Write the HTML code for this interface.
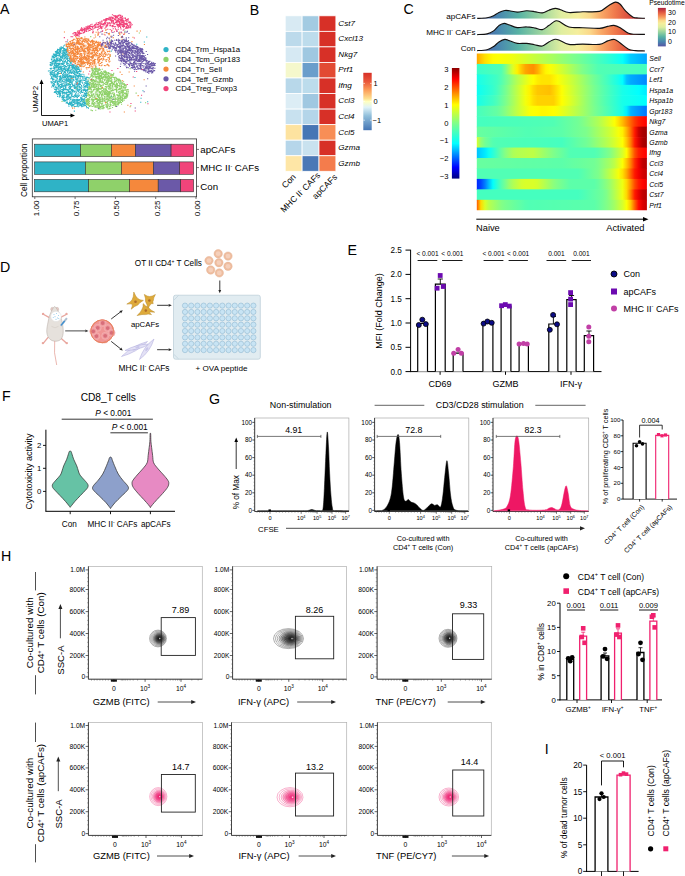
<!DOCTYPE html>
<html><head><meta charset="utf-8"><style>
html,body{margin:0;padding:0;background:#fff;overflow:hidden}
svg{display:block;font-family:"Liberation Sans",sans-serif}
.pl{font-size:14.2px}
</style></head><body>
<svg width="685" height="876" viewBox="0 0 685 876">
<text x="0" y="14" class="pl">A</text>
<path d="M60.9 53.3h.1M52.0 76.3h.1M66.6 96.5h.1M74.7 104.1h.1M55.4 51.6h.1M56.9 81.0h.1M52.1 57.2h.1M62.2 81.2h.1M81.3 88.4h.1M70.6 99.5h.1M66.3 92.1h.1M80.1 80.4h.1M77.4 81.8h.1M83.1 103.9h.1M65.1 86.5h.1M56.4 51.6h.1M54.8 59.8h.1M52.9 72.6h.1M82.3 98.8h.1M64.0 100.1h.1M56.7 58.9h.1M49.9 70.7h.1M87.6 87.8h.1M85.5 93.5h.1M65.3 69.4h.1M59.0 54.5h.1M53.7 67.2h.1M59.7 66.2h.1M67.5 76.0h.1M84.1 88.2h.1M56.3 93.0h.1M62.8 58.3h.1M70.0 68.0h.1M77.3 104.7h.1M64.2 58.1h.1M57.8 83.6h.1M66.7 82.1h.1M80.8 91.6h.1M81.6 105.6h.1M87.4 90.0h.1M82.6 106.2h.1M75.6 77.5h.1M84.4 96.4h.1M61.4 59.4h.1M66.4 52.5h.1M67.9 81.1h.1M67.2 55.8h.1M56.6 74.1h.1M62.7 77.0h.1M53.9 79.6h.1M80.4 76.3h.1M74.1 76.2h.1M67.7 77.9h.1M77.5 99.6h.1M72.0 103.8h.1M54.5 72.1h.1M80.9 100.9h.1M84.8 105.3h.1M65.6 75.0h.1M56.1 71.5h.1M55.7 63.7h.1M50.4 65.2h.1M81.1 105.6h.1M60.5 52.4h.1M71.7 86.7h.1M75.0 94.9h.1M67.8 65.6h.1M60.4 52.4h.1M54.1 54.4h.1M62.1 63.5h.1M78.9 79.0h.1M69.4 96.9h.1M77.1 106.3h.1M77.8 84.4h.1M59.9 54.5h.1M84.3 86.6h.1M61.4 73.2h.1M62.0 66.7h.1M68.6 76.0h.1M52.8 70.7h.1M73.0 77.6h.1M78.2 99.8h.1M78.5 84.9h.1M70.5 76.1h.1M78.0 89.3h.1M71.9 83.9h.1M81.4 91.5h.1M52.7 61.0h.1M79.1 105.9h.1M68.8 87.4h.1M55.6 60.2h.1M52.1 61.2h.1M71.2 72.8h.1M50.4 73.2h.1M67.6 61.2h.1M58.1 80.9h.1M82.3 76.4h.1M67.6 63.3h.1M62.3 97.3h.1M61.2 67.7h.1M73.1 67.0h.1M60.3 76.5h.1M86.9 77.0h.1M80.5 84.5h.1M68.5 65.9h.1M71.9 69.1h.1M69.5 58.1h.1M67.2 53.7h.1M59.2 60.5h.1M79.5 70.3h.1M64.7 65.6h.1M69.7 84.0h.1M60.5 59.9h.1M59.6 51.1h.1M76.8 103.7h.1M80.4 71.8h.1M86.3 85.0h.1M61.7 85.4h.1M72.9 68.7h.1M75.4 100.1h.1M50.6 75.7h.1M59.9 86.4h.1M51.1 65.6h.1M57.6 94.6h.1M62.1 96.0h.1M57.2 58.3h.1M65.4 57.7h.1M65.4 101.0h.1M62.8 55.9h.1M64.8 67.8h.1M58.0 66.7h.1M68.5 67.8h.1M64.2 100.9h.1M85.7 94.2h.1M59.9 91.4h.1M79.8 102.1h.1M68.6 104.7h.1M59.7 71.4h.1M73.9 64.9h.1M59.8 92.3h.1M86.6 107.8h.1M77.9 72.4h.1M74.4 86.8h.1M72.3 67.8h.1M59.5 59.7h.1M72.7 64.8h.1M69.9 58.8h.1M68.6 96.0h.1M51.3 62.8h.1M88.4 81.1h.1M58.0 91.9h.1M58.4 67.5h.1M59.8 82.1h.1M50.2 64.9h.1M62.1 57.1h.1M66.9 81.3h.1M66.0 62.1h.1M62.1 80.0h.1M64.2 56.7h.1M66.6 96.0h.1M68.0 54.5h.1M75.2 101.7h.1M64.5 76.1h.1M70.4 102.7h.1M81.7 105.3h.1M58.5 69.8h.1M57.0 58.0h.1M65.0 52.0h.1M72.1 92.1h.1M54.4 82.1h.1M61.9 70.7h.1M74.4 71.0h.1M59.1 92.5h.1M56.8 74.1h.1M66.8 50.0h.1M80.6 76.5h.1M63.7 92.0h.1M60.6 95.7h.1M60.6 77.2h.1M56.4 93.8h.1M75.0 66.9h.1M72.8 100.0h.1M74.8 69.1h.1M64.0 92.5h.1M75.1 106.4h.1M74.2 71.5h.1M56.6 58.6h.1M53.9 66.8h.1M74.5 74.2h.1M59.4 53.6h.1M84.4 93.6h.1M72.1 66.3h.1M87.0 90.6h.1M51.5 77.8h.1M57.6 82.6h.1M62.0 63.2h.1M80.9 89.4h.1M79.4 73.6h.1M57.2 53.4h.1M77.4 97.6h.1M71.7 71.8h.1M60.3 84.8h.1M60.1 59.1h.1M74.8 88.0h.1M68.4 97.3h.1M67.1 90.0h.1M58.1 83.5h.1M62.5 50.8h.1M77.4 90.8h.1M64.2 95.9h.1M86.1 103.9h.1M85.0 85.9h.1M57.8 65.8h.1M78.2 67.5h.1M68.1 99.0h.1M77.7 78.2h.1M55.7 92.5h.1M69.4 66.1h.1M57.8 87.8h.1M74.7 66.7h.1M57.9 60.8h.1M64.8 100.1h.1M70.9 91.9h.1M63.6 64.8h.1M76.1 91.1h.1M80.5 80.8h.1M57.3 63.3h.1M55.9 54.1h.1M62.8 56.2h.1M53.7 68.5h.1M78.9 71.7h.1M51.4 59.1h.1M77.3 75.8h.1M55.3 82.4h.1M72.5 91.5h.1M78.4 99.8h.1M65.0 65.5h.1M78.1 84.0h.1M67.8 83.5h.1M75.7 93.4h.1M78.8 102.6h.1M78.2 76.6h.1M70.5 70.1h.1M76.9 69.0h.1M50.3 62.5h.1M77.5 66.5h.1M79.2 103.6h.1M58.1 52.4h.1M74.9 73.9h.1M75.1 95.9h.1M61.4 78.9h.1M63.8 98.0h.1M59.5 69.7h.1M59.4 63.3h.1M75.1 85.9h.1M82.7 101.4h.1M85.3 83.4h.1M59.7 50.6h.1M76.3 100.7h.1M57.6 88.0h.1M67.2 100.0h.1M58.0 53.2h.1M69.3 75.7h.1M68.3 79.8h.1M63.0 68.7h.1M76.9 103.1h.1M69.5 72.4h.1M63.2 98.7h.1M70.6 92.9h.1M66.5 79.2h.1M69.7 61.4h.1M75.8 94.3h.1M61.6 81.3h.1M84.9 78.7h.1M81.1 101.7h.1M74.6 88.2h.1M58.2 86.4h.1M53.7 55.7h.1M86.1 85.6h.1M81.0 79.7h.1M66.5 64.3h.1M70.8 103.8h.1M68.6 70.3h.1M57.8 53.0h.1M59.8 87.7h.1M83.7 90.3h.1M77.9 73.3h.1M86.1 86.8h.1M52.9 63.9h.1M84.0 74.9h.1M72.6 71.9h.1M75.4 84.0h.1M81.0 103.9h.1M61.3 48.0h.1M73.8 106.0h.1M62.0 71.3h.1M77.0 82.2h.1M60.2 70.9h.1M72.5 61.5h.1M73.9 100.9h.1M57.7 91.6h.1M73.9 87.0h.1M59.8 91.7h.1M72.8 100.9h.1M68.7 81.4h.1M56.9 88.5h.1M67.5 76.9h.1M53.9 84.2h.1M78.8 67.1h.1M60.1 93.4h.1M54.3 54.3h.1M66.5 103.0h.1M59.9 79.9h.1M76.4 69.0h.1M59.9 66.4h.1M55.5 91.9h.1M61.0 82.8h.1M54.6 74.6h.1M55.4 87.0h.1M74.7 72.8h.1M68.7 83.9h.1M66.1 54.0h.1M63.0 54.8h.1M85.3 86.4h.1M61.1 60.5h.1M63.3 53.1h.1M67.0 101.8h.1M55.2 55.6h.1M57.5 49.2h.1M69.4 61.5h.1M77.9 95.5h.1M65.9 89.8h.1M63.0 97.4h.1M68.7 99.3h.1M54.3 67.4h.1M78.1 95.8h.1M81.1 65.1h.1M69.4 76.6h.1M58.6 55.7h.1M51.6 87.0h.1M70.5 88.6h.1M54.6 75.4h.1M54.6 69.8h.1M72.5 91.4h.1M66.4 97.3h.1M87.2 93.3h.1M63.0 71.7h.1M81.5 95.2h.1M66.5 84.2h.1M55.5 75.2h.1M80.6 103.4h.1M84.9 100.1h.1M60.3 87.1h.1M86.5 83.5h.1M61.1 63.5h.1M73.4 104.6h.1M68.3 77.9h.1M54.9 62.8h.1M59.4 49.8h.1M74.0 80.2h.1M78.0 73.3h.1M68.4 63.8h.1M67.9 71.3h.1M59.2 79.4h.1M65.8 76.5h.1M63.1 66.5h.1M83.5 96.1h.1M79.3 92.2h.1M77.9 102.0h.1M73.0 75.7h.1M66.3 93.7h.1M64.8 72.8h.1M61.4 68.9h.1M62.5 93.9h.1M67.4 55.8h.1M72.6 81.0h.1M62.6 97.5h.1M60.1 71.8h.1M69.5 102.4h.1M70.3 87.5h.1M73.4 66.4h.1M64.6 69.5h.1M84.7 105.2h.1M63.4 77.7h.1M82.6 76.6h.1M77.2 96.1h.1M66.5 54.1h.1M57.0 84.0h.1M89.3 84.4h.1M61.8 97.4h.1M57.5 75.7h.1M75.4 77.8h.1M66.1 51.9h.1M56.5 77.2h.1M62.5 89.4h.1M60.3 50.5h.1M65.4 71.1h.1M85.5 95.8h.1M65.2 89.6h.1M59.4 55.2h.1M73.3 70.9h.1M63.7 59.7h.1M76.1 65.8h.1M53.4 61.2h.1M67.3 97.1h.1M63.7 89.9h.1M85.5 81.3h.1M70.1 78.5h.1M65.0 85.8h.1M65.2 49.6h.1M62.5 86.1h.1M63.6 77.0h.1M54.7 89.5h.1M85.9 93.2h.1M55.0 61.7h.1M76.1 66.4h.1M79.5 90.3h.1M61.8 68.3h.1M83.1 80.2h.1M68.6 84.8h.1M61.1 46.9h.1M51.6 59.6h.1M77.3 69.1h.1M60.9 49.9h.1M82.1 82.1h.1M70.1 102.9h.1M71.4 105.5h.1M59.6 48.0h.1M57.7 63.8h.1M59.3 76.8h.1M63.7 63.1h.1M72.1 65.3h.1M76.2 82.0h.1M61.0 68.2h.1M77.6 72.5h.1M73.9 67.5h.1M76.3 106.3h.1M57.3 78.5h.1M75.4 83.9h.1M60.2 56.3h.1M61.5 55.9h.1M62.7 55.9h.1M64.4 79.0h.1M72.3 83.9h.1M85.7 103.9h.1M55.6 62.1h.1M69.1 53.3h.1M81.0 71.1h.1M70.2 70.8h.1M76.2 96.4h.1M61.5 72.2h.1M57.5 49.6h.1M84.1 105.8h.1M76.6 82.7h.1M63.4 100.1h.1M76.7 72.5h.1M64.5 80.9h.1M72.2 69.2h.1M85.1 78.8h.1M59.8 50.2h.1M69.2 79.2h.1M53.6 77.0h.1M67.2 98.8h.1M65.3 55.0h.1M59.1 67.7h.1M58.2 63.2h.1M72.1 102.2h.1M54.6 67.8h.1M71.5 95.0h.1M57.4 72.4h.1M57.1 79.2h.1M64.9 53.3h.1M76.6 96.1h.1M71.0 102.4h.1M76.7 69.0h.1M84.4 82.8h.1M56.5 67.0h.1M65.1 66.6h.1M60.6 75.8h.1M67.9 103.5h.1M84.4 93.1h.1M64.1 62.0h.1M87.1 87.3h.1M79.1 76.4h.1M71.6 69.9h.1M68.9 67.4h.1M63.6 52.8h.1M67.7 72.4h.1M61.7 63.7h.1M86.4 81.1h.1M63.9 93.1h.1M52.4 74.8h.1M56.2 61.1h.1M65.6 56.9h.1M80.3 101.6h.1M63.3 52.8h.1M58.1 64.9h.1M65.4 87.4h.1M74.6 65.3h.1M59.9 73.5h.1M51.9 83.0h.1M53.4 54.1h.1M66.5 78.2h.1M75.9 82.2h.1M60.0 89.2h.1M62.0 93.0h.1M60.8 77.3h.1M50.1 74.3h.1M59.2 92.5h.1M69.7 79.3h.1M64.3 53.6h.1M69.6 84.4h.1M67.9 64.0h.1M73.7 68.9h.1M59.7 60.8h.1M57.8 92.2h.1M84.1 99.1h.1M62.9 74.9h.1M76.9 82.0h.1M80.7 98.8h.1M56.4 87.4h.1M57.7 94.2h.1M66.8 50.8h.1M62.3 99.7h.1M55.1 71.3h.1M54.3 92.5h.1M84.8 90.4h.1M60.2 48.6h.1M65.0 77.0h.1M71.3 78.9h.1M84.5 89.6h.1M65.1 68.6h.1M73.9 102.7h.1M66.4 56.8h.1M75.4 78.9h.1M74.8 91.2h.1M65.4 77.5h.1M62.5 83.9h.1M78.4 77.2h.1M70.7 77.3h.1M59.2 55.1h.1M75.2 96.5h.1M51.4 68.3h.1M52.6 56.5h.1M70.4 72.8h.1M67.6 74.4h.1M55.7 87.2h.1M59.2 67.6h.1M56.8 89.6h.1M59.3 96.9h.1M66.5 94.3h.1M51.4 72.2h.1M61.5 70.0h.1M63.7 68.6h.1M78.0 67.7h.1M64.8 77.4h.1M73.3 73.4h.1M66.2 74.1h.1M69.3 76.5h.1M79.2 69.6h.1M71.9 93.5h.1M76.1 87.4h.1M82.2 99.3h.1M60.1 64.0h.1M70.6 79.9h.1M81.6 98.3h.1M51.8 78.1h.1M69.2 81.1h.1M62.2 77.9h.1M62.6 61.5h.1M78.0 94.9h.1M67.0 84.6h.1M52.6 81.9h.1M72.0 94.8h.1M57.9 50.6h.1M85.6 87.1h.1M59.0 81.0h.1M62.6 97.4h.1M51.0 68.2h.1M68.2 90.2h.1M70.6 62.6h.1M69.5 103.0h.1M85.0 83.1h.1M85.2 97.6h.1M51.0 82.0h.1M87.3 85.7h.1M67.6 59.8h.1M52.5 79.5h.1M80.3 81.8h.1M72.7 66.5h.1M56.2 54.9h.1M83.2 99.4h.1M53.3 75.8h.1M71.0 76.2h.1M65.8 57.1h.1M69.1 94.2h.1M58.8 91.6h.1M50.9 69.1h.1M73.5 96.2h.1M74.3 87.9h.1M66.1 69.9h.1M78.9 87.1h.1M55.3 56.7h.1M80.7 101.6h.1M57.6 83.7h.1M63.6 54.5h.1M82.7 103.4h.1M67.0 96.4h.1M70.9 104.0h.1M57.6 73.1h.1M65.3 93.7h.1M65.9 49.7h.1M63.2 81.8h.1M73.8 73.1h.1M63.8 97.6h.1M53.2 61.3h.1M76.0 95.2h.1M57.0 61.4h.1M74.0 100.7h.1M67.8 95.4h.1M53.7 79.1h.1M85.3 86.3h.1M64.1 86.0h.1M70.5 87.0h.1M76.9 79.4h.1M51.1 64.8h.1M73.1 80.7h.1M79.4 84.7h.1M61.3 78.6h.1M75.5 95.1h.1M88.0 89.1h.1M56.1 80.6h.1M63.5 53.0h.1M56.2 90.9h.1M51.8 63.0h.1M57.4 66.3h.1M60.3 57.1h.1M62.2 53.8h.1M71.9 86.6h.1M70.8 62.4h.1M82.6 80.0h.1M60.3 59.6h.1M79.7 87.1h.1M54.1 63.6h.1M74.9 87.9h.1M87.1 91.1h.1M70.9 77.1h.1M55.0 65.6h.1M69.7 98.0h.1M65.8 80.5h.1M81.1 97.2h.1M79.7 75.8h.1M77.7 88.7h.1M52.4 82.3h.1M58.2 58.3h.1M64.0 88.4h.1M60.6 47.9h.1M58.6 84.0h.1M83.2 94.9h.1M69.8 71.0h.1M78.5 81.2h.1M81.7 105.0h.1M52.5 74.4h.1M76.9 89.0h.1M57.3 69.7h.1M79.0 76.8h.1M60.3 79.6h.1M79.5 104.1h.1M60.2 66.7h.1M63.8 101.0h.1M86.0 94.4h.1M72.1 76.3h.1M78.0 103.9h.1M78.8 68.5h.1M59.7 78.4h.1M85.1 78.0h.1M74.6 100.2h.1M57.9 59.6h.1M53.8 81.6h.1M67.9 81.2h.1M68.4 69.5h.1M59.2 85.3h.1M58.8 69.0h.1M78.1 90.6h.1M58.4 86.7h.1M88.4 89.1h.1M56.2 76.6h.1M85.1 102.1h.1M71.8 96.1h.1M71.9 94.3h.1M67.1 41.8h.1M66.8 51.2h.1M63.7 50.1h.1M64.3 63.3h.1M74.6 106.4h.1M77.3 82.0h.1M65.9 82.8h.1M83.0 89.5h.1M56.9 68.0h.1M75.7 103.1h.1M61.1 63.7h.1M80.4 93.2h.1M74.7 67.4h.1M56.1 77.8h.1M53.3 57.6h.1M78.2 106.7h.1M77.0 87.8h.1M59.6 60.5h.1M58.0 60.6h.1M73.2 85.7h.1M61.2 49.0h.1M54.2 75.4h.1M60.0 94.6h.1M78.6 71.6h.1M56.0 85.9h.1M56.9 53.3h.1M64.9 85.4h.1M64.3 77.3h.1M64.9 92.5h.1M58.4 68.5h.1M68.5 99.2h.1M50.9 71.9h.1M54.4 74.5h.1M67.2 51.7h.1M68.9 106.3h.1M72.1 99.2h.1M58.2 49.5h.1M68.0 90.4h.1M62.3 57.2h.1M68.4 91.0h.1M69.6 82.4h.1M81.7 104.0h.1M64.3 101.3h.1M73.5 101.2h.1M51.1 71.9h.1M79.5 81.1h.1M68.7 76.5h.1M67.9 58.5h.1M65.1 66.6h.1M67.8 79.7h.1M59.3 51.8h.1M55.2 77.2h.1M52.0 59.0h.1M67.7 70.0h.1M83.9 104.7h.1M67.4 47.6h.1M70.8 97.8h.1M59.4 85.8h.1M87.3 103.6h.1M56.9 87.9h.1M64.1 74.8h.1M65.8 87.1h.1M77.9 85.1h.1M57.9 70.1h.1M59.0 90.7h.1M59.8 59.2h.1M66.4 49.1h.1M72.7 66.7h.1M56.7 74.6h.1M56.1 67.6h.1M77.8 105.3h.1M61.7 60.4h.1M72.1 90.1h.1M58.9 61.0h.1M55.6 65.4h.1M67.2 75.0h.1M53.3 83.6h.1M81.2 90.3h.1M55.8 88.0h.1M57.8 94.0h.1M77.9 95.0h.1M53.4 86.1h.1M57.4 81.0h.1M59.3 60.5h.1M61.3 84.6h.1M62.1 86.1h.1M58.7 92.9h.1M61.4 63.6h.1M51.7 76.7h.1M57.6 51.8h.1M64.1 89.5h.1M65.1 74.8h.1M58.5 64.3h.1M67.5 102.8h.1M53.9 73.0h.1M68.3 80.3h.1M64.6 53.1h.1M70.9 96.9h.1M80.1 71.1h.1M54.4 60.6h.1M87.8 82.4h.1M78.2 90.6h.1M59.6 60.3h.1M62.5 55.1h.1M57.2 70.6h.1M83.5 96.0h.1M65.2 70.4h.1M66.0 84.4h.1M81.7 106.8h.1M75.8 68.3h.1M71.2 65.5h.1M71.5 73.0h.1M80.8 99.2h.1M60.0 49.3h.1M68.1 69.6h.1M62.0 84.2h.1M85.5 90.6h.1M73.1 96.6h.1M66.3 99.8h.1M64.1 67.2h.1M51.1 81.5h.1M66.8 50.0h.1M58.5 91.3h.1M67.0 68.3h.1M57.7 63.3h.1M57.1 78.8h.1M85.9 79.0h.1M69.7 101.0h.1M70.0 103.1h.1M74.8 95.0h.1M60.0 61.6h.1M78.2 91.5h.1M73.7 101.3h.1M78.4 91.6h.1M62.4 96.5h.1M81.4 87.0h.1M63.1 92.6h.1M56.1 70.1h.1M56.1 58.0h.1M62.3 76.1h.1M69.1 103.9h.1M77.6 105.3h.1M66.6 66.4h.1M83.5 90.2h.1M66.9 63.0h.1M79.0 104.2h.1M76.7 65.7h.1M65.7 55.7h.1M62.6 74.5h.1M70.9 102.9h.1M62.9 68.7h.1M60.1 67.6h.1M86.0 78.3h.1M60.2 90.6h.1M89.1 78.1h.1M57.4 91.5h.1M80.6 82.2h.1M56.1 55.6h.1M65.3 60.2h.1M56.7 55.6h.1M70.8 87.2h.1M81.2 80.6h.1M73.6 65.5h.1M83.9 102.0h.1M57.7 65.4h.1M76.3 80.2h.1M86.7 83.1h.1M62.4 92.1h.1M71.9 60.3h.1M55.6 92.3h.1M73.2 70.4h.1M60.7 51.4h.1M78.8 85.2h.1M66.7 80.3h.1M67.9 98.8h.1M75.0 68.0h.1M51.0 74.4h.1M68.2 73.8h.1M57.1 52.8h.1M57.1 75.8h.1M80.4 84.1h.1M86.1 95.1h.1M58.9 73.5h.1M76.9 79.2h.1M55.2 73.9h.1M64.3 79.2h.1M72.9 105.3h.1M57.8 52.0h.1M72.1 104.1h.1M87.5 84.3h.1M76.4 67.0h.1M57.9 76.3h.1M76.3 87.4h.1M72.4 91.4h.1M62.2 80.1h.1M86.0 82.5h.1M84.7 76.8h.1M65.8 88.3h.1M55.6 67.2h.1M74.5 85.5h.1M71.6 66.9h.1M55.3 54.2h.1M69.7 80.5h.1M52.0 70.9h.1M57.6 96.5h.1M63.1 92.6h.1M87.9 83.2h.1M53.2 85.2h.1M70.1 103.4h.1M61.9 64.7h.1M66.8 54.7h.1M83.4 85.2h.1M51.9 73.4h.1M76.5 71.5h.1M56.4 64.1h.1M63.0 61.0h.1M65.7 87.7h.1M52.5 78.5h.1M53.7 75.9h.1M76.4 75.5h.1M77.0 88.3h.1M62.5 47.6h.1M63.5 88.2h.1M84.1 84.4h.1M62.6 89.6h.1M85.9 93.9h.1M88.3 84.9h.1M57.5 77.0h.1M64.6 76.5h.1M60.7 76.0h.1M70.9 61.6h.1M80.8 76.9h.1M70.0 67.9h.1M77.9 95.9h.1M58.2 72.8h.1M64.0 91.9h.1M59.0 93.8h.1M74.7 88.4h.1M88.0 77.4h.1M63.1 51.1h.1M69.1 67.5h.1M78.0 100.8h.1M67.2 70.8h.1M57.0 54.2h.1M83.6 100.5h.1M67.2 69.3h.1M48.4 71.0h.1M63.0 87.1h.1M71.8 82.8h.1M73.7 76.4h.1M62.1 70.5h.1M60.3 78.2h.1M60.4 93.3h.1M51.9 68.2h.1M80.7 97.4h.1M60.0 91.8h.1M54.0 73.8h.1M64.4 71.5h.1M77.6 76.8h.1M70.0 75.4h.1M63.9 65.4h.1M61.0 49.5h.1M54.3 85.7h.1M62.8 97.6h.1M65.7 54.4h.1M67.5 69.9h.1M67.9 96.8h.1M87.9 87.3h.1M68.5 56.7h.1M70.0 64.0h.1M68.9 83.2h.1M76.7 78.7h.1M67.3 96.7h.1M64.2 72.5h.1M82.6 77.1h.1M67.2 96.7h.1M50.1 64.8h.1M56.1 62.7h.1M86.6 95.4h.1M71.7 82.9h.1M77.5 73.5h.1M60.9 91.3h.1M77.4 69.2h.1M70.0 75.9h.1M79.4 99.6h.1M63.5 90.5h.1M69.9 93.9h.1M63.8 95.5h.1M75.0 74.7h.1M58.4 71.8h.1M59.8 96.7h.1M53.7 70.2h.1M65.1 53.6h.1M57.3 74.2h.1M69.7 97.1h.1M80.2 80.2h.1M72.5 85.2h.1M52.3 84.9h.1M71.6 90.5h.1M58.2 49.6h.1M61.6 73.4h.1M62.8 51.0h.1M66.1 103.0h.1M70.1 72.1h.1M82.8 74.3h.1M76.0 79.6h.1M56.9 82.2h.1M74.7 84.1h.1M54.9 63.2h.1M57.8 84.8h.1M50.6 72.1h.1M63.1 52.3h.1M71.4 95.3h.1M64.4 55.6h.1M66.2 51.9h.1M67.0 58.6h.1M75.4 96.8h.1M60.8 51.1h.1M67.2 92.4h.1M70.4 71.1h.1M55.4 81.0h.1M62.5 80.8h.1M61.7 89.4h.1M54.7 74.1h.1M58.6 49.4h.1M59.7 58.6h.1M72.7 96.5h.1M67.1 62.0h.1M60.6 84.8h.1M69.4 58.7h.1M69.8 89.7h.1M59.9 95.7h.1M89.4 85.1h.1M56.7 60.6h.1M68.1 89.3h.1M53.9 74.3h.1M66.6 67.9h.1M75.6 69.6h.1M79.3 89.4h.1M81.0 74.2h.1M55.9 80.1h.1M53.8 54.0h.1M60.3 69.2h.1M64.8 45.0h.1M58.2 57.9h.1M69.8 59.8h.1M78.0 95.4h.1M71.2 61.0h.1M77.9 80.4h.1M73.5 102.5h.1M64.5 50.7h.1M87.0 93.4h.1M54.1 83.4h.1M76.9 100.6h.1M69.3 65.3h.1M67.4 94.3h.1M52.7 72.8h.1M66.2 97.9h.1M59.2 63.5h.1M75.4 76.1h.1M66.5 97.1h.1M50.2 68.4h.1M52.3 78.5h.1M65.8 50.7h.1M73.5 99.2h.1M86.3 96.4h.1M72.7 68.1h.1M74.2 65.2h.1M72.3 101.9h.1M50.9 73.3h.1M88.3 83.6h.1M69.4 92.1h.1M64.9 58.5h.1M73.8 64.8h.1M80.7 104.4h.1M65.1 66.1h.1M71.7 95.2h.1M71.5 102.8h.1M55.9 52.7h.1M81.6 76.3h.1M84.2 96.4h.1M82.9 102.4h.1M76.9 97.8h.1M59.7 78.5h.1M77.4 86.7h.1M53.6 62.0h.1M53.9 66.3h.1M53.3 86.4h.1M76.1 99.4h.1M50.9 65.7h.1M78.1 93.8h.1M54.8 68.5h.1M62.6 62.0h.1M68.8 68.2h.1M67.6 80.0h.1M60.0 50.7h.1M55.9 71.5h.1M64.9 97.3h.1M54.6 84.4h.1M70.2 62.4h.1M79.6 73.8h.1M81.5 90.4h.1M58.5 67.9h.1M85.1 103.9h.1M70.4 81.1h.1M66.2 66.4h.1M87.1 81.5h.1M59.7 64.1h.1M56.0 66.1h.1M59.1 93.5h.1M77.1 68.2h.1M61.7 48.4h.1M79.0 83.7h.1M59.0 56.0h.1M67.7 89.4h.1M73.4 85.5h.1M75.8 79.0h.1M67.4 99.1h.1M61.7 58.9h.1M80.0 80.4h.1M50.9 78.7h.1M62.2 57.4h.1M79.8 75.1h.1M58.4 74.0h.1M76.2 92.5h.1M78.9 86.5h.1M73.5 90.3h.1M63.4 50.3h.1M53.5 60.1h.1M84.9 103.5h.1M77.4 79.7h.1M62.8 64.5h.1M60.5 57.6h.1M54.5 55.6h.1M67.5 63.5h.1M86.2 94.2h.1M62.8 52.7h.1M71.0 96.9h.1M74.6 71.1h.1M60.6 51.6h.1M53.5 83.6h.1M58.4 92.5h.1M63.1 69.4h.1M59.5 76.2h.1M79.5 82.2h.1M78.6 69.4h.1M61.7 78.7h.1M76.7 71.1h.1M79.4 89.3h.1M74.6 95.0h.1M58.1 53.5h.1M49.8 70.7h.1M83.2 90.4h.1M69.3 75.2h.1M60.3 59.3h.1M72.4 100.5h.1M50.4 65.0h.1M71.8 81.8h.1M63.4 96.3h.1M54.4 57.5h.1M70.2 79.7h.1M75.8 81.4h.1M66.6 70.8h.1M64.1 68.9h.1M65.4 72.6h.1M84.5 103.5h.1M62.6 47.9h.1M59.3 60.3h.1M68.4 68.7h.1M84.1 98.4h.1M76.2 74.1h.1M73.1 70.8h.1M58.8 65.9h.1M67.2 95.6h.1M66.0 83.6h.1M61.9 83.3h.1M59.8 81.2h.1M55.9 60.8h.1M56.3 56.4h.1M62.9 69.2h.1M68.6 69.3h.1M66.6 102.4h.1M70.6 87.3h.1M64.0 88.4h.1M57.9 55.4h.1M78.0 71.6h.1M71.6 64.9h.1M60.8 66.1h.1M78.5 100.4h.1M60.0 77.6h.1M66.8 59.5h.1M63.3 47.1h.1M75.7 66.7h.1M53.7 56.8h.1M75.3 87.3h.1M51.4 82.9h.1M67.1 103.0h.1M74.8 85.7h.1M56.6 59.5h.1M71.7 90.1h.1M50.4 64.3h.1M60.2 95.0h.1M66.0 54.0h.1M55.0 54.6h.1M65.0 79.0h.1M84.1 102.4h.1M81.0 80.4h.1M61.6 66.9h.1M81.4 99.9h.1M80.0 88.0h.1M68.0 95.5h.1M70.1 91.3h.1M77.3 69.7h.1M71.8 67.1h.1M53.9 54.5h.1M71.7 78.3h.1M76.5 84.7h.1M70.8 92.9h.1M85.5 91.4h.1M80.8 87.2h.1M69.1 94.6h.1M76.9 72.7h.1M70.8 104.9h.1M78.1 75.1h.1M63.1 89.3h.1M89.3 85.2h.1M52.7 80.2h.1M67.4 63.7h.1M78.6 96.4h.1M63.5 52.2h.1M82.9 104.8h.1M51.9 77.6h.1M72.0 82.0h.1M77.1 89.3h.1M61.1 46.7h.1M62.2 90.9h.1M63.6 82.0h.1M62.8 63.5h.1M73.2 96.4h.1M74.3 111.1h.1M72.3 104.2h.1M72.0 67.0h.1M59.9 96.1h.1M64.3 81.0h.1M80.6 66.2h.1M68.0 94.4h.1M70.9 61.6h.1M66.0 79.5h.1M71.1 80.5h.1M67.2 55.9h.1M54.9 60.3h.1M73.5 67.2h.1M59.1 81.4h.1M54.0 58.3h.1M62.6 64.2h.1M65.7 88.5h.1M57.0 50.6h.1M79.4 86.5h.1M74.1 92.1h.1M77.0 82.7h.1M68.2 78.9h.1M71.9 65.0h.1M67.1 85.4h.1M52.3 63.6h.1M75.2 103.2h.1M70.6 84.2h.1M63.9 83.4h.1M59.6 64.5h.1M51.2 63.1h.1M65.2 77.3h.1M86.2 90.7h.1M76.5 84.1h.1M86.4 77.8h.1M63.6 48.5h.1M66.3 51.3h.1M84.0 96.1h.1M82.7 76.8h.1M54.5 64.7h.1M66.2 92.9h.1M58.7 64.7h.1M52.1 71.7h.1M69.4 88.6h.1M63.1 70.3h.1M65.6 80.9h.1M78.8 83.1h.1M82.6 83.3h.1M65.4 61.2h.1M74.9 103.1h.1M61.7 78.3h.1M72.7 84.5h.1M58.3 85.8h.1M59.9 69.7h.1M62.6 70.4h.1M79.1 75.4h.1M69.6 79.7h.1M74.3 86.8h.1M64.7 48.5h.1M84.1 101.4h.1M56.5 66.1h.1M82.3 96.8h.1M60.1 80.5h.1M64.9 50.5h.1M55.1 61.8h.1M70.6 98.1h.1M59.3 53.5h.1M85.0 85.7h.1M71.0 76.7h.1M59.3 81.4h.1M66.5 78.3h.1M80.3 78.2h.1M72.3 72.0h.1M58.5 89.1h.1M77.8 90.0h.1M76.3 75.5h.1M63.9 45.8h.1M62.9 52.6h.1M63.6 75.8h.1M72.0 105.5h.1M62.4 91.1h.1M57.9 67.5h.1M72.6 105.1h.1M71.0 81.0h.1M64.6 84.8h.1M64.4 61.6h.1M61.3 78.1h.1M52.7 70.4h.1M68.7 60.5h.1M84.5 80.5h.1M68.8 73.8h.1M86.4 89.9h.1M84.7 103.7h.1M59.3 52.9h.1M68.0 73.9h.1M71.1 63.7h.1M86.4 106.4h.1M67.6 60.4h.1M55.2 76.2h.1M67.9 76.9h.1M66.6 102.7h.1M63.8 89.5h.1M72.8 72.4h.1M60.2 84.4h.1M81.2 92.4h.1M58.3 52.4h.1M61.2 57.2h.1M72.1 82.7h.1M74.6 95.5h.1M59.7 94.5h.1M88.1 80.9h.1M67.0 80.7h.1M56.9 81.0h.1M69.9 64.1h.1M68.3 84.0h.1M70.0 77.9h.1M69.6 66.7h.1M85.3 103.2h.1M83.8 87.1h.1M64.2 93.9h.1M52.3 56.1h.1M86.5 79.2h.1M70.3 62.0h.1M63.8 56.7h.1M71.4 103.3h.1M70.2 86.5h.1M77.8 102.6h.1M68.1 95.4h.1M80.0 87.2h.1M74.3 99.6h.1M56.9 65.2h.1M77.0 99.7h.1M71.2 101.2h.1M76.1 89.1h.1M66.4 89.4h.1M69.0 85.8h.1M53.1 74.9h.1M74.4 74.7h.1M57.0 88.2h.1M83.6 80.1h.1M69.0 68.9h.1M82.9 78.5h.1M61.8 68.2h.1M67.5 80.8h.1M71.0 75.6h.1M76.4 65.7h.1M64.0 48.9h.1M87.6 85.0h.1M73.9 77.5h.1M57.5 84.3h.1M79.9 105.4h.1M87.4 89.5h.1M56.8 65.6h.1M52.2 64.9h.1M64.0 68.7h.1M74.8 72.0h.1M60.7 77.4h.1M55.5 76.2h.1M55.5 60.7h.1M67.0 70.6h.1M57.3 52.6h.1M76.6 67.2h.1M66.9 64.3h.1M76.4 70.2h.1M67.9 79.4h.1M66.8 49.6h.1M57.0 55.8h.1M59.5 55.8h.1M82.0 86.9h.1M75.8 72.1h.1M80.5 98.8h.1M70.1 60.1h.1M77.0 76.4h.1M87.9 107.5h.1M67.1 71.0h.1M60.6 51.9h.1M72.7 61.7h.1M73.3 79.5h.1M57.1 63.5h.1M68.5 103.6h.1M66.4 76.1h.1M72.8 66.1h.1M64.8 82.3h.1M57.5 82.2h.1M76.0 77.2h.1M69.2 98.4h.1M67.5 57.3h.1M77.2 83.2h.1M61.5 87.4h.1M82.5 92.5h.1M85.8 105.4h.1M81.4 85.6h.1M55.0 91.8h.1M73.4 79.2h.1M71.2 73.4h.1M54.1 88.0h.1M67.7 65.6h.1M79.5 95.2h.1M57.1 65.4h.1M67.6 63.3h.1M66.4 58.3h.1M65.5 85.7h.1M71.7 105.8h.1M83.6 76.9h.1M64.8 58.6h.1M53.2 78.9h.1M74.2 101.7h.1M55.8 89.4h.1M68.3 99.3h.1M74.3 67.9h.1M62.2 97.9h.1M56.1 91.7h.1M63.9 49.5h.1M79.1 75.4h.1M85.3 79.9h.1M62.5 58.1h.1M62.6 92.7h.1M69.9 84.2h.1M65.9 89.8h.1M61.7 91.7h.1M71.4 89.4h.1M68.7 91.5h.1M60.0 81.4h.1M64.2 99.8h.1M86.8 84.1h.1M69.4 86.6h.1M82.3 100.1h.1M83.9 99.9h.1M59.6 94.9h.1M85.6 95.0h.1M72.5 90.6h.1M69.6 76.3h.1M77.1 76.4h.1M50.0 72.2h.1M59.8 96.3h.1M81.5 99.1h.1M64.5 72.7h.1M54.8 64.7h.1M57.0 60.0h.1M54.8 91.6h.1M74.3 68.7h.1M66.5 64.1h.1M69.8 97.9h.1M52.2 74.4h.1M65.5 73.0h.1M60.6 55.9h.1M64.0 101.3h.1M52.3 62.0h.1M54.6 65.1h.1M62.9 95.7h.1M85.5 91.1h.1M76.2 86.7h.1M77.2 85.8h.1M70.2 81.5h.1M70.9 61.8h.1M84.3 89.7h.1M72.9 80.8h.1M77.1 99.9h.1M60.0 64.0h.1M77.6 102.6h.1M84.6 95.0h.1M63.6 73.5h.1M86.2 92.6h.1M63.2 55.4h.1M75.7 70.2h.1M83.1 91.9h.1M60.2 88.2h.1M75.7 78.9h.1M55.5 81.6h.1M56.9 59.4h.1M52.9 56.1h.1M55.8 66.1h.1M78.5 76.2h.1M60.8 57.6h.1M55.9 90.1h.1M59.9 92.5h.1M75.2 88.1h.1M70.4 85.3h.1M68.4 92.2h.1M63.0 69.1h.1M79.4 100.2h.1M54.7 76.8h.1M65.1 54.8h.1M75.7 66.1h.1M65.8 100.5h.1M72.4 91.8h.1M72.0 79.2h.1M69.1 92.7h.1M63.2 86.2h.1M58.0 53.4h.1M77.8 103.4h.1M66.7 85.8h.1M63.7 79.2h.1M65.8 50.0h.1M70.0 104.5h.1M67.1 77.5h.1M53.3 70.8h.1M69.8 91.8h.1M64.9 89.2h.1M57.2 65.9h.1M74.2 97.3h.1M70.5 82.5h.1M72.3 105.4h.1M87.9 86.7h.1M52.7 61.9h.1M64.1 99.5h.1M85.4 89.2h.1M71.1 62.7h.1M66.4 78.5h.1M87.7 77.5h.1M81.1 74.9h.1M74.5 88.1h.1M63.8 51.9h.1M57.8 82.1h.1M69.1 70.8h.1M70.5 65.4h.1M69.3 76.0h.1M69.3 72.9h.1M65.9 75.5h.1M57.4 74.4h.1M60.3 94.2h.1M62.0 97.8h.1M83.7 105.9h.1M54.6 59.6h.1M54.9 62.3h.1M79.7 74.1h.1M57.9 60.3h.1M73.4 77.0h.1M61.2 86.5h.1M79.4 71.5h.1M87.9 80.8h.1M73.9 91.3h.1M72.0 60.9h.1M74.3 91.5h.1M67.7 71.5h.1M62.5 92.2h.1M60.6 68.1h.1M61.4 48.0h.1M77.6 69.5h.1M71.8 77.3h.1M52.5 85.6h.1M76.8 102.0h.1M81.2 105.3h.1M70.5 93.7h.1M72.3 89.6h.1M76.8 101.3h.1M69.0 97.2h.1M65.3 85.4h.1M68.0 91.9h.1M73.1 73.2h.1M63.1 85.3h.1M60.5 79.9h.1M79.6 83.6h.1M69.0 92.2h.1M111.2 51.1h.1M76.3 72.2h.1M141.0 98.3h.1M70.9 48.4h.1M142.9 90.8h.1M71.9 106.6h.1M134.9 77.5h.1M146.7 36.9h.1M136.7 44.2h.1M120.9 83.1h.1M144.3 41.9h.1M88.4 108.3h.1M147.6 101.8h.1M81.4 100.5h.1M136.6 57.6h.1M92.3 57.8h.1M140.2 63.8h.1M111.4 96.4h.1M129.3 60.4h.1M140.7 102.2h.1" stroke="#2fb3c6" stroke-width="1.05" stroke-linecap="square" fill="none"/>
<path d="M105.6 93.4h.1M113.0 96.5h.1M92.8 103.6h.1M91.3 91.9h.1M117.0 78.7h.1M122.0 93.1h.1M90.1 84.1h.1M102.3 69.2h.1M98.8 108.5h.1M112.6 102.4h.1M107.0 81.0h.1M99.0 73.6h.1M109.1 106.7h.1M102.0 86.2h.1M118.0 79.5h.1M102.5 94.7h.1M101.9 107.0h.1M121.5 86.6h.1M97.1 107.1h.1M112.9 92.9h.1M100.6 86.7h.1M122.3 96.2h.1M102.3 103.7h.1M96.0 77.9h.1M96.0 84.9h.1M95.0 106.7h.1M99.3 107.1h.1M110.2 74.0h.1M100.3 92.9h.1M112.9 84.3h.1M117.8 99.6h.1M95.1 97.8h.1M96.6 101.5h.1M110.1 85.7h.1M99.2 99.1h.1M116.4 78.4h.1M100.3 84.9h.1M100.6 81.1h.1M118.4 98.2h.1M92.8 71.3h.1M109.4 94.5h.1M96.3 70.1h.1M108.7 86.5h.1M100.4 85.7h.1M92.0 68.6h.1M99.8 100.6h.1M106.3 89.9h.1M125.8 86.1h.1M90.9 105.6h.1M93.5 94.8h.1M91.9 84.7h.1M107.7 93.2h.1M97.7 76.3h.1M123.3 87.8h.1M107.6 94.3h.1M101.9 97.0h.1M88.4 99.1h.1M115.1 99.2h.1M119.2 86.6h.1M99.3 70.0h.1M97.9 68.7h.1M116.7 88.4h.1M99.2 78.5h.1M90.7 87.9h.1M112.5 103.3h.1M111.2 88.3h.1M93.1 94.2h.1M89.5 101.7h.1M98.3 107.1h.1M114.5 77.6h.1M97.0 92.0h.1M94.8 74.1h.1M111.2 90.4h.1M105.8 103.0h.1M123.7 84.4h.1M99.7 79.1h.1M105.7 82.5h.1M125.6 84.9h.1M126.2 97.9h.1M113.6 96.1h.1M105.1 78.0h.1M119.9 84.8h.1M99.1 92.4h.1M116.5 91.3h.1M100.6 72.3h.1M91.9 96.4h.1M104.4 93.8h.1M112.4 85.2h.1M121.7 90.2h.1M115.7 104.3h.1M123.9 87.7h.1M92.2 102.9h.1M111.4 78.2h.1M96.3 74.4h.1M119.4 95.5h.1M106.9 99.4h.1M118.3 95.9h.1M86.5 103.0h.1M98.5 88.2h.1M91.5 81.0h.1M94.1 104.6h.1M98.7 89.0h.1M120.0 88.5h.1M111.4 98.8h.1M106.0 75.8h.1M102.6 100.1h.1M95.7 99.5h.1M96.7 84.2h.1M118.7 102.8h.1M98.0 78.8h.1M113.1 83.4h.1M93.9 103.4h.1M105.7 96.9h.1M108.9 86.1h.1M89.4 97.6h.1M105.3 74.5h.1M104.6 92.6h.1M122.3 82.9h.1M112.4 82.5h.1M103.6 89.6h.1M92.6 84.9h.1M127.4 95.4h.1M110.7 98.2h.1M118.3 85.5h.1M96.1 104.9h.1M104.7 99.1h.1M95.3 81.5h.1M97.4 96.1h.1M127.7 94.1h.1M118.4 92.8h.1M89.2 86.7h.1M93.2 76.8h.1M98.2 76.8h.1M108.4 97.1h.1M94.5 84.5h.1M109.0 96.5h.1M86.0 99.5h.1M88.9 94.3h.1M91.0 80.0h.1M119.2 79.7h.1M113.0 101.5h.1M95.2 103.3h.1M95.0 99.5h.1M109.4 87.3h.1M108.0 77.3h.1M96.7 99.6h.1M91.1 99.7h.1M106.0 88.9h.1M101.3 92.3h.1M117.8 95.2h.1M93.1 84.6h.1M105.8 102.0h.1M116.5 80.4h.1M94.0 80.8h.1M111.2 73.9h.1M94.6 102.5h.1M120.1 93.6h.1M114.5 94.4h.1M116.8 87.0h.1M97.0 76.2h.1M98.3 85.8h.1M118.4 102.0h.1M120.0 97.7h.1M104.7 75.3h.1M99.7 107.3h.1M106.4 94.4h.1M108.9 78.7h.1M104.2 74.7h.1M101.5 104.2h.1M112.6 74.8h.1M109.3 92.1h.1M99.2 99.5h.1M101.6 85.7h.1M95.0 68.8h.1M107.4 91.5h.1M112.8 97.6h.1M107.6 95.2h.1M118.0 98.7h.1M92.5 80.7h.1M106.8 78.2h.1M121.7 83.8h.1M109.8 81.2h.1M87.9 94.4h.1M112.2 83.7h.1M119.7 83.6h.1M111.5 77.6h.1M99.4 94.8h.1M95.2 68.8h.1M93.0 87.2h.1M91.2 68.7h.1M109.8 83.9h.1M106.2 82.1h.1M119.8 91.8h.1M107.1 91.1h.1M108.0 77.3h.1M107.0 81.0h.1M93.3 104.3h.1M107.9 99.0h.1M104.3 72.8h.1M124.4 92.9h.1M104.5 96.6h.1M101.9 86.0h.1M109.0 99.0h.1M101.7 75.4h.1M91.2 91.5h.1M101.7 82.7h.1M101.1 78.3h.1M93.3 71.0h.1M120.4 86.3h.1M120.1 98.9h.1M95.4 98.4h.1M106.3 99.5h.1M114.8 95.9h.1M101.5 88.7h.1M99.7 77.5h.1M100.0 100.3h.1M122.7 97.9h.1M93.3 103.5h.1M99.7 70.2h.1M121.9 84.7h.1M94.0 87.7h.1M120.0 81.0h.1M117.5 97.7h.1M100.4 89.2h.1M115.9 87.2h.1M125.5 84.7h.1M94.4 80.5h.1M110.1 98.1h.1M108.3 93.1h.1M100.2 80.4h.1M104.7 90.2h.1M99.1 92.8h.1M106.0 75.4h.1M100.4 80.2h.1M110.5 84.8h.1M98.3 99.6h.1M113.5 96.8h.1M114.3 82.2h.1M102.6 77.6h.1M101.3 88.4h.1M100.9 78.6h.1M107.0 93.6h.1M100.5 76.4h.1M92.9 77.3h.1M92.5 100.3h.1M100.5 101.5h.1M91.5 83.8h.1M118.6 89.6h.1M105.2 86.7h.1M106.6 96.2h.1M90.6 96.1h.1M120.8 88.5h.1M116.8 79.8h.1M102.0 82.6h.1M108.9 98.7h.1M89.2 105.5h.1M109.9 93.3h.1M125.8 84.7h.1M101.6 76.3h.1M94.2 87.7h.1M107.9 78.9h.1M103.8 88.4h.1M97.2 71.0h.1M119.9 88.2h.1M124.5 97.4h.1M126.7 91.9h.1M88.0 95.7h.1M92.1 78.9h.1M97.2 105.4h.1M112.5 86.1h.1M97.5 100.6h.1M114.7 84.8h.1M90.0 77.5h.1M97.2 81.8h.1M98.5 86.9h.1M88.0 96.0h.1M111.2 95.5h.1M102.5 73.6h.1M123.4 94.8h.1M97.1 88.4h.1M96.0 98.8h.1M89.5 89.3h.1M119.8 83.4h.1M109.7 108.2h.1M100.5 69.8h.1M114.4 94.8h.1M100.2 78.2h.1M109.5 93.8h.1M96.9 90.4h.1M102.3 105.9h.1M124.5 85.8h.1M98.6 77.7h.1M107.0 86.6h.1M96.8 80.9h.1M114.3 81.3h.1M96.2 77.0h.1M109.1 80.7h.1M92.7 95.7h.1M104.0 105.2h.1M110.6 75.7h.1M98.4 97.3h.1M97.9 72.4h.1M95.3 94.9h.1M103.5 91.0h.1M101.3 74.3h.1M95.3 91.9h.1M97.6 88.7h.1M106.0 76.8h.1M118.5 95.2h.1M109.7 77.4h.1M96.9 86.5h.1M105.4 72.8h.1M117.7 99.7h.1M117.9 100.3h.1M124.3 98.4h.1M101.8 105.8h.1M100.1 78.9h.1M105.5 76.7h.1M92.6 75.3h.1M122.7 90.5h.1M83.2 101.3h.1M104.1 72.0h.1M116.1 86.6h.1M104.1 79.5h.1M103.0 92.1h.1M106.5 102.5h.1M118.4 80.0h.1M91.4 99.3h.1M94.8 72.9h.1M92.3 81.9h.1M91.9 78.8h.1M106.0 106.2h.1M93.5 83.5h.1M98.8 69.7h.1M114.1 84.4h.1M88.9 88.3h.1M96.0 85.5h.1M95.6 83.6h.1M90.0 82.5h.1M95.4 80.0h.1M91.0 85.3h.1M117.0 78.7h.1M118.7 82.6h.1M92.9 100.9h.1M107.9 105.1h.1M110.0 78.1h.1M118.1 103.6h.1M95.0 87.4h.1M100.0 72.4h.1M104.5 83.6h.1M111.6 88.0h.1M128.0 93.0h.1M99.2 68.9h.1M99.5 102.3h.1M98.7 70.4h.1M120.4 80.2h.1M110.0 93.0h.1M106.0 92.7h.1M109.6 83.7h.1M117.8 85.5h.1M125.9 94.3h.1M95.9 71.4h.1M120.0 84.0h.1M97.0 106.6h.1M109.4 97.0h.1M125.7 98.4h.1M103.3 105.6h.1M104.2 75.6h.1M114.8 104.1h.1M99.8 84.9h.1M119.9 95.0h.1M97.4 99.1h.1M91.6 76.1h.1M92.1 106.5h.1M109.1 77.1h.1M122.9 95.5h.1M121.8 88.1h.1M93.9 76.3h.1M103.7 88.2h.1M111.7 100.7h.1M119.0 79.0h.1M98.5 102.8h.1M105.8 90.0h.1M106.5 87.1h.1M110.7 97.5h.1M128.3 89.8h.1M119.8 97.5h.1M113.0 102.7h.1M98.0 89.7h.1M97.7 85.0h.1M95.0 87.9h.1M127.2 95.0h.1M93.7 93.7h.1M99.2 91.6h.1M110.5 85.8h.1M120.7 99.7h.1M112.9 88.8h.1M101.8 85.6h.1M101.4 71.5h.1M107.8 82.0h.1M105.5 71.2h.1M99.3 94.4h.1M92.9 86.6h.1M108.4 86.5h.1M102.5 79.8h.1M92.0 87.1h.1M127.3 97.0h.1M97.7 84.5h.1M109.3 95.2h.1M101.5 94.4h.1M96.9 84.3h.1M111.7 100.5h.1M124.3 95.9h.1M122.0 99.1h.1M94.3 73.1h.1M124.9 97.1h.1M98.1 70.9h.1M122.2 90.4h.1M119.5 102.0h.1M99.9 106.4h.1M104.8 101.7h.1M100.8 82.1h.1M88.4 94.1h.1M99.5 105.0h.1M102.0 102.9h.1M90.6 76.3h.1M103.0 84.4h.1M95.6 68.6h.1M100.8 92.1h.1M121.1 90.7h.1M91.0 96.0h.1M97.4 73.3h.1M94.4 96.1h.1M109.1 99.3h.1M119.9 96.3h.1M88.6 100.4h.1M110.0 88.3h.1M104.3 92.1h.1M99.6 98.7h.1M107.4 91.3h.1M107.0 81.9h.1M93.9 74.4h.1M116.0 81.1h.1M97.8 107.3h.1M112.3 86.8h.1M110.4 100.1h.1M101.6 101.1h.1M92.6 91.3h.1M118.6 81.1h.1M98.5 76.6h.1M109.8 91.9h.1M118.0 81.3h.1M107.3 107.6h.1M93.1 106.2h.1M103.7 71.3h.1M94.2 89.3h.1M95.4 87.3h.1M88.5 102.8h.1M128.2 91.3h.1M118.0 95.7h.1M106.3 74.3h.1M102.7 107.1h.1M91.8 70.0h.1M111.8 79.4h.1M123.0 96.1h.1M123.1 88.0h.1M94.6 68.5h.1M89.0 86.5h.1M108.1 108.9h.1M110.8 78.4h.1M106.3 107.0h.1M115.9 101.9h.1M102.0 72.2h.1M98.2 104.1h.1M114.2 101.2h.1M102.4 99.0h.1M97.0 103.3h.1M99.9 97.6h.1M103.5 99.1h.1M99.1 88.4h.1M113.1 75.6h.1M99.3 74.8h.1M91.2 80.3h.1M113.2 84.5h.1M116.8 103.0h.1M121.3 85.5h.1M119.9 93.9h.1M122.0 95.1h.1M86.5 100.5h.1M87.4 103.4h.1M104.3 100.4h.1M120.6 97.8h.1M114.2 102.1h.1M105.2 91.7h.1M123.3 90.5h.1M100.0 89.0h.1M101.7 82.5h.1M101.9 82.0h.1M108.5 94.3h.1M105.1 94.6h.1M99.3 91.5h.1M119.2 94.8h.1M119.1 95.6h.1M124.4 83.7h.1M100.1 103.2h.1M100.7 91.9h.1M100.7 92.0h.1M117.3 84.0h.1M101.6 87.7h.1M119.9 84.1h.1M86.8 101.9h.1M107.4 105.2h.1M94.1 86.9h.1M115.0 89.3h.1M104.9 91.5h.1M102.0 91.0h.1M99.9 88.6h.1M92.8 80.4h.1M88.1 104.0h.1M99.3 95.7h.1M107.8 82.6h.1M126.4 93.2h.1M116.0 85.3h.1M113.1 101.7h.1M105.3 77.6h.1M103.0 100.9h.1M109.6 76.1h.1M107.5 103.4h.1M107.0 83.7h.1M107.5 83.6h.1M123.8 90.2h.1M96.0 69.3h.1M118.7 85.5h.1M109.8 88.5h.1M97.9 106.9h.1M106.2 88.9h.1M101.0 94.2h.1M120.0 89.7h.1M101.7 99.2h.1M104.7 92.7h.1M88.7 88.1h.1M103.5 106.3h.1M92.8 80.8h.1M112.2 90.6h.1M92.7 103.6h.1M95.9 107.2h.1M113.2 83.6h.1M96.6 76.9h.1M125.9 97.8h.1M120.3 101.6h.1M96.7 101.2h.1M114.1 99.5h.1M122.6 91.7h.1M122.4 101.4h.1M96.4 98.4h.1M109.6 91.3h.1M105.6 91.2h.1M90.3 97.5h.1M109.7 87.4h.1M103.0 99.3h.1M88.0 79.3h.1M93.3 73.9h.1M109.8 84.8h.1M128.2 91.8h.1M95.1 74.6h.1M121.5 92.1h.1M91.0 95.5h.1M109.3 84.0h.1M119.2 88.4h.1M99.2 105.4h.1M94.9 107.1h.1M115.7 86.5h.1M95.1 89.3h.1M93.2 76.2h.1M90.6 87.5h.1M123.1 83.5h.1M95.6 76.2h.1M113.7 77.4h.1M107.5 106.7h.1M88.6 102.4h.1M99.0 99.0h.1M95.4 69.7h.1M108.1 82.2h.1M91.3 79.1h.1M105.3 79.8h.1M94.6 69.5h.1M102.4 99.3h.1M86.5 101.5h.1M98.4 100.4h.1M91.1 74.5h.1M113.8 103.6h.1M106.5 92.4h.1M100.5 78.0h.1M89.7 83.5h.1M116.7 86.2h.1M111.8 74.5h.1M103.4 82.8h.1M88.9 87.9h.1M93.8 93.7h.1M115.0 86.2h.1M104.0 72.0h.1M110.6 106.0h.1M93.4 100.9h.1M97.3 95.6h.1M108.3 78.6h.1M93.1 101.8h.1M123.6 86.3h.1M106.9 77.6h.1M116.7 103.0h.1M94.6 74.9h.1M115.9 98.3h.1M101.5 77.0h.1M115.4 106.4h.1M127.0 90.0h.1M93.4 83.8h.1M110.5 83.4h.1M102.8 101.7h.1M88.6 92.1h.1M95.9 76.3h.1M125.9 85.3h.1M117.5 95.3h.1M106.7 105.5h.1M100.6 93.5h.1M106.4 90.1h.1M96.3 79.0h.1M101.3 95.9h.1M117.0 94.6h.1M116.5 83.1h.1M91.9 95.5h.1M124.3 93.8h.1M97.7 90.0h.1M96.4 76.9h.1M97.2 103.1h.1M99.6 88.9h.1M91.3 75.1h.1M116.4 83.7h.1M99.3 76.7h.1M102.7 82.6h.1M93.3 70.5h.1M120.4 98.5h.1M94.1 104.7h.1M112.7 85.3h.1M97.7 78.8h.1M123.1 91.9h.1M100.5 99.5h.1M119.1 102.1h.1M98.6 99.6h.1M110.3 80.2h.1M114.2 95.6h.1M107.0 83.1h.1M107.8 85.0h.1M96.2 68.5h.1M100.5 79.8h.1M111.1 97.0h.1M109.6 98.1h.1M124.7 87.7h.1M97.6 74.4h.1M93.6 79.4h.1M116.2 78.1h.1M111.6 83.8h.1M97.9 82.1h.1M89.3 103.6h.1M98.3 72.8h.1M108.8 95.0h.1M93.3 85.6h.1M121.5 104.2h.1M94.9 68.5h.1M121.2 97.1h.1M105.0 72.1h.1M107.8 83.0h.1M87.2 99.0h.1M114.1 99.1h.1M110.9 90.2h.1M112.9 90.5h.1M104.3 98.0h.1M98.7 89.5h.1M125.2 93.5h.1M101.6 75.7h.1M106.7 73.8h.1M119.9 84.4h.1M115.6 77.2h.1M122.1 91.4h.1M96.4 68.5h.1M99.0 81.8h.1M115.9 105.5h.1M99.1 108.1h.1M115.7 81.8h.1M92.3 76.9h.1M105.0 76.6h.1M87.4 100.2h.1M119.6 80.3h.1M116.1 84.5h.1M109.5 106.5h.1M111.2 102.2h.1M106.6 77.5h.1M125.5 92.9h.1M113.4 104.9h.1M92.8 69.4h.1M91.4 99.9h.1M87.5 100.7h.1M102.1 73.6h.1M100.2 100.9h.1M104.7 101.0h.1M93.0 104.4h.1M125.3 96.4h.1M92.9 83.2h.1M104.0 108.0h.1M111.6 82.9h.1M86.6 104.4h.1M98.5 88.0h.1M105.4 93.5h.1M93.4 89.8h.1M117.4 85.6h.1M113.0 90.7h.1M113.5 94.8h.1M106.8 91.1h.1M110.7 105.8h.1M108.8 89.3h.1M125.2 88.7h.1M98.3 103.6h.1M116.8 84.1h.1M123.3 91.3h.1M94.7 89.7h.1M122.2 97.9h.1M106.4 107.1h.1M90.1 88.0h.1M97.8 76.7h.1M102.4 90.6h.1M111.9 101.7h.1M113.1 99.0h.1M125.7 87.5h.1M108.2 87.9h.1M119.0 95.0h.1M102.5 93.9h.1M101.0 78.1h.1M91.2 92.8h.1M112.2 89.8h.1M91.3 99.9h.1M97.2 96.4h.1M104.5 92.1h.1M100.8 93.4h.1M102.3 94.4h.1M124.9 87.7h.1M107.4 91.5h.1M107.5 83.7h.1M91.7 73.5h.1M111.3 82.1h.1M112.3 82.5h.1M118.5 99.1h.1M95.8 67.6h.1M99.1 107.9h.1M102.1 97.8h.1M93.3 99.4h.1M110.9 85.7h.1M116.5 89.6h.1M97.5 100.1h.1M108.3 93.0h.1M88.3 91.9h.1M115.9 97.9h.1M105.7 93.2h.1M108.6 80.0h.1M97.2 89.5h.1M108.6 97.2h.1M112.2 99.5h.1M96.7 88.2h.1M107.8 101.3h.1M112.4 101.1h.1M99.3 98.2h.1M126.3 86.0h.1M117.6 95.4h.1M99.5 69.7h.1M89.7 106.5h.1M120.5 96.8h.1M100.5 103.3h.1M115.4 100.0h.1M110.0 74.3h.1M89.3 106.4h.1M89.4 96.0h.1M105.8 93.0h.1M103.2 76.6h.1M116.9 103.1h.1M87.6 98.7h.1M90.6 93.0h.1M102.4 78.3h.1M102.8 101.8h.1M106.6 102.0h.1M105.4 84.5h.1M91.7 76.0h.1M99.0 107.0h.1M101.0 94.5h.1M108.5 91.9h.1M97.6 89.0h.1M106.9 90.9h.1M110.3 93.4h.1M90.6 82.2h.1M124.8 97.8h.1M97.0 91.4h.1M95.0 107.2h.1M107.7 96.1h.1M117.3 87.4h.1M105.1 101.8h.1M120.2 82.1h.1M119.0 103.1h.1M110.3 104.6h.1M94.2 86.4h.1M89.8 91.4h.1M93.2 80.3h.1M110.3 74.3h.1M114.3 79.0h.1M93.2 90.7h.1M93.4 89.5h.1M91.2 90.7h.1M95.6 73.3h.1M106.7 72.7h.1M98.2 77.8h.1M85.8 100.9h.1M97.9 72.9h.1M116.5 99.3h.1M93.3 82.7h.1M107.1 77.9h.1M88.6 101.8h.1M107.9 76.2h.1M124.5 84.5h.1M114.9 103.6h.1M97.6 83.9h.1M97.9 84.1h.1M110.4 91.9h.1M120.8 89.0h.1M89.2 99.5h.1M122.2 92.4h.1M108.1 92.3h.1M101.7 90.7h.1M105.7 78.1h.1M91.6 99.5h.1M115.0 86.7h.1M95.9 66.5h.1M105.0 70.9h.1M92.3 103.7h.1M115.8 85.4h.1M97.6 90.4h.1M107.1 80.1h.1M122.4 98.2h.1M92.8 99.5h.1M101.0 75.5h.1M110.3 88.3h.1M98.5 82.1h.1M107.1 83.6h.1M109.0 91.7h.1M99.6 102.9h.1M119.5 79.6h.1M92.5 83.4h.1M91.0 96.0h.1M90.9 89.2h.1M107.6 91.0h.1M117.9 102.2h.1M92.8 84.7h.1M94.1 81.5h.1M120.0 96.5h.1M120.0 96.7h.1M90.2 79.7h.1M92.0 98.3h.1M90.6 88.2h.1M122.1 97.4h.1M102.4 82.8h.1M111.1 73.9h.1M110.3 87.8h.1M108.5 79.9h.1M100.1 86.3h.1M95.9 86.6h.1M107.1 93.1h.1M96.9 90.5h.1M102.6 104.0h.1M96.5 88.4h.1M91.9 81.2h.1M94.8 106.0h.1M109.5 86.6h.1M110.7 86.2h.1M90.1 87.5h.1M89.5 101.2h.1M92.0 102.1h.1M117.5 87.1h.1M100.4 99.2h.1M115.2 96.1h.1M115.4 99.9h.1M111.2 77.6h.1M96.6 94.8h.1M97.9 82.1h.1M107.9 109.0h.1M112.7 90.3h.1M112.9 77.3h.1M87.4 103.2h.1M101.6 95.5h.1M126.0 89.8h.1M100.4 102.7h.1M101.1 91.4h.1M104.1 94.0h.1M93.9 99.2h.1M116.2 89.1h.1M89.7 86.6h.1M104.3 77.0h.1M91.6 85.8h.1M94.9 84.0h.1M121.5 100.5h.1M109.3 108.6h.1M118.8 92.7h.1M88.5 89.7h.1M101.9 101.4h.1M96.2 101.6h.1M109.7 84.5h.1M126.6 96.8h.1M118.6 95.8h.1M99.3 75.2h.1M104.6 80.7h.1M114.7 105.0h.1M88.0 98.6h.1M120.9 92.6h.1M101.4 78.4h.1M119.7 103.0h.1M97.9 74.0h.1M107.3 106.6h.1M97.6 101.5h.1M123.3 92.8h.1M91.5 75.8h.1M115.1 101.3h.1M102.1 88.4h.1M101.9 108.6h.1M124.5 90.1h.1M94.7 80.6h.1M89.6 91.8h.1M110.3 103.3h.1M107.9 100.3h.1M106.8 80.9h.1M91.7 94.4h.1M107.2 107.7h.1M120.2 102.5h.1M108.9 95.4h.1M95.1 77.1h.1M95.5 71.4h.1M96.9 82.1h.1M93.8 100.4h.1M127.5 89.5h.1M96.1 68.2h.1M99.9 107.6h.1M97.7 104.9h.1M98.9 79.9h.1M108.0 91.6h.1M90.7 105.8h.1M106.7 79.9h.1M106.2 84.6h.1M102.1 103.7h.1M100.2 97.7h.1M115.2 103.7h.1M94.3 81.4h.1M99.7 78.4h.1M94.3 85.8h.1M92.1 80.2h.1M110.4 101.9h.1M99.0 94.2h.1M100.3 99.2h.1M102.9 81.6h.1M114.6 101.9h.1M116.2 101.7h.1M102.4 74.2h.1M105.3 74.6h.1M114.4 93.2h.1M100.8 106.2h.1M105.8 72.3h.1M92.2 72.3h.1M118.7 79.3h.1M114.2 89.7h.1M93.9 82.4h.1M91.2 86.2h.1M116.8 87.4h.1M89.1 87.0h.1M102.5 98.2h.1M103.6 107.6h.1M124.2 85.9h.1M92.9 69.0h.1M115.1 105.1h.1M97.9 69.3h.1M114.9 97.7h.1M119.8 91.5h.1M95.5 106.1h.1M122.7 89.7h.1M124.6 84.9h.1M100.1 82.3h.1M88.5 105.0h.1M100.8 89.1h.1M107.8 103.8h.1M114.5 83.0h.1M122.1 84.5h.1M98.2 95.8h.1M92.5 72.5h.1M101.1 106.4h.1M93.3 101.9h.1M94.1 87.1h.1M100.2 100.2h.1M112.8 105.4h.1M87.8 95.3h.1M97.3 74.0h.1M111.9 80.9h.1M95.7 110.3h.1M122.7 92.8h.1M98.8 105.6h.1M99.1 106.7h.1M92.9 97.3h.1M99.4 76.2h.1M98.2 69.1h.1M98.6 99.4h.1M109.0 73.2h.1M95.4 74.8h.1M90.2 88.4h.1M107.3 76.7h.1M119.8 100.1h.1M97.9 88.7h.1M96.8 68.2h.1M111.1 91.8h.1M95.5 87.3h.1M91.9 83.5h.1M122.7 99.4h.1M99.5 101.1h.1M115.1 77.2h.1M107.6 90.7h.1M122.8 94.1h.1M87.8 93.0h.1M110.4 96.8h.1M90.3 80.3h.1M100.7 86.8h.1M126.2 89.8h.1M103.5 77.8h.1M121.1 87.8h.1M126.2 86.0h.1M102.2 73.1h.1M117.1 83.5h.1M126.0 95.1h.1M109.5 91.2h.1M105.7 89.9h.1M98.5 108.2h.1M102.7 92.9h.1M126.6 91.2h.1M112.0 76.9h.1M108.4 75.3h.1M107.7 74.6h.1M97.1 71.8h.1M86.4 100.0h.1M113.7 73.2h.1M120.4 100.1h.1M101.6 103.8h.1M109.9 101.0h.1M98.4 84.1h.1M103.5 73.2h.1M97.3 69.7h.1M91.3 95.3h.1M123.5 81.8h.1M102.0 80.7h.1M108.3 88.2h.1M105.9 74.9h.1M104.1 94.6h.1M92.0 74.8h.1M107.9 85.0h.1M98.6 97.5h.1M113.9 102.0h.1M125.6 90.2h.1M104.1 72.6h.1M98.2 75.0h.1M121.3 91.9h.1M103.7 83.2h.1M120.9 80.8h.1M107.1 77.7h.1M105.0 99.0h.1M113.7 83.6h.1M102.7 73.7h.1M118.5 103.9h.1M103.1 95.7h.1M113.1 105.2h.1M119.2 85.6h.1M91.0 89.5h.1M112.8 87.3h.1M106.4 79.9h.1M112.6 90.3h.1M101.8 77.6h.1M94.3 71.7h.1M127.6 95.7h.1M123.0 89.9h.1M98.1 107.2h.1M109.8 84.8h.1M99.8 70.2h.1M101.0 74.9h.1M95.4 81.9h.1M103.2 74.5h.1M98.0 78.1h.1M106.7 104.5h.1M107.5 80.2h.1M110.9 81.4h.1M99.6 81.0h.1M104.1 107.8h.1M119.3 93.3h.1M89.3 88.9h.1M107.6 73.0h.1M95.7 86.9h.1M116.7 92.1h.1M107.1 95.9h.1M99.5 84.4h.1M108.3 76.0h.1M109.8 94.2h.1M97.1 93.8h.1M96.3 89.9h.1M97.0 106.4h.1M94.2 72.1h.1M100.6 107.6h.1M87.5 101.7h.1M120.6 96.3h.1M119.6 88.7h.1M105.6 72.0h.1M110.9 97.4h.1M109.9 92.8h.1M94.8 96.5h.1M118.2 89.5h.1M99.0 82.7h.1M100.2 75.5h.1M91.5 87.2h.1M107.4 101.6h.1M98.7 90.9h.1M108.8 73.2h.1M115.6 98.7h.1M106.7 76.9h.1M91.8 93.9h.1M106.0 100.0h.1M102.2 88.3h.1M109.5 73.3h.1M89.7 88.8h.1M117.1 90.7h.1M94.4 89.3h.1M95.9 92.1h.1M111.8 75.6h.1M113.5 74.2h.1M95.6 97.9h.1M120.4 81.0h.1M104.8 98.3h.1M98.2 87.4h.1M108.5 81.5h.1M105.6 86.5h.1M106.6 98.0h.1M120.1 95.8h.1M89.7 82.4h.1M101.8 96.7h.1M117.1 79.9h.1M91.4 89.2h.1M107.1 102.8h.1M115.0 79.9h.1M107.6 79.7h.1M104.9 89.0h.1M112.1 74.5h.1M89.0 105.7h.1M114.2 81.9h.1M98.1 71.4h.1M97.5 94.8h.1M108.2 85.2h.1M93.2 79.6h.1M93.6 105.8h.1M93.0 73.1h.1M119.5 89.1h.1M122.2 82.7h.1M115.2 81.2h.1M87.0 102.9h.1M112.6 86.3h.1M104.6 80.2h.1M122.8 101.0h.1M122.2 95.3h.1M99.6 92.7h.1M114.0 82.2h.1M98.3 89.3h.1M109.9 102.7h.1M91.5 81.2h.1M103.1 108.8h.1M96.3 85.1h.1M103.9 107.5h.1M108.3 72.6h.1M97.6 73.8h.1M86.2 101.3h.1M91.6 99.3h.1M121.3 97.1h.1M100.0 109.1h.1M115.4 89.7h.1M107.3 95.2h.1M99.2 99.1h.1M87.8 100.2h.1M111.5 101.6h.1M117.4 101.2h.1M96.6 74.5h.1M122.7 98.6h.1M118.8 100.8h.1M108.5 80.9h.1M95.1 70.8h.1M105.5 73.9h.1M120.8 92.3h.1M103.3 85.1h.1M111.7 93.9h.1M118.7 91.8h.1M116.7 95.0h.1M105.5 84.0h.1M99.6 84.1h.1M118.1 97.0h.1M97.9 102.6h.1M97.7 88.7h.1M110.6 108.3h.1M102.3 78.5h.1M126.7 94.3h.1M91.4 104.0h.1M100.2 93.1h.1M95.1 69.2h.1M105.6 93.6h.1M109.4 93.2h.1M111.2 83.7h.1M88.1 104.5h.1M117.3 84.8h.1M103.3 77.9h.1M126.7 95.9h.1M110.7 74.2h.1M116.5 90.4h.1M96.4 77.8h.1M108.5 73.5h.1M102.2 87.8h.1M108.2 101.0h.1M97.2 94.5h.1M114.8 86.5h.1M124.0 87.9h.1M98.0 96.7h.1M87.4 99.9h.1M122.7 98.4h.1M102.1 108.5h.1M105.8 88.3h.1M119.4 93.4h.1M113.7 90.3h.1M125.4 84.8h.1M88.7 81.8h.1M86.3 97.4h.1M95.7 93.7h.1M101.1 99.0h.1M115.0 85.5h.1M105.8 89.2h.1M111.9 101.9h.1M124.0 98.5h.1M97.0 98.5h.1M87.7 95.5h.1M108.6 99.9h.1M109.6 79.1h.1M99.2 97.8h.1M109.7 100.4h.1M106.9 98.5h.1M105.0 70.7h.1M93.4 80.5h.1M96.3 80.7h.1M106.9 94.2h.1M106.4 71.9h.1M89.3 99.1h.1M100.9 73.5h.1M106.7 84.4h.1M104.0 83.2h.1M98.0 90.8h.1M99.5 108.0h.1M99.2 104.2h.1M119.1 98.5h.1M112.9 92.6h.1M106.7 93.0h.1M92.2 92.2h.1M117.0 104.6h.1M100.8 85.3h.1M112.0 93.6h.1M87.9 105.1h.1M87.0 104.1h.1M111.4 80.3h.1M113.8 94.3h.1M117.7 95.4h.1M94.1 84.1h.1M96.6 98.3h.1M108.0 79.5h.1M106.2 94.6h.1M107.3 93.1h.1M94.8 84.6h.1M104.7 100.5h.1M110.0 89.1h.1M125.8 87.4h.1M112.5 107.4h.1M115.5 89.8h.1M88.6 100.0h.1M121.6 91.9h.1M103.0 92.2h.1M99.9 92.0h.1M107.2 98.5h.1M87.3 103.8h.1M98.7 96.4h.1M92.2 99.8h.1M121.0 99.7h.1M117.7 78.9h.1M124.1 100.1h.1M89.4 95.1h.1M96.8 89.6h.1M104.5 74.7h.1M108.1 105.1h.1M121.4 102.4h.1M94.8 72.3h.1M104.7 94.4h.1M111.0 104.7h.1M94.0 68.7h.1M105.3 104.8h.1M126.2 96.2h.1M99.3 83.9h.1M123.7 87.0h.1M118.1 104.9h.1M109.0 105.0h.1M116.1 77.8h.1M90.3 83.8h.1M92.4 70.6h.1M108.5 80.1h.1M125.0 90.2h.1M100.0 73.2h.1M114.6 79.1h.1M121.7 81.9h.1M93.6 86.3h.1M94.2 97.7h.1M95.6 71.8h.1M122.4 99.9h.1M99.2 95.9h.1M98.9 79.7h.1M107.6 97.0h.1M122.1 86.4h.1M111.9 82.0h.1M115.3 102.7h.1M139.3 33.0h.1M69.0 83.4h.1M109.9 40.6h.1M92.3 110.6h.1M124.8 30.9h.1M136.1 93.1h.1M130.7 105.8h.1M134.1 64.1h.1M110.3 56.1h.1M91.0 110.1h.1M130.1 68.6h.1M76.6 88.0h.1M145.5 102.8h.1M90.7 36.6h.1M62.0 101.5h.1M94.7 59.6h.1" stroke="#8fd16a" stroke-width="1.05" stroke-linecap="square" fill="none"/>
<path d="M85.7 48.6h.1M77.2 46.2h.1M71.0 44.1h.1M78.1 58.1h.1M78.2 41.2h.1M91.5 41.2h.1M93.7 60.7h.1M97.5 47.1h.1M80.5 47.3h.1M80.4 43.9h.1M83.5 46.7h.1M84.6 63.5h.1M87.1 49.1h.1M80.2 61.3h.1M85.3 39.9h.1M84.9 54.5h.1M84.8 52.1h.1M79.2 61.1h.1M80.9 64.9h.1M81.1 48.0h.1M94.7 59.3h.1M100.8 59.4h.1M86.4 48.3h.1M73.0 60.9h.1M88.3 60.0h.1M80.6 61.3h.1M86.8 57.1h.1M81.4 59.6h.1M82.6 48.4h.1M88.2 56.9h.1M74.6 44.8h.1M82.2 58.7h.1M73.2 53.8h.1M95.4 48.2h.1M80.8 38.1h.1M89.0 58.3h.1M90.4 49.7h.1M90.7 49.8h.1M78.0 47.1h.1M77.4 48.6h.1M92.6 41.7h.1M94.7 41.2h.1M94.8 42.9h.1M95.9 56.8h.1M92.0 52.4h.1M77.9 49.6h.1M79.6 50.5h.1M80.0 61.5h.1M76.0 55.1h.1M91.6 58.0h.1M78.0 47.2h.1M73.0 52.1h.1M98.7 44.4h.1M79.0 43.7h.1M85.5 48.3h.1M69.8 58.3h.1M89.3 51.0h.1M98.5 44.9h.1M98.2 50.9h.1M88.0 60.0h.1M79.2 42.2h.1M72.8 53.8h.1M76.0 39.9h.1M81.9 42.3h.1M95.9 64.0h.1M91.8 60.5h.1M71.8 59.4h.1M100.0 49.8h.1M93.4 50.5h.1M83.2 66.7h.1M97.3 55.5h.1M80.9 58.5h.1M95.4 42.9h.1M95.1 50.3h.1M90.1 63.7h.1M93.3 57.1h.1M90.8 62.5h.1M92.4 40.0h.1M77.0 52.1h.1M78.0 64.7h.1M95.7 54.0h.1M91.8 40.7h.1M81.3 62.5h.1M83.7 53.7h.1M92.0 41.3h.1M73.7 60.4h.1M103.2 58.6h.1M93.9 48.4h.1M71.5 51.8h.1M70.2 56.6h.1M90.9 54.1h.1M84.9 62.9h.1M79.2 64.3h.1M87.4 48.7h.1M79.0 48.4h.1M73.7 46.9h.1M86.6 60.4h.1M105.6 54.6h.1M98.3 43.2h.1M81.2 55.7h.1M73.1 51.4h.1M79.1 54.3h.1M87.0 63.1h.1M78.5 60.4h.1M72.0 60.7h.1M75.6 58.4h.1M101.8 46.8h.1M97.0 48.6h.1M74.5 53.2h.1M77.5 38.6h.1M81.6 61.7h.1M69.3 47.3h.1M89.6 48.8h.1M77.0 47.2h.1M92.6 55.4h.1M82.1 59.2h.1M73.6 62.3h.1M66.4 46.0h.1M76.1 49.6h.1M77.2 48.1h.1M81.6 62.1h.1M75.1 49.1h.1M69.7 54.2h.1M92.0 67.9h.1M89.7 60.4h.1M93.4 54.7h.1M79.6 58.5h.1M91.4 47.3h.1M73.3 45.4h.1M102.2 49.9h.1M76.1 59.3h.1M67.1 44.1h.1M87.1 67.5h.1M87.1 38.8h.1M89.0 45.5h.1M77.4 42.4h.1M70.1 44.0h.1M85.4 65.0h.1M90.7 45.1h.1M85.0 39.2h.1M81.5 47.0h.1M70.4 50.0h.1M87.0 47.8h.1M79.6 65.7h.1M79.2 51.5h.1M80.5 58.1h.1M80.5 66.5h.1M91.4 57.1h.1M86.9 47.0h.1M92.9 63.1h.1M95.2 48.4h.1M88.5 52.3h.1M90.1 48.0h.1M82.2 40.7h.1M88.4 50.8h.1M67.8 47.0h.1M74.7 57.1h.1M69.6 46.2h.1M98.0 45.6h.1M89.2 63.4h.1M82.8 62.5h.1M85.6 51.7h.1M99.1 57.3h.1M96.4 41.2h.1M87.2 47.3h.1M72.5 55.7h.1M73.2 59.4h.1M93.7 49.7h.1M84.5 59.2h.1M79.1 64.5h.1M89.4 44.5h.1M94.7 59.9h.1M92.0 62.7h.1M92.4 56.6h.1M102.5 48.7h.1M72.1 52.3h.1M97.2 44.8h.1M77.2 62.7h.1M76.8 49.7h.1M66.9 50.7h.1M90.7 47.0h.1M78.5 42.8h.1M91.6 40.5h.1M100.8 46.3h.1M78.1 53.8h.1M90.9 50.1h.1M94.8 54.8h.1M72.0 46.2h.1M85.0 58.9h.1M100.1 49.7h.1M86.3 60.0h.1M82.6 66.0h.1M88.1 40.3h.1M75.5 61.0h.1M78.3 53.7h.1M75.6 46.6h.1M75.1 56.7h.1M94.8 48.5h.1M90.2 57.1h.1M74.4 59.7h.1M93.5 60.6h.1M79.6 43.0h.1M70.2 43.2h.1M94.2 45.1h.1M80.5 46.2h.1M87.4 41.4h.1M91.8 54.0h.1M74.7 55.9h.1M96.8 42.8h.1M83.3 51.1h.1M93.6 48.6h.1M76.5 42.1h.1M72.0 44.2h.1M82.7 50.6h.1M100.6 45.9h.1M82.7 62.9h.1M87.8 43.6h.1M72.8 61.4h.1M70.5 52.5h.1M76.7 44.7h.1M79.9 55.2h.1M89.0 46.5h.1M82.4 41.7h.1M90.8 64.5h.1M87.8 50.5h.1M94.3 61.6h.1M103.5 48.6h.1M87.2 59.8h.1M99.8 54.6h.1M98.1 46.0h.1M92.8 55.7h.1M79.9 49.3h.1M77.3 58.5h.1M77.9 43.1h.1M80.4 40.7h.1M89.3 54.1h.1M69.4 44.0h.1M74.4 49.2h.1M72.6 45.6h.1M90.7 42.4h.1M103.2 50.7h.1M99.1 59.4h.1M73.5 54.7h.1M100.4 48.3h.1M84.6 56.2h.1M87.5 49.9h.1M74.9 51.0h.1M81.3 64.2h.1M89.8 63.0h.1M88.4 47.6h.1M93.0 58.0h.1M79.9 44.3h.1M72.7 45.8h.1M87.8 49.5h.1M86.7 52.9h.1M72.4 41.0h.1M83.9 56.4h.1M93.0 40.8h.1M96.5 48.5h.1M67.9 49.8h.1M78.3 42.2h.1M89.8 51.9h.1M67.8 54.4h.1M90.2 59.8h.1M79.4 56.5h.1M87.0 55.2h.1M85.5 57.6h.1M78.0 52.4h.1M88.0 46.5h.1M82.9 50.5h.1M88.7 40.3h.1M73.7 44.8h.1M92.8 49.8h.1M83.6 45.1h.1M96.3 49.2h.1M94.0 60.9h.1M81.4 37.8h.1M79.3 48.3h.1M76.4 38.1h.1M94.5 63.6h.1M68.2 46.7h.1M74.5 39.2h.1M77.8 51.6h.1M90.9 44.3h.1M78.7 48.0h.1M85.4 57.5h.1M77.2 48.2h.1M76.1 43.1h.1M86.0 60.2h.1M86.6 41.0h.1M80.1 57.5h.1M73.7 52.2h.1M75.1 55.0h.1M92.4 50.9h.1M79.7 39.7h.1M83.2 60.9h.1M83.2 60.7h.1M95.0 47.6h.1M98.1 56.9h.1M73.3 61.9h.1M84.4 55.3h.1M78.1 61.8h.1M93.2 52.7h.1M91.7 66.2h.1M77.0 38.5h.1M81.6 38.7h.1M76.9 60.1h.1M89.6 44.8h.1M104.4 53.0h.1M90.8 47.6h.1M84.3 61.9h.1M75.3 61.9h.1M81.2 43.6h.1M78.3 40.3h.1M84.2 49.4h.1M84.7 56.9h.1M72.8 55.7h.1M97.7 52.0h.1M80.5 53.8h.1M80.5 59.4h.1M88.3 40.7h.1M72.6 53.3h.1M85.8 57.8h.1M88.5 58.6h.1M79.5 44.6h.1M77.0 54.5h.1M95.1 53.5h.1M70.2 58.3h.1M74.9 58.9h.1M78.4 44.1h.1M81.0 54.4h.1M77.0 64.7h.1M79.6 65.2h.1M67.3 50.1h.1M74.8 44.7h.1M66.6 46.6h.1M77.4 51.0h.1M79.5 59.5h.1M69.0 45.9h.1M77.3 53.0h.1M70.2 56.4h.1M74.2 54.2h.1M76.4 56.9h.1M87.8 48.0h.1M95.6 47.1h.1M94.5 52.4h.1M81.7 57.8h.1M80.2 55.1h.1M71.1 48.9h.1M88.4 45.4h.1M90.6 59.7h.1M81.0 43.9h.1M94.6 50.4h.1M71.8 59.4h.1M98.5 46.1h.1M75.7 58.4h.1M99.8 59.3h.1M93.1 48.6h.1M75.9 52.0h.1M71.4 43.5h.1M81.7 64.0h.1M73.2 52.2h.1M71.2 59.9h.1M79.3 51.4h.1M80.7 63.3h.1M82.4 44.4h.1M71.8 51.0h.1M74.0 44.2h.1M72.8 40.2h.1M85.8 40.4h.1M69.3 52.6h.1M71.0 56.6h.1M73.0 45.7h.1M71.7 57.9h.1M89.1 47.4h.1M71.5 52.0h.1M88.2 61.0h.1M87.9 56.2h.1M95.3 62.0h.1M94.2 55.0h.1M77.6 42.4h.1M81.9 57.3h.1M94.0 65.1h.1M99.6 49.0h.1M99.4 60.4h.1M74.2 60.1h.1M82.3 43.1h.1M82.5 48.8h.1M82.6 64.1h.1M94.8 54.6h.1M89.8 67.2h.1M96.0 50.8h.1M81.5 54.9h.1M77.8 57.6h.1M93.7 63.0h.1M73.6 53.1h.1M67.6 46.5h.1M73.1 60.8h.1M88.4 44.3h.1M95.5 48.9h.1M92.3 47.9h.1M68.3 44.5h.1M95.7 45.4h.1M90.0 41.4h.1M87.0 42.9h.1M77.1 53.3h.1M96.9 46.6h.1M98.1 60.7h.1M89.7 56.8h.1M73.6 39.3h.1M73.5 48.4h.1M90.8 45.0h.1M82.7 59.4h.1M72.8 43.7h.1M94.4 62.1h.1M89.8 45.1h.1M83.5 58.2h.1M81.8 38.6h.1M92.4 61.2h.1M88.4 43.2h.1M77.5 54.5h.1M73.8 56.5h.1M80.8 47.8h.1M79.0 41.7h.1M74.8 53.3h.1M85.9 45.3h.1M87.3 62.1h.1M85.2 51.0h.1M87.8 53.0h.1M73.4 42.2h.1M82.6 49.6h.1M82.8 62.6h.1M84.9 46.6h.1M80.4 53.4h.1M94.0 55.9h.1M89.6 56.3h.1M76.0 49.5h.1M76.7 44.8h.1M88.8 52.3h.1M75.6 60.9h.1M71.4 53.6h.1M94.4 44.1h.1M81.8 50.9h.1M70.8 59.6h.1M91.3 53.0h.1M87.1 51.3h.1M89.7 45.5h.1M81.7 57.0h.1M83.3 61.6h.1M86.7 59.1h.1M77.8 64.4h.1M83.2 49.9h.1M72.5 42.4h.1M81.1 51.3h.1M86.1 38.8h.1M91.9 66.3h.1M88.8 63.1h.1M96.1 53.8h.1M87.9 54.8h.1M78.7 49.9h.1M83.5 39.3h.1M81.0 51.0h.1M81.3 38.7h.1M92.3 46.3h.1M74.2 42.7h.1M74.0 44.5h.1M74.9 50.0h.1M75.4 45.3h.1M67.9 51.9h.1M78.1 49.5h.1M70.7 42.7h.1M86.2 58.5h.1M96.3 49.3h.1M77.5 39.7h.1M84.7 63.3h.1M75.3 55.6h.1M106.8 59.5h.1M87.5 64.4h.1M73.0 45.5h.1M79.9 52.0h.1M101.6 48.3h.1M73.7 52.8h.1M83.5 58.4h.1M86.6 62.1h.1M80.5 58.0h.1M75.5 51.5h.1M70.2 41.5h.1M79.6 39.6h.1M83.0 45.5h.1M87.8 44.2h.1M72.0 45.1h.1M81.3 59.3h.1M71.7 48.7h.1M88.8 52.6h.1M76.2 42.6h.1M73.3 50.1h.1M77.4 58.2h.1M81.7 58.3h.1M92.7 43.6h.1M81.4 63.2h.1M75.5 63.6h.1M81.1 49.8h.1M69.8 50.8h.1M68.5 43.5h.1M97.5 42.6h.1M73.3 57.5h.1M84.8 54.4h.1M87.9 42.2h.1M91.7 57.8h.1M79.6 43.3h.1M72.5 43.2h.1M86.1 67.7h.1M73.9 42.2h.1M84.6 54.4h.1M90.0 64.4h.1M70.6 41.2h.1M82.4 57.4h.1M88.9 49.8h.1M66.1 45.0h.1M93.2 50.7h.1M89.3 49.6h.1M77.6 50.0h.1M101.4 46.0h.1M84.2 51.3h.1M85.0 53.2h.1M70.0 55.6h.1M85.7 56.8h.1M99.2 57.6h.1M97.4 51.2h.1M87.5 61.7h.1M82.9 40.8h.1M99.9 45.5h.1M89.4 59.0h.1M99.6 44.7h.1M88.6 57.1h.1M101.7 46.9h.1M93.1 42.0h.1M81.3 66.8h.1M82.7 39.0h.1M88.7 56.2h.1M78.9 38.2h.1M81.4 60.6h.1M86.7 58.3h.1M70.9 48.3h.1M75.5 47.6h.1M102.3 46.9h.1M74.3 61.4h.1M81.8 63.1h.1M92.5 42.4h.1M81.5 59.9h.1M84.1 63.5h.1M74.3 54.3h.1M72.7 51.5h.1M73.3 48.9h.1M78.7 53.4h.1M79.7 38.2h.1M70.5 51.8h.1M92.7 56.2h.1M88.1 44.2h.1M81.7 53.4h.1M84.5 45.3h.1M78.8 40.7h.1M96.5 41.8h.1M102.8 56.6h.1M96.4 47.8h.1M92.5 53.9h.1M93.3 46.7h.1M79.2 43.0h.1M69.9 46.7h.1M86.9 46.9h.1M98.5 58.1h.1M67.1 44.4h.1M87.5 62.9h.1M93.8 61.6h.1M96.4 52.5h.1M68.9 53.8h.1M87.0 39.6h.1M71.9 53.3h.1M77.1 58.2h.1M79.7 66.1h.1M87.6 49.1h.1M91.4 56.3h.1M84.2 48.2h.1M73.3 39.9h.1M99.0 43.6h.1M99.9 44.4h.1M74.8 45.1h.1M79.9 51.6h.1M84.9 50.9h.1M83.4 40.7h.1M89.3 52.1h.1M85.3 48.6h.1M73.4 54.6h.1M90.4 53.2h.1M94.0 48.6h.1M89.2 55.7h.1M92.0 50.9h.1M77.5 56.4h.1M91.8 53.5h.1M81.8 37.4h.1M91.0 65.7h.1M79.8 61.6h.1M85.4 51.1h.1M74.9 44.1h.1M77.6 48.4h.1M95.1 48.2h.1M83.4 50.6h.1M79.2 62.0h.1M88.8 48.2h.1M70.0 46.3h.1M86.1 42.0h.1M95.5 42.3h.1M69.7 41.7h.1M83.9 51.2h.1M78.9 42.5h.1M94.2 51.4h.1M77.2 46.8h.1M90.4 57.3h.1M75.7 36.6h.1M77.3 41.6h.1M69.3 48.5h.1M94.8 52.9h.1M84.6 54.0h.1M95.6 65.7h.1M96.9 46.3h.1M79.0 64.0h.1M88.6 67.6h.1M87.8 47.0h.1M73.6 54.2h.1M70.7 45.4h.1M68.4 50.3h.1M73.9 58.5h.1M84.3 50.2h.1M104.6 53.8h.1M71.0 60.6h.1M99.2 43.0h.1M72.0 59.2h.1M84.3 66.1h.1M87.5 64.4h.1M93.3 46.2h.1M92.1 53.6h.1M88.6 62.1h.1M94.6 51.7h.1M95.7 59.4h.1M74.6 60.7h.1M80.6 66.1h.1M83.5 45.2h.1M95.5 47.1h.1M87.7 53.5h.1M98.2 61.1h.1M103.0 50.3h.1M77.9 48.9h.1M94.3 55.4h.1M67.4 50.2h.1M76.4 56.6h.1M76.0 57.0h.1M88.5 53.5h.1M73.9 53.7h.1M102.6 56.3h.1M71.0 53.7h.1M84.5 42.0h.1M85.3 38.7h.1M81.7 48.8h.1M91.8 53.1h.1M85.9 42.1h.1M92.4 56.7h.1M96.4 55.1h.1M90.8 63.3h.1M98.7 55.3h.1M100.2 45.5h.1M76.6 66.2h.1M89.6 61.2h.1M77.5 51.4h.1M88.6 39.1h.1M69.8 52.6h.1M94.5 60.4h.1M104.4 56.5h.1M77.5 41.5h.1M98.6 41.9h.1M82.1 47.1h.1M70.1 56.6h.1M71.0 43.2h.1M83.9 57.5h.1M70.5 57.8h.1M81.2 62.4h.1M75.4 48.9h.1M84.8 40.9h.1M89.4 45.9h.1M74.1 44.2h.1M101.3 55.4h.1M71.9 40.4h.1M88.9 51.5h.1M74.3 55.2h.1M68.3 52.3h.1M73.4 49.0h.1M77.9 46.5h.1M90.5 57.0h.1M83.8 41.4h.1M68.2 42.7h.1M84.4 57.3h.1M67.4 49.8h.1M79.5 56.4h.1M82.5 62.5h.1M92.5 46.3h.1M80.3 65.4h.1M71.0 49.6h.1M78.1 41.3h.1M86.9 59.6h.1M70.2 57.1h.1M82.9 57.0h.1M71.2 58.9h.1M93.5 41.2h.1M99.2 43.0h.1M87.9 55.6h.1M92.5 64.1h.1M85.5 62.4h.1M74.0 49.3h.1M87.5 55.6h.1M101.7 58.9h.1M76.8 42.0h.1M72.5 48.0h.1M83.9 45.6h.1M92.6 44.6h.1M86.4 60.0h.1M77.9 38.6h.1M83.9 58.9h.1M66.2 44.0h.1M91.2 41.6h.1M95.9 50.1h.1M78.4 42.3h.1M79.1 64.4h.1M98.5 57.7h.1M93.0 47.3h.1M72.3 50.4h.1M81.6 46.2h.1M68.6 55.5h.1M74.7 47.2h.1M76.0 52.6h.1M91.3 45.3h.1M71.3 44.9h.1M84.7 38.8h.1M69.5 44.7h.1M75.2 50.6h.1M92.6 58.4h.1M78.7 61.2h.1M77.9 46.4h.1M70.5 58.5h.1M79.0 62.1h.1M70.6 61.4h.1M93.5 43.4h.1M93.1 57.8h.1M80.8 62.1h.1M91.9 59.8h.1M85.0 57.9h.1M72.9 48.5h.1M72.2 43.2h.1M83.5 62.8h.1M86.9 53.0h.1M73.5 45.9h.1M92.2 45.0h.1M77.5 43.5h.1M78.9 40.4h.1M77.7 41.2h.1M68.2 46.2h.1M76.2 48.8h.1M83.6 43.7h.1M75.4 63.4h.1M66.9 44.6h.1M78.6 61.9h.1M86.4 55.3h.1M85.4 59.1h.1M77.8 41.8h.1M73.4 55.1h.1M81.1 56.5h.1M94.4 62.4h.1M89.7 66.8h.1M93.7 41.6h.1M92.2 40.8h.1M87.7 59.3h.1M89.4 65.5h.1M80.3 43.9h.1M95.1 48.3h.1M79.4 51.8h.1M97.6 46.6h.1M94.2 45.9h.1M76.1 43.4h.1M101.3 58.6h.1M89.8 41.1h.1M103.3 55.7h.1M97.7 42.7h.1M88.4 44.6h.1M96.7 41.4h.1M71.9 43.3h.1M72.0 43.9h.1M70.3 57.4h.1M77.3 47.8h.1M71.1 51.7h.1M67.6 48.6h.1M68.3 44.8h.1M80.6 60.5h.1M73.0 58.5h.1M74.7 63.0h.1M80.1 58.2h.1M92.5 50.3h.1M77.5 53.8h.1M101.4 46.4h.1M67.9 51.5h.1M82.0 60.0h.1M84.6 41.6h.1M70.4 47.9h.1M72.8 52.4h.1M89.5 45.2h.1M86.4 55.3h.1M93.5 60.3h.1M88.0 63.8h.1M88.4 57.3h.1M94.0 55.4h.1M75.5 53.6h.1M77.1 40.8h.1M103.7 49.6h.1M77.8 38.2h.1M90.8 45.9h.1M80.4 43.0h.1M76.2 51.8h.1M82.1 55.1h.1M82.8 47.3h.1M97.4 50.2h.1M77.1 43.3h.1M84.7 62.1h.1M71.1 55.1h.1M89.6 43.9h.1M79.9 65.5h.1M72.3 48.5h.1M74.7 50.5h.1M93.6 41.4h.1M87.7 58.8h.1M81.1 44.6h.1M78.6 53.3h.1M66.2 46.5h.1M80.7 63.7h.1M84.0 39.8h.1M88.8 43.7h.1M83.6 52.0h.1M97.5 58.8h.1M82.7 61.7h.1M83.7 64.0h.1M81.8 41.6h.1M97.6 44.4h.1M97.7 45.8h.1M99.2 65.0h.1M98.8 56.9h.1M106.7 47.4h.1M106.2 59.9h.1M108.8 65.4h.1M109.3 58.6h.1M105.6 46.7h.1M105.3 52.6h.1M100.2 42.6h.1M104.4 65.5h.1M99.1 55.8h.1M107.1 55.2h.1M109.1 62.0h.1M103.7 42.6h.1M100.4 63.4h.1M101.6 44.9h.1M104.6 51.2h.1M103.9 42.2h.1M107.4 51.6h.1M97.5 56.9h.1M108.3 46.2h.1M96.0 55.5h.1M97.4 49.7h.1M102.5 54.0h.1M107.8 57.7h.1M108.6 60.7h.1M102.1 62.3h.1M97.6 53.6h.1M99.9 56.8h.1M97.6 59.6h.1M108.7 44.1h.1M105.9 45.8h.1M99.7 61.0h.1M100.5 56.5h.1M99.6 53.6h.1M108.4 65.1h.1M104.0 46.9h.1M105.3 45.0h.1M108.3 43.8h.1M96.5 42.3h.1M106.8 65.0h.1M109.9 61.3h.1M98.4 62.5h.1M102.3 51.7h.1M98.8 45.5h.1M103.8 59.5h.1M109.3 59.5h.1M106.1 54.1h.1M98.7 43.7h.1M99.0 63.7h.1M100.0 49.1h.1M103.2 55.9h.1M101.9 45.3h.1M110.0 56.1h.1M97.9 51.3h.1M97.7 47.7h.1M100.7 54.5h.1M106.8 47.2h.1M101.1 65.6h.1M99.0 48.2h.1M109.8 51.7h.1M101.4 53.0h.1M99.1 61.6h.1M105.1 42.9h.1M103.7 58.0h.1M105.1 65.6h.1M100.4 42.3h.1M109.2 57.2h.1M109.7 44.7h.1M103.6 50.9h.1M105.9 42.9h.1M98.8 44.7h.1M103.7 54.2h.1M107.7 51.4h.1M108.7 57.4h.1M110.0 42.8h.1M106.0 46.1h.1M109.7 42.1h.1M107.2 64.6h.1M96.9 43.0h.1M101.4 52.0h.1M102.1 44.3h.1M97.8 62.8h.1M101.0 54.1h.1M99.3 65.5h.1M108.8 53.9h.1M97.7 45.2h.1M106.7 59.8h.1M106.9 49.9h.1M99.2 50.3h.1M109.0 51.5h.1M106.2 61.5h.1M97.4 50.6h.1M107.9 47.0h.1M102.7 60.2h.1M98.3 58.3h.1M99.1 50.2h.1M101.4 62.6h.1M109.2 62.0h.1M102.5 51.9h.1M109.2 50.9h.1M102.1 64.9h.1M96.0 54.7h.1M108.4 53.9h.1M105.4 59.9h.1M108.0 54.2h.1M96.3 50.4h.1M104.9 45.8h.1M111.9 30.2h.1M121.8 32.9h.1M105.0 32.4h.1M121.6 36.6h.1M121.5 37.3h.1M95.5 37.0h.1M98.0 33.2h.1M98.0 35.3h.1M98.1 32.0h.1M124.0 34.5h.1M109.5 39.0h.1M104.1 34.3h.1M122.1 37.4h.1M119.8 34.8h.1M96.1 32.3h.1M106.0 29.4h.1M98.0 35.3h.1M119.7 33.6h.1M110.7 36.3h.1M113.1 37.6h.1M94.0 38.0h.1M108.9 34.2h.1M119.4 32.2h.1M109.1 34.6h.1M98.3 34.2h.1M107.4 64.2h.1M95.2 34.9h.1M71.9 78.5h.1M77.4 83.1h.1M144.1 79.8h.1M78.6 60.7h.1M93.2 42.1h.1M102.4 87.6h.1M124.3 112.0h.1M83.3 72.0h.1M129.1 71.9h.1M92.9 66.9h.1M109.4 33.3h.1M134.2 85.9h.1M95.3 66.9h.1M108.2 33.5h.1M127.8 105.2h.1M110.1 54.4h.1M122.9 53.9h.1M99.3 68.3h.1M132.9 37.2h.1M64.4 32.0h.1M131.9 41.6h.1M144.4 44.5h.1M78.0 64.1h.1M60.3 73.5h.1M84.8 36.9h.1M97.6 34.9h.1M124.6 33.2h.1M105.5 102.6h.1M121.9 74.5h.1M122.5 80.8h.1M92.7 32.8h.1M120.1 72.1h.1M110.9 76.0h.1M105.8 30.5h.1M122.0 39.2h.1M77.5 31.2h.1M110.0 55.4h.1M140.4 30.9h.1M74.4 108.0h.1M130.1 106.8h.1M72.5 108.1h.1M138.1 95.6h.1M137.0 31.1h.1M105.3 56.1h.1M81.1 69.1h.1M96.2 98.5h.1M86.8 68.9h.1M108.9 65.9h.1" stroke="#f5883c" stroke-width="1.05" stroke-linecap="square" fill="none"/>
<path d="M110.5 42.9h.1M108.9 46.4h.1M141.0 66.3h.1M141.0 57.0h.1M146.0 61.8h.1M115.8 50.8h.1M152.4 68.0h.1M113.3 47.4h.1M101.3 46.0h.1M126.9 49.7h.1M147.8 62.6h.1M140.6 59.0h.1M136.8 54.7h.1M132.7 60.0h.1M122.7 48.8h.1M149.5 66.4h.1M129.2 42.7h.1M142.5 51.6h.1M126.9 44.4h.1M119.7 57.0h.1M141.9 62.5h.1M128.5 45.9h.1M128.8 48.7h.1M126.1 52.6h.1M150.2 70.7h.1M118.9 51.5h.1M146.0 60.3h.1M147.1 60.5h.1M131.8 50.4h.1M124.8 46.0h.1M139.3 55.3h.1M115.4 43.4h.1M122.5 57.8h.1M143.5 59.1h.1M119.6 52.8h.1M134.0 65.3h.1M132.4 44.6h.1M111.0 42.1h.1M121.2 58.2h.1M113.0 46.4h.1M139.6 57.0h.1M123.0 59.2h.1M139.8 65.6h.1M143.1 67.2h.1M141.7 61.7h.1M132.9 51.7h.1M141.7 57.8h.1M120.1 45.6h.1M140.6 65.0h.1M118.9 50.9h.1M137.4 59.9h.1M120.8 52.8h.1M141.2 60.2h.1M120.0 50.1h.1M153.2 70.5h.1M131.2 63.4h.1M128.9 50.5h.1M121.6 50.5h.1M119.3 55.4h.1M111.3 41.7h.1M141.2 51.1h.1M135.7 50.6h.1M140.3 57.7h.1M125.7 61.6h.1M134.6 62.6h.1M131.9 67.8h.1M121.9 41.0h.1M148.4 66.1h.1M121.1 54.3h.1M120.1 44.8h.1M146.6 66.3h.1M123.8 42.6h.1M133.3 45.6h.1M122.0 51.9h.1M118.9 56.9h.1M124.7 59.9h.1M151.6 63.7h.1M107.4 41.3h.1M152.8 65.4h.1M139.0 60.7h.1M147.2 67.6h.1M136.8 49.3h.1M151.3 65.6h.1M131.4 54.9h.1M147.9 71.8h.1M117.1 44.8h.1M128.9 43.7h.1M102.2 44.4h.1M130.6 59.6h.1M130.2 63.2h.1M129.7 52.5h.1M148.9 68.9h.1M127.8 42.0h.1M140.2 61.4h.1M130.1 63.5h.1M148.5 73.0h.1M141.3 51.2h.1M121.8 42.2h.1M153.4 63.4h.1M136.1 57.7h.1M140.8 60.3h.1M144.2 56.6h.1M123.3 42.5h.1M125.9 57.7h.1M121.8 57.1h.1M140.4 64.2h.1M132.9 47.1h.1M134.1 64.5h.1M129.5 50.2h.1M108.9 43.9h.1M128.9 56.2h.1M124.8 42.2h.1M119.7 49.0h.1M132.6 47.1h.1M146.0 71.9h.1M123.8 42.0h.1M113.5 46.3h.1M114.6 45.3h.1M110.7 45.5h.1M149.1 64.4h.1M140.2 54.8h.1M126.2 59.9h.1M132.6 66.9h.1M130.4 54.0h.1M140.7 48.5h.1M111.8 41.0h.1M126.7 52.6h.1M125.5 60.0h.1M120.3 58.2h.1M131.3 65.5h.1M111.7 41.2h.1M151.5 70.6h.1M127.9 60.9h.1M126.2 39.6h.1M123.1 60.7h.1M129.8 58.2h.1M143.5 56.8h.1M143.6 59.9h.1M126.1 51.3h.1M129.8 56.5h.1M133.5 62.4h.1M127.7 46.3h.1M136.2 46.3h.1M148.8 68.5h.1M121.6 45.2h.1M143.1 65.9h.1M137.3 51.6h.1M120.0 50.9h.1M148.9 65.7h.1M113.9 47.3h.1M121.0 53.6h.1M145.2 69.3h.1M120.4 43.0h.1M121.1 59.8h.1M121.0 59.0h.1M115.6 48.8h.1M129.1 47.4h.1M152.6 72.6h.1M141.9 56.9h.1M128.8 55.7h.1M125.9 52.1h.1M154.4 64.5h.1M107.2 44.7h.1M128.2 63.7h.1M128.3 40.5h.1M131.9 65.6h.1M119.7 46.7h.1M131.0 47.2h.1M136.2 60.2h.1M149.3 61.9h.1M115.7 44.0h.1M122.1 46.1h.1M121.4 58.5h.1M153.8 65.8h.1M121.5 41.6h.1M123.2 51.6h.1M108.8 43.9h.1M135.2 69.1h.1M125.1 50.6h.1M148.8 70.2h.1M136.6 69.4h.1M126.7 45.3h.1M138.3 47.8h.1M125.3 48.1h.1M123.4 63.5h.1M135.9 52.7h.1M135.1 46.3h.1M120.7 52.5h.1M121.3 50.9h.1M140.8 63.5h.1M121.3 51.1h.1M125.1 55.0h.1M133.1 64.9h.1M101.7 45.5h.1M148.6 69.2h.1M129.8 45.6h.1M150.6 66.8h.1M132.2 68.3h.1M135.4 46.4h.1M146.4 60.9h.1M150.1 67.3h.1M143.0 59.6h.1M143.1 56.5h.1M144.2 69.6h.1M143.1 63.5h.1M136.9 67.1h.1M133.1 50.2h.1M134.5 50.3h.1M133.2 55.0h.1M117.8 54.4h.1M115.6 43.5h.1M143.0 69.7h.1M137.4 54.3h.1M137.1 55.4h.1M129.3 49.1h.1M140.1 61.7h.1M119.9 48.9h.1M136.9 60.3h.1M143.5 60.9h.1M120.4 51.5h.1M142.1 52.2h.1M138.4 51.2h.1M139.8 55.0h.1M133.2 54.8h.1M122.0 57.7h.1M151.7 62.3h.1M122.6 55.5h.1M145.7 70.9h.1M121.2 58.2h.1M129.5 49.2h.1M139.6 61.5h.1M146.6 69.9h.1M116.7 50.2h.1M127.7 43.5h.1M122.9 49.7h.1M119.2 43.3h.1M128.9 48.0h.1M137.9 56.8h.1M113.9 48.2h.1M129.1 64.9h.1M123.5 39.7h.1M142.4 65.5h.1M123.7 59.5h.1M139.8 47.9h.1M122.5 43.3h.1M143.9 53.5h.1M146.5 66.2h.1M129.1 52.7h.1M142.1 48.5h.1M140.7 51.6h.1M144.1 70.1h.1M134.3 53.3h.1M139.6 51.7h.1M135.1 67.4h.1M118.1 46.9h.1M112.9 46.2h.1M107.8 42.4h.1M134.4 61.9h.1M133.9 66.6h.1M114.7 50.2h.1M138.0 61.8h.1M142.4 61.4h.1M147.9 63.3h.1M124.4 57.1h.1M137.5 50.4h.1M120.4 66.4h.1M135.2 51.5h.1M126.6 59.6h.1M106.3 47.0h.1M123.5 61.0h.1M120.9 47.6h.1M130.6 59.5h.1M131.6 59.0h.1M147.0 65.6h.1M155.2 63.4h.1M122.3 45.1h.1M146.0 66.7h.1M117.5 51.2h.1M130.5 50.0h.1M134.4 48.4h.1M120.2 46.6h.1M127.6 51.3h.1M135.5 63.5h.1M109.1 44.9h.1M114.3 46.7h.1M141.4 58.1h.1M113.3 43.3h.1M118.3 50.1h.1M136.7 58.6h.1M132.5 52.3h.1M136.7 60.1h.1M141.1 57.8h.1M132.1 50.5h.1M110.8 46.7h.1M131.8 59.7h.1M133.0 67.8h.1M149.7 65.0h.1M140.0 66.5h.1M119.5 46.5h.1M135.9 48.4h.1M138.0 60.3h.1M149.2 61.8h.1M123.3 49.3h.1M135.9 64.5h.1M143.7 59.7h.1M147.9 67.1h.1M120.1 52.6h.1M124.5 46.3h.1M139.7 58.8h.1M128.7 47.0h.1M140.3 56.3h.1M120.1 48.5h.1M121.0 60.2h.1M128.2 52.5h.1M128.3 67.7h.1M118.5 43.0h.1M118.4 53.1h.1M131.3 67.4h.1M145.7 66.7h.1M133.9 47.0h.1M151.1 65.8h.1M122.2 52.2h.1M144.6 68.7h.1M148.2 61.8h.1M130.7 62.0h.1M152.1 65.9h.1M126.5 57.4h.1M119.0 42.4h.1M123.1 48.6h.1M112.4 46.4h.1M112.7 43.8h.1M149.4 61.7h.1M148.9 61.2h.1M134.4 55.8h.1M128.8 42.6h.1M137.0 47.5h.1M102.5 43.5h.1M137.6 53.1h.1M118.2 46.4h.1M141.0 52.1h.1M131.8 51.2h.1M110.5 48.2h.1M146.7 61.1h.1M135.6 60.5h.1M129.2 53.5h.1M121.0 46.3h.1M112.2 46.2h.1M137.8 52.3h.1M142.0 50.0h.1M148.1 66.2h.1M118.8 47.5h.1M115.0 45.5h.1M142.7 49.7h.1M124.0 61.2h.1M139.2 58.9h.1M123.9 60.0h.1M120.7 47.3h.1M131.5 52.6h.1M133.3 65.0h.1M145.2 67.2h.1M110.7 46.0h.1M142.6 69.7h.1M129.7 55.6h.1M150.9 68.6h.1M126.8 63.2h.1M149.4 68.2h.1M139.0 53.8h.1M110.0 47.3h.1M141.4 60.1h.1M125.7 51.3h.1M141.4 58.4h.1M143.3 55.7h.1M137.5 47.3h.1M138.5 61.3h.1M116.9 47.0h.1M120.1 51.1h.1M141.8 58.7h.1M125.1 51.3h.1M132.1 55.2h.1M134.1 48.1h.1M133.6 59.0h.1M152.3 71.4h.1M139.9 64.0h.1M121.4 52.4h.1M144.8 59.4h.1M122.8 59.9h.1M125.4 53.2h.1M151.4 68.8h.1M139.6 55.6h.1M137.5 55.9h.1M144.1 56.9h.1M125.7 47.5h.1M134.7 45.6h.1M118.1 44.4h.1M116.4 49.0h.1M137.9 63.4h.1M138.0 57.0h.1M105.1 43.0h.1M149.1 71.4h.1M119.1 58.3h.1M128.7 42.2h.1M142.7 49.6h.1M109.0 45.3h.1M141.3 56.6h.1M121.2 52.4h.1M123.8 53.6h.1M140.5 68.3h.1M135.9 63.3h.1M121.3 61.8h.1M150.3 63.4h.1M151.1 68.2h.1M122.1 41.5h.1M129.7 62.8h.1M115.6 52.0h.1M136.9 48.6h.1M123.8 60.1h.1M137.6 66.8h.1M140.9 63.6h.1M129.5 42.7h.1M139.6 60.0h.1M136.1 48.2h.1M124.2 53.6h.1M120.6 58.4h.1M130.6 60.0h.1M119.5 57.3h.1M134.7 48.3h.1M123.5 59.0h.1M151.5 72.9h.1M140.0 61.0h.1M133.1 63.8h.1M142.0 49.1h.1M138.3 49.4h.1M132.4 52.0h.1M149.9 71.7h.1M137.6 61.4h.1M120.8 55.5h.1M138.6 53.3h.1M137.7 65.3h.1M142.5 51.3h.1M143.5 56.3h.1M121.5 53.9h.1M125.3 40.9h.1M118.6 41.4h.1M112.4 41.1h.1M132.2 54.5h.1M148.8 73.1h.1M152.1 68.5h.1M127.1 59.7h.1M137.2 46.4h.1M125.6 54.9h.1M131.0 60.5h.1M133.9 55.7h.1M135.0 59.1h.1M121.5 49.1h.1M141.7 55.4h.1M125.2 62.1h.1M134.4 67.2h.1M130.0 53.7h.1M135.1 53.7h.1M136.6 59.1h.1M132.6 56.4h.1M111.4 43.5h.1M103.2 42.5h.1M146.3 63.1h.1M152.8 69.2h.1M130.9 64.2h.1M151.6 63.6h.1M108.6 48.1h.1M123.1 39.7h.1M120.2 60.2h.1M143.9 69.1h.1M109.1 47.2h.1M134.5 66.5h.1M119.5 43.4h.1M126.4 48.2h.1M123.6 52.3h.1M152.2 71.8h.1M122.3 52.6h.1M111.5 42.7h.1M133.7 47.3h.1M126.7 57.7h.1M132.3 46.6h.1M140.9 58.3h.1M146.1 68.2h.1M126.0 41.8h.1M141.0 52.0h.1M126.6 44.7h.1M103.1 44.9h.1M121.1 43.8h.1M127.2 41.6h.1M124.7 61.1h.1M131.7 59.3h.1M134.1 63.1h.1M145.9 58.0h.1M124.4 61.4h.1M149.1 67.6h.1M122.8 42.9h.1M115.0 47.7h.1M110.5 46.0h.1M134.2 60.7h.1M138.0 55.4h.1M152.7 63.4h.1M118.6 50.2h.1M123.1 43.5h.1M153.7 63.3h.1M146.2 66.3h.1M124.5 56.7h.1M151.4 70.6h.1M136.4 60.7h.1M126.1 43.9h.1M151.6 62.5h.1M134.8 51.9h.1M138.5 55.1h.1M126.6 63.1h.1M131.8 57.9h.1M141.5 55.9h.1M124.3 40.6h.1M102.1 43.9h.1M134.1 69.5h.1M119.6 47.8h.1M138.1 69.3h.1M128.1 49.8h.1M139.4 52.4h.1M106.8 41.2h.1M120.4 50.2h.1M147.0 67.9h.1M150.6 67.9h.1M135.9 57.1h.1M150.3 70.9h.1M153.4 64.7h.1M136.2 48.0h.1M123.0 55.8h.1M129.4 59.5h.1M129.0 43.4h.1M125.5 56.8h.1M147.6 64.0h.1M148.5 61.6h.1M134.1 65.9h.1M115.8 47.5h.1M118.4 53.7h.1M144.7 58.1h.1M147.5 54.4h.1M150.0 66.7h.1M112.6 41.5h.1M142.6 56.1h.1M137.7 50.1h.1M121.8 51.3h.1M131.7 44.8h.1M107.4 43.0h.1M132.2 57.3h.1M121.5 55.2h.1M143.9 59.5h.1M154.3 65.4h.1M146.7 66.3h.1M112.6 40.8h.1M151.3 65.7h.1M120.6 51.3h.1M126.3 46.7h.1M141.1 57.5h.1M124.5 47.8h.1M154.4 63.9h.1M115.5 55.9h.1M140.7 53.5h.1M142.3 59.5h.1M126.9 54.4h.1M130.4 51.0h.1M149.9 61.2h.1M114.9 45.3h.1M141.8 62.6h.1M137.3 56.0h.1M136.5 59.6h.1M119.8 47.9h.1M132.0 47.3h.1M124.2 64.9h.1M126.5 44.3h.1M131.9 53.4h.1M130.7 63.5h.1M123.9 45.8h.1M138.5 59.5h.1M145.0 63.6h.1M143.5 53.0h.1M133.3 57.4h.1M148.6 66.2h.1M115.9 48.4h.1M139.5 58.8h.1M150.0 63.9h.1M122.9 39.9h.1M121.9 58.1h.1M127.5 57.8h.1M143.8 58.2h.1M124.2 56.2h.1M120.2 49.4h.1M101.4 44.4h.1M146.2 68.5h.1M136.5 51.8h.1M107.9 43.5h.1M140.4 56.1h.1M133.8 64.3h.1M141.2 49.9h.1M124.7 55.8h.1M142.4 58.9h.1M131.4 47.1h.1M152.0 64.4h.1M151.6 65.0h.1M119.8 46.5h.1M104.6 46.9h.1M120.0 60.8h.1M119.9 40.8h.1M150.9 63.6h.1M131.4 58.5h.1M134.5 59.4h.1M143.0 56.4h.1M143.6 59.7h.1M133.8 52.2h.1M129.9 56.7h.1M140.2 49.8h.1M112.8 47.7h.1M124.6 63.7h.1M155.1 65.2h.1M141.9 59.2h.1M129.9 45.0h.1M117.4 52.7h.1M129.4 52.9h.1M140.4 56.0h.1M135.8 46.7h.1M103.8 42.8h.1M132.1 48.6h.1M109.3 48.6h.1M127.8 47.7h.1M130.8 42.7h.1M130.8 48.6h.1M154.5 70.6h.1M118.6 46.6h.1M114.2 46.9h.1M140.1 58.9h.1M122.9 61.9h.1M125.6 55.0h.1M144.3 70.6h.1M135.4 56.7h.1M130.5 45.7h.1M129.8 48.8h.1M138.4 67.9h.1M127.9 41.4h.1M120.7 63.9h.1M154.8 68.2h.1M131.4 49.5h.1M133.2 67.9h.1M145.3 57.8h.1M141.3 63.9h.1M132.4 57.5h.1M129.7 47.6h.1M131.6 63.9h.1M134.2 61.5h.1M106.9 44.4h.1M134.9 56.0h.1M105.6 42.8h.1M127.2 51.0h.1M108.1 46.1h.1M130.1 51.2h.1M118.9 40.6h.1M120.1 42.7h.1M140.6 57.6h.1M124.1 59.7h.1M123.1 50.4h.1M147.2 63.4h.1M116.4 44.8h.1M127.4 46.5h.1M129.6 57.8h.1M129.4 46.4h.1M135.5 56.6h.1M142.1 69.6h.1M133.9 67.4h.1M127.3 59.9h.1M124.3 53.1h.1M111.1 46.2h.1M136.0 63.0h.1M118.6 53.5h.1M127.5 46.6h.1M128.8 60.4h.1M123.1 59.9h.1M145.1 70.6h.1M122.3 55.6h.1M128.9 49.5h.1M153.2 67.5h.1M150.3 64.7h.1M132.9 50.7h.1M135.9 48.9h.1M127.6 45.4h.1M145.1 55.4h.1M140.7 49.6h.1M118.5 56.7h.1M126.5 67.6h.1M105.9 47.4h.1M138.8 59.7h.1M110.7 44.1h.1M132.1 47.7h.1M149.0 64.4h.1M124.3 48.1h.1M122.2 50.9h.1M133.4 55.1h.1M130.0 57.8h.1M108.5 43.4h.1M133.2 59.7h.1M126.3 51.5h.1M152.9 69.2h.1M134.0 64.6h.1M130.7 57.4h.1M136.3 46.0h.1M127.1 55.9h.1M125.9 49.3h.1M127.6 57.1h.1M151.4 63.4h.1M129.4 64.9h.1M126.5 40.6h.1M147.3 63.0h.1M141.2 68.1h.1M101.4 44.0h.1M124.4 51.3h.1M153.2 71.3h.1M151.9 65.4h.1M128.2 44.5h.1M141.8 69.5h.1M135.6 51.9h.1M115.4 50.6h.1M116.5 48.3h.1M134.7 67.2h.1M122.1 55.3h.1M131.6 43.5h.1M122.5 59.9h.1M124.9 53.8h.1M123.5 56.4h.1M117.1 45.4h.1M125.1 52.7h.1M143.7 70.8h.1M139.7 55.9h.1M137.0 49.7h.1M111.1 44.5h.1M116.6 40.4h.1M127.1 49.8h.1M127.1 67.2h.1M130.2 57.7h.1M126.5 43.2h.1M135.0 61.0h.1M144.0 66.0h.1M121.8 40.6h.1M116.4 40.4h.1M128.3 60.5h.1M114.9 49.3h.1M139.7 63.4h.1M125.0 41.5h.1M125.2 54.7h.1M136.8 56.0h.1M152.5 65.3h.1M122.6 58.6h.1M120.3 47.7h.1M153.0 68.1h.1M143.0 61.1h.1M136.4 65.9h.1M138.2 47.9h.1M135.5 48.4h.1M141.0 65.2h.1M127.3 50.3h.1M116.8 46.2h.1M144.7 60.3h.1M146.6 65.0h.1M139.1 68.4h.1M123.8 52.8h.1M123.4 44.8h.1M127.8 50.1h.1M130.5 62.0h.1M121.4 60.6h.1M113.9 44.5h.1M142.3 57.1h.1M142.6 53.0h.1M131.4 50.2h.1M114.4 47.5h.1M135.9 60.9h.1M119.2 52.7h.1M125.4 51.9h.1M146.3 67.8h.1M128.5 64.5h.1M125.3 54.9h.1M141.4 60.0h.1M138.7 64.9h.1M139.3 61.2h.1M117.3 45.4h.1M153.8 63.3h.1M129.9 59.2h.1M123.1 45.8h.1M136.5 60.7h.1M120.1 48.2h.1M126.4 61.6h.1M129.5 66.1h.1M147.8 68.6h.1M122.8 49.0h.1M132.5 65.6h.1M149.6 61.5h.1M139.8 55.6h.1M115.8 51.9h.1M139.7 48.5h.1M136.8 66.4h.1M137.7 68.3h.1M147.8 71.2h.1M127.3 59.3h.1M147.5 72.5h.1M115.2 43.7h.1M133.1 48.8h.1M126.0 44.5h.1M133.8 44.7h.1M108.6 46.0h.1M125.2 40.3h.1M113.2 48.3h.1M115.7 43.2h.1M131.8 63.4h.1M120.3 50.4h.1M134.3 48.5h.1M145.9 58.4h.1M109.3 47.4h.1M145.4 68.0h.1M138.1 63.4h.1M141.1 68.0h.1M129.2 61.2h.1M129.1 56.2h.1M132.1 51.5h.1M146.7 62.9h.1M122.9 47.3h.1M128.4 54.6h.1M148.4 63.8h.1M128.4 52.1h.1M150.9 71.6h.1M128.7 52.7h.1M140.3 67.8h.1M130.0 56.6h.1M141.5 69.0h.1M133.0 59.9h.1M152.1 65.7h.1M121.0 54.3h.1M139.0 50.1h.1M113.8 48.0h.1M118.1 40.7h.1M139.2 52.8h.1M136.0 59.1h.1M137.9 48.2h.1M130.2 57.2h.1M147.8 68.9h.1M134.0 56.7h.1M122.7 60.1h.1M141.5 58.1h.1M134.2 61.5h.1M124.3 57.7h.1M133.0 47.7h.1M136.3 63.9h.1M152.1 63.7h.1M148.5 64.2h.1M102.9 42.2h.1M128.5 50.3h.1M126.0 66.0h.1M129.4 64.3h.1M110.2 42.1h.1M117.9 54.2h.1M118.3 44.8h.1M136.5 57.0h.1M118.7 59.9h.1M139.4 60.3h.1M126.8 61.5h.1M119.8 45.8h.1M120.0 43.4h.1M150.6 68.0h.1M126.1 53.4h.1M143.0 58.3h.1M137.6 58.1h.1M121.3 56.9h.1M140.3 50.5h.1M122.3 41.2h.1M124.3 54.9h.1M137.8 47.1h.1M120.6 51.6h.1M146.7 67.7h.1M124.4 42.5h.1M106.8 44.2h.1M112.2 49.7h.1M134.3 67.5h.1M140.3 67.3h.1M125.8 49.7h.1M149.0 71.1h.1M125.7 62.6h.1M125.4 64.2h.1M126.8 56.1h.1M139.6 57.6h.1M126.7 55.4h.1M135.9 58.0h.1M135.7 54.9h.1M153.3 62.8h.1M121.6 56.6h.1M112.1 46.1h.1M132.1 55.5h.1M124.3 57.5h.1M109.1 48.2h.1M134.3 59.0h.1M120.0 44.2h.1M145.7 64.6h.1M145.8 59.1h.1M121.4 41.6h.1M139.0 49.4h.1M115.0 47.8h.1M129.4 46.7h.1M126.7 56.4h.1M147.9 67.1h.1M148.3 64.1h.1M133.3 59.3h.1M141.1 49.2h.1M118.9 40.8h.1M128.8 58.0h.1M131.6 53.2h.1M144.9 60.4h.1M146.8 64.9h.1M142.7 53.7h.1M115.3 42.7h.1M135.7 51.7h.1M132.1 44.3h.1M126.3 54.2h.1M129.0 57.5h.1M127.1 58.5h.1M136.9 53.0h.1M129.1 48.0h.1M140.1 69.1h.1M125.6 41.3h.1M132.9 64.8h.1M125.3 46.4h.1M124.5 47.9h.1M141.1 55.7h.1M122.8 59.4h.1M148.3 62.5h.1M121.2 42.2h.1M135.1 68.1h.1M126.9 53.5h.1M127.2 52.1h.1M125.7 43.5h.1M119.6 40.1h.1M124.9 32.1h.1M122.7 37.2h.1M118.3 35.4h.1M112.9 32.5h.1M121.3 37.2h.1M106.5 38.8h.1M99.7 36.8h.1M121.2 32.3h.1M118.5 32.9h.1M116.6 39.4h.1M107.3 37.3h.1M118.4 39.3h.1M126.8 32.1h.1M116.9 31.4h.1M109.0 38.1h.1M126.2 37.8h.1M127.4 31.3h.1M102.2 31.3h.1M114.7 40.2h.1M100.7 32.0h.1M111.4 40.0h.1M122.4 36.3h.1M106.7 32.6h.1M111.2 37.3h.1M103.0 40.3h.1M126.3 38.3h.1M124.1 39.3h.1M102.0 34.1h.1M113.5 35.2h.1M98.3 108.8h.1M111.9 36.2h.1M134.5 71.2h.1M142.8 55.6h.1M113.1 99.2h.1M135.2 108.0h.1M146.2 51.5h.1M74.2 44.3h.1M128.9 33.5h.1M128.6 37.8h.1M144.1 91.7h.1M116.6 106.5h.1M146.1 85.9h.1M147.6 78.7h.1" stroke="#6b59a8" stroke-width="1.05" stroke-linecap="square" fill="none"/>
<path d="M83.2 32.9h.1M90.6 26.1h.1M111.3 20.8h.1M79.3 30.8h.1M119.8 22.3h.1M128.6 27.5h.1M94.3 25.5h.1M98.9 26.3h.1M124.0 18.2h.1M123.6 24.4h.1M82.9 30.3h.1M109.9 17.2h.1M72.6 36.8h.1M105.6 24.0h.1M96.0 27.3h.1M117.4 18.0h.1M109.9 25.6h.1M108.5 19.1h.1M118.5 15.6h.1M114.4 23.3h.1M101.9 20.7h.1M127.6 19.8h.1M124.5 26.5h.1M77.9 35.7h.1M97.0 25.0h.1M80.9 29.0h.1M98.3 22.5h.1M125.5 18.9h.1M126.2 27.0h.1M119.4 22.4h.1M106.8 20.2h.1M114.4 23.2h.1M87.3 29.1h.1M97.5 30.0h.1M90.7 24.8h.1M108.8 18.3h.1M115.4 22.6h.1M106.2 18.6h.1M119.8 24.5h.1M114.8 16.0h.1M87.3 26.9h.1M98.4 27.3h.1M121.7 22.9h.1M116.9 21.7h.1M84.0 28.1h.1M95.7 24.7h.1M105.4 23.4h.1M103.6 20.3h.1M120.8 23.6h.1M77.5 35.3h.1M95.3 27.5h.1M105.0 21.8h.1M119.3 24.3h.1M110.4 18.7h.1M127.5 25.4h.1M121.9 22.1h.1M124.4 25.7h.1M82.3 29.1h.1M130.9 25.7h.1M87.4 28.0h.1M119.5 14.9h.1M85.7 31.0h.1M106.6 19.5h.1M123.6 26.4h.1M84.6 29.3h.1M130.3 24.3h.1M103.7 19.7h.1M119.9 19.4h.1M91.6 26.4h.1M117.3 24.3h.1M109.7 18.9h.1M122.8 26.1h.1M112.9 21.8h.1M120.7 15.2h.1M107.2 18.7h.1M122.1 19.2h.1M107.2 22.8h.1M118.7 15.3h.1M113.5 15.8h.1M119.6 25.1h.1M122.0 20.8h.1M105.1 19.6h.1M110.1 24.2h.1M92.3 27.7h.1M122.7 24.2h.1M106.5 26.1h.1M116.5 16.1h.1M124.9 23.2h.1M107.7 29.2h.1M114.8 16.8h.1M86.1 29.8h.1M81.4 29.2h.1M112.4 14.8h.1M81.8 30.5h.1M121.4 21.0h.1M111.3 25.9h.1M74.3 35.1h.1M124.7 23.2h.1M75.7 34.6h.1M123.9 18.1h.1M109.2 22.6h.1M78.4 32.7h.1M115.2 15.8h.1M112.6 26.7h.1M128.6 22.2h.1M113.4 22.0h.1M100.6 24.8h.1M123.3 25.6h.1M119.7 26.5h.1M100.8 27.5h.1M103.9 25.3h.1M78.9 31.0h.1M127.2 24.7h.1M120.9 20.3h.1M106.1 25.8h.1M116.3 21.5h.1M129.9 21.8h.1M92.6 26.3h.1M126.8 21.2h.1M126.4 19.9h.1M120.1 17.3h.1M122.5 21.3h.1M118.3 27.2h.1M125.7 28.1h.1M115.8 16.1h.1M90.1 30.1h.1M121.9 20.7h.1M116.2 17.2h.1M85.9 27.9h.1M93.1 28.7h.1M125.4 17.9h.1M76.6 33.8h.1M98.6 22.7h.1M130.2 25.9h.1M100.4 26.2h.1M105.7 26.9h.1M118.0 24.5h.1M106.0 27.1h.1M90.6 26.2h.1M107.6 19.0h.1M77.4 34.0h.1M103.6 23.6h.1M121.9 20.0h.1M121.2 20.2h.1M84.3 31.2h.1M89.0 28.2h.1M77.8 35.2h.1M110.3 25.5h.1M118.4 24.8h.1M122.9 19.9h.1M90.2 28.4h.1M80.4 29.9h.1M84.6 30.8h.1M78.5 32.6h.1M118.9 20.1h.1M122.3 16.7h.1M83.7 32.7h.1M102.9 26.7h.1M105.0 21.8h.1M123.2 20.2h.1M125.3 20.8h.1M123.9 22.6h.1M122.7 21.1h.1M88.4 26.7h.1M78.2 31.0h.1M82.1 31.3h.1M112.5 25.6h.1M130.3 22.5h.1M120.9 16.9h.1M84.4 31.3h.1M101.7 27.4h.1M94.7 27.9h.1M120.4 15.8h.1M117.4 25.2h.1M111.6 21.7h.1M97.7 27.1h.1M107.4 18.4h.1M116.3 21.0h.1M130.6 27.8h.1M87.7 28.1h.1M127.1 28.1h.1M89.4 25.7h.1M111.9 20.5h.1M122.8 22.5h.1M114.9 19.7h.1M90.6 28.6h.1M104.6 23.6h.1M113.5 18.7h.1M81.5 27.7h.1M126.3 25.9h.1M87.1 29.0h.1M120.3 20.9h.1M124.0 21.0h.1M115.5 19.1h.1M103.1 24.5h.1M84.5 28.3h.1M129.2 22.9h.1M127.4 27.0h.1M100.7 28.1h.1M119.3 22.0h.1M105.9 18.8h.1M106.7 26.2h.1M114.9 15.4h.1M80.8 30.4h.1M87.9 25.9h.1M114.1 24.3h.1M115.8 22.7h.1M118.6 18.6h.1M105.2 19.5h.1M106.9 19.1h.1M71.1 36.6h.1M96.6 27.1h.1M118.8 26.1h.1M118.5 24.9h.1M98.0 24.4h.1M121.2 17.9h.1M120.0 18.3h.1M122.1 16.1h.1M86.6 29.2h.1M101.7 26.8h.1M81.3 29.1h.1M110.8 17.8h.1M121.8 23.0h.1M84.5 32.0h.1M126.7 22.0h.1M118.2 20.6h.1M114.5 19.3h.1M117.8 16.6h.1M95.4 24.4h.1M115.7 19.1h.1M108.8 19.5h.1M123.1 24.5h.1M122.1 24.6h.1M116.9 18.0h.1M117.9 15.5h.1M77.0 35.8h.1M101.9 21.7h.1M121.1 22.7h.1M107.8 23.1h.1M89.3 30.4h.1M100.1 26.5h.1M116.1 22.0h.1M121.8 21.5h.1M104.3 20.1h.1M118.8 25.7h.1M76.4 35.5h.1M87.5 28.8h.1M86.0 26.7h.1M101.9 23.2h.1M94.7 24.8h.1M109.6 23.2h.1M123.4 27.2h.1M80.0 33.6h.1M105.2 22.2h.1M118.2 21.9h.1M74.1 32.6h.1M123.8 23.5h.1M126.8 27.8h.1M89.9 26.4h.1M98.2 26.8h.1M105.1 20.1h.1M105.7 20.7h.1M86.5 27.0h.1M124.2 23.8h.1M115.6 22.8h.1M128.1 20.1h.1M102.4 24.6h.1M107.6 25.7h.1M88.6 28.7h.1M110.2 20.1h.1M91.5 29.4h.1M128.2 18.7h.1M111.7 21.2h.1M129.5 24.9h.1M120.2 15.8h.1M120.5 26.0h.1M113.4 20.8h.1M101.2 24.1h.1M98.9 25.8h.1M127.6 25.5h.1M83.0 29.6h.1M89.3 27.6h.1M116.8 21.2h.1M84.5 28.6h.1M78.4 33.6h.1M84.5 32.2h.1M112.5 18.6h.1M120.5 19.8h.1M117.2 21.1h.1M118.7 26.2h.1M117.3 26.0h.1M128.5 21.9h.1M92.8 29.9h.1M102.6 30.7h.1M77.4 32.2h.1M118.2 15.6h.1M84.0 29.8h.1M96.1 23.2h.1M121.7 23.0h.1M88.7 28.1h.1M113.0 17.5h.1M115.2 26.4h.1M119.4 23.6h.1M122.3 18.6h.1M112.5 18.2h.1M122.1 20.3h.1M111.6 22.2h.1M81.0 29.8h.1M123.8 21.5h.1M127.1 28.2h.1M83.6 32.5h.1M117.1 21.0h.1M121.4 19.3h.1M127.6 19.2h.1M109.2 17.2h.1M112.0 17.3h.1M87.4 28.0h.1M114.7 26.5h.1M117.4 20.1h.1M95.2 26.1h.1M120.7 20.4h.1M84.5 29.6h.1M125.9 24.5h.1M118.1 24.7h.1M127.1 23.6h.1M93.3 26.2h.1M78.4 32.5h.1M121.3 24.6h.1M120.6 24.4h.1M86.5 28.8h.1M129.8 27.2h.1M80.8 33.5h.1M114.3 18.7h.1M79.2 31.3h.1M79.3 33.0h.1M127.9 25.5h.1M100.3 25.3h.1M106.1 20.6h.1M74.8 35.1h.1M118.6 21.5h.1M105.5 20.7h.1M122.4 20.9h.1M128.7 26.7h.1M99.6 21.9h.1M108.2 23.8h.1M127.7 25.2h.1M122.4 16.4h.1M123.7 26.6h.1M126.4 19.7h.1M75.8 32.4h.1M110.8 19.1h.1M115.7 17.3h.1M111.2 20.5h.1M113.2 23.6h.1M123.3 22.8h.1M75.3 33.4h.1M130.4 26.4h.1M75.3 32.6h.1M84.5 31.4h.1M111.0 23.1h.1M115.8 20.0h.1M76.2 34.6h.1M131.1 23.3h.1M89.8 26.7h.1M100.3 27.5h.1M122.2 26.0h.1M116.3 24.3h.1M84.3 32.0h.1M117.3 25.0h.1M100.4 23.2h.1M110.1 18.8h.1M96.7 23.1h.1M119.8 23.5h.1M105.7 22.2h.1M125.8 20.5h.1M89.6 27.3h.1M79.1 36.1h.1M115.5 17.7h.1M126.9 19.4h.1M100.8 22.0h.1M123.1 20.6h.1M127.1 21.2h.1M117.1 17.1h.1M115.2 16.6h.1M127.0 24.3h.1M77.6 34.9h.1M115.2 19.4h.1M117.2 24.0h.1M92.0 24.2h.1M79.4 34.2h.1M86.3 29.0h.1M116.0 22.3h.1M116.9 22.5h.1M88.0 29.1h.1M87.3 29.2h.1M129.3 21.9h.1M79.8 32.6h.1M108.8 19.8h.1M98.7 24.3h.1M119.9 26.1h.1M84.5 31.4h.1M126.0 23.6h.1M95.3 27.2h.1M117.8 21.2h.1M118.4 15.3h.1M119.7 21.6h.1M128.4 26.0h.1M101.7 27.6h.1M120.1 23.4h.1M108.7 19.5h.1M111.3 20.9h.1M86.5 31.4h.1M84.9 30.9h.1M106.6 25.0h.1M107.6 24.3h.1M124.7 24.3h.1M115.6 18.9h.1M106.3 20.0h.1M100.6 26.4h.1M99.1 23.8h.1M107.2 25.2h.1M89.5 28.0h.1M75.1 35.3h.1M130.3 24.1h.1M85.4 29.0h.1M90.5 26.8h.1M92.7 27.1h.1M113.0 22.9h.1M81.7 33.2h.1M130.5 27.8h.1M118.5 18.4h.1M88.2 31.0h.1M127.3 28.2h.1M122.4 26.4h.1M83.8 29.5h.1M123.7 25.5h.1M86.2 30.6h.1M94.8 26.7h.1M104.0 24.8h.1M79.5 32.0h.1M97.2 24.6h.1M123.2 30.3h.1M78.6 33.3h.1M78.8 34.0h.1M104.6 22.5h.1M73.0 33.6h.1M83.9 32.4h.1M101.9 24.2h.1M120.5 27.6h.1M110.8 17.7h.1M99.0 23.2h.1M113.1 20.5h.1M132.0 24.6h.1M99.1 28.4h.1M111.2 16.9h.1M114.9 26.9h.1M122.1 17.3h.1M113.4 26.1h.1M118.4 24.5h.1M112.5 14.7h.1M82.1 28.8h.1M129.4 22.7h.1M89.6 26.4h.1M82.6 30.4h.1M89.3 26.1h.1M111.9 19.1h.1M94.7 28.3h.1M118.7 19.7h.1M116.0 29.8h.1M92.8 32.5h.1M101.6 28.8h.1M102.0 31.4h.1M114.3 31.8h.1M116.7 31.3h.1M113.2 28.7h.1M125.8 28.4h.1M116.9 30.3h.1M92.9 32.7h.1M121.0 32.3h.1M111.7 31.9h.1M97.9 29.4h.1M101.8 28.4h.1M118.2 29.2h.1M115.4 28.8h.1M99.0 32.7h.1M104.9 28.2h.1M123.6 34.3h.1M105.0 34.9h.1M128.7 28.0h.1M121.0 28.9h.1M110.1 29.5h.1M111.4 30.8h.1M124.0 29.2h.1M136.6 71.5h.1M117.8 68.4h.1M141.5 95.2h.1M135.2 111.0h.1M88.7 73.9h.1M100.7 44.0h.1M72.5 64.3h.1M111.9 70.4h.1M65.9 41.8h.1M130.9 103.5h.1M64.3 37.6h.1M91.4 79.4h.1M127.2 84.4h.1M134.3 38.0h.1M77.0 84.0h.1M142.3 69.4h.1M67.5 40.0h.1M89.7 71.3h.1M133.2 77.0h.1M109.9 111.9h.1M147.9 103.8h.1M93.1 31.5h.1" stroke="#f1447a" stroke-width="1.05" stroke-linecap="square" fill="none"/>
<path d="M41.5 83V115.5H71" stroke="#000" stroke-width="0.9" fill="none"/>
<path d="M41.5 79.5l-2 4.5h4z" fill="#000"/><path d="M75 115.5l-4.5 -2v4z" fill="#000"/>
<text x="0" y="0" transform="translate(37.5,112) rotate(-90)" font-size="7.6">UMAP2</text>
<text x="42" y="126" font-size="7.6">UMAP1</text>
<circle cx="166" cy="49.6" r="2.6" fill="#2fb3c6"/>
<text x="175.5" y="52.4" font-size="7.8">CD4_Trm_Hspa1a</text>
<circle cx="166" cy="59.4" r="2.6" fill="#8fd16a"/>
<text x="175.5" y="62.1" font-size="7.8">CD4_Tcm_Gpr183</text>
<circle cx="166" cy="69.1" r="2.6" fill="#f5883c"/>
<text x="175.5" y="71.9" font-size="7.8">CD4_Tn_Sell</text>
<circle cx="166" cy="78.8" r="2.6" fill="#6b59a8"/>
<text x="175.5" y="81.6" font-size="7.8">CD4_Teff_Gzmb</text>
<circle cx="166" cy="88.6" r="2.6" fill="#f1447a"/>
<text x="175.5" y="91.4" font-size="7.8">CD4_Treg_Foxp3</text>
<rect x="32.3" y="138.9" width="164.3" height="57.9" fill="none" stroke="#333" stroke-width="0.8"/>
<rect x="34.6" y="144.2" width="46.0" height="12.4" fill="#2fb3c6" stroke="#333" stroke-width="0.6"/>
<rect x="80.6" y="144.2" width="30.8" height="12.4" fill="#8fd16a" stroke="#333" stroke-width="0.6"/>
<rect x="111.4" y="144.2" width="23.9" height="12.4" fill="#f5883c" stroke="#333" stroke-width="0.6"/>
<rect x="135.3" y="144.2" width="35.8" height="12.4" fill="#6b59a8" stroke="#333" stroke-width="0.6"/>
<rect x="171.1" y="144.2" width="22.5" height="12.4" fill="#f1447a" stroke="#333" stroke-width="0.6"/>
<rect x="34.6" y="161.9" width="50.8" height="12.4" fill="#2fb3c6" stroke="#333" stroke-width="0.6"/>
<rect x="85.4" y="161.9" width="36.0" height="12.4" fill="#8fd16a" stroke="#333" stroke-width="0.6"/>
<rect x="121.4" y="161.9" width="31.9" height="12.4" fill="#f5883c" stroke="#333" stroke-width="0.6"/>
<rect x="153.3" y="161.9" width="26.4" height="12.4" fill="#6b59a8" stroke="#333" stroke-width="0.6"/>
<rect x="179.7" y="161.9" width="13.9" height="12.4" fill="#f1447a" stroke="#333" stroke-width="0.6"/>
<rect x="34.6" y="179.4" width="54.0" height="12.4" fill="#2fb3c6" stroke="#333" stroke-width="0.6"/>
<rect x="88.6" y="179.4" width="40.8" height="12.4" fill="#8fd16a" stroke="#333" stroke-width="0.6"/>
<rect x="129.4" y="179.4" width="28.8" height="12.4" fill="#f5883c" stroke="#333" stroke-width="0.6"/>
<rect x="158.2" y="179.4" width="22.5" height="12.4" fill="#6b59a8" stroke="#333" stroke-width="0.6"/>
<rect x="180.7" y="179.4" width="12.9" height="12.4" fill="#f1447a" stroke="#333" stroke-width="0.6"/>
<line x1="196.6" x2="199" y1="149.4" y2="149.4" stroke="#333" stroke-width="0.7"/>
<text x="200.3" y="152.9" font-size="9.7">apCAFs</text>
<line x1="196.6" x2="199" y1="167.6" y2="167.6" stroke="#333" stroke-width="0.7"/>
<text x="200.3" y="171.1" font-size="9.7">MHC II<tspan font-size="5.2" dy="-3.6">-</tspan><tspan dy="3.6"> CAFs</tspan></text>
<line x1="196.6" x2="199" y1="186.3" y2="186.3" stroke="#333" stroke-width="0.7"/>
<text x="200.3" y="189.8" font-size="9.7">Con</text>
<line x1="34.8" x2="34.8" y1="196.8" y2="199" stroke="#333" stroke-width="0.7"/>
<text transform="translate(38.6,216.2) rotate(-90)" font-size="8">1.00</text>
<line x1="75.1" x2="75.1" y1="196.8" y2="199" stroke="#333" stroke-width="0.7"/>
<text transform="translate(78.9,216.2) rotate(-90)" font-size="8">0.75</text>
<line x1="115.4" x2="115.4" y1="196.8" y2="199" stroke="#333" stroke-width="0.7"/>
<text transform="translate(119.2,216.2) rotate(-90)" font-size="8">0.50</text>
<line x1="155.7" x2="155.7" y1="196.8" y2="199" stroke="#333" stroke-width="0.7"/>
<text transform="translate(159.5,216.2) rotate(-90)" font-size="8">0.25</text>
<line x1="196.0" x2="196.0" y1="196.8" y2="199" stroke="#333" stroke-width="0.7"/>
<text transform="translate(199.8,216.2) rotate(-90)" font-size="8">0.00</text>
<text transform="translate(26.8,197) rotate(-90)" font-size="8.2">Cell proportion</text>
<text x="249.8" y="14.6" class="pl">B</text>
<rect x="285.20" y="15.80" width="16.90" height="15.55" fill="#d8eaf3" stroke="#fff" stroke-width="0.8"/>
<rect x="302.10" y="15.80" width="16.90" height="15.55" fill="#a3cbe2" stroke="#fff" stroke-width="0.8"/>
<rect x="319.00" y="15.80" width="16.90" height="15.55" fill="#d73027" stroke="#fff" stroke-width="0.8"/>
<text x="338.3" y="25.68" font-size="8.1" font-style="italic">Cst7</text>
<rect x="285.20" y="31.35" width="16.90" height="15.55" fill="#bcdaeb" stroke="#fff" stroke-width="0.8"/>
<rect x="302.10" y="31.35" width="16.90" height="15.55" fill="#bddcec" stroke="#fff" stroke-width="0.8"/>
<rect x="319.00" y="31.35" width="16.90" height="15.55" fill="#d73027" stroke="#fff" stroke-width="0.8"/>
<text x="338.3" y="41.23" font-size="8.1" font-style="italic">Cxcl13</text>
<rect x="285.20" y="46.90" width="16.90" height="15.55" fill="#d6e9f3" stroke="#fff" stroke-width="0.8"/>
<rect x="302.10" y="46.90" width="16.90" height="15.55" fill="#9fc8e1" stroke="#fff" stroke-width="0.8"/>
<rect x="319.00" y="46.90" width="16.90" height="15.55" fill="#d73027" stroke="#fff" stroke-width="0.8"/>
<text x="338.3" y="56.78" font-size="8.1" font-style="italic">Nkg7</text>
<rect x="285.20" y="62.45" width="16.90" height="15.55" fill="#f5f8cc" stroke="#fff" stroke-width="0.8"/>
<rect x="302.10" y="62.45" width="16.90" height="15.55" fill="#6a9ecb" stroke="#fff" stroke-width="0.8"/>
<rect x="319.00" y="62.45" width="16.90" height="15.55" fill="#e24a33" stroke="#fff" stroke-width="0.8"/>
<text x="338.3" y="72.33" font-size="8.1" font-style="italic">Prf1</text>
<rect x="285.20" y="78.00" width="16.90" height="15.55" fill="#b8d8ea" stroke="#fff" stroke-width="0.8"/>
<rect x="302.10" y="78.00" width="16.90" height="15.55" fill="#bcdcec" stroke="#fff" stroke-width="0.8"/>
<rect x="319.00" y="78.00" width="16.90" height="15.55" fill="#d73027" stroke="#fff" stroke-width="0.8"/>
<text x="338.3" y="87.88" font-size="8.1" font-style="italic">Ifng</text>
<rect x="285.20" y="93.55" width="16.90" height="15.55" fill="#dcedf5" stroke="#fff" stroke-width="0.8"/>
<rect x="302.10" y="93.55" width="16.90" height="15.55" fill="#a0c8e1" stroke="#fff" stroke-width="0.8"/>
<rect x="319.00" y="93.55" width="16.90" height="15.55" fill="#d73027" stroke="#fff" stroke-width="0.8"/>
<text x="338.3" y="103.42" font-size="8.1" font-style="italic">Ccl3</text>
<rect x="285.20" y="109.10" width="16.90" height="15.55" fill="#c8e1ef" stroke="#fff" stroke-width="0.8"/>
<rect x="302.10" y="109.10" width="16.90" height="15.55" fill="#b4d5e9" stroke="#fff" stroke-width="0.8"/>
<rect x="319.00" y="109.10" width="16.90" height="15.55" fill="#d73027" stroke="#fff" stroke-width="0.8"/>
<text x="338.3" y="118.98" font-size="8.1" font-style="italic">Ccl4</text>
<rect x="285.20" y="124.65" width="16.90" height="15.55" fill="#fde3a0" stroke="#fff" stroke-width="0.8"/>
<rect x="302.10" y="124.65" width="16.90" height="15.55" fill="#4676b5" stroke="#fff" stroke-width="0.8"/>
<rect x="319.00" y="124.65" width="16.90" height="15.55" fill="#f88e56" stroke="#fff" stroke-width="0.8"/>
<text x="338.3" y="134.53" font-size="8.1" font-style="italic">Ccl5</text>
<rect x="285.20" y="140.20" width="16.90" height="15.55" fill="#b6d6ea" stroke="#fff" stroke-width="0.8"/>
<rect x="302.10" y="140.20" width="16.90" height="15.55" fill="#c9e2ef" stroke="#fff" stroke-width="0.8"/>
<rect x="319.00" y="140.20" width="16.90" height="15.55" fill="#d73027" stroke="#fff" stroke-width="0.8"/>
<text x="338.3" y="150.08" font-size="8.1" font-style="italic">Gzma</text>
<rect x="285.20" y="155.75" width="16.90" height="15.55" fill="#fee6a6" stroke="#fff" stroke-width="0.8"/>
<rect x="302.10" y="155.75" width="16.90" height="15.55" fill="#4a78b6" stroke="#fff" stroke-width="0.8"/>
<rect x="319.00" y="155.75" width="16.90" height="15.55" fill="#f47c4c" stroke="#fff" stroke-width="0.8"/>
<text x="338.3" y="165.63" font-size="8.1" font-style="italic">Gzmb</text>
<text transform="translate(296.4,177.6) rotate(-45)" font-size="8.6" text-anchor="end">Con</text>
<text transform="translate(320.9,176.0) rotate(-45)" font-size="8.6" text-anchor="end">MHC II<tspan font-size="5" dy="-3">-</tspan><tspan dy="3"> CAFs</tspan></text>
<text transform="translate(337.8,177.8) rotate(-45)" font-size="8.6" text-anchor="end">apCAFs</text>
<defs><linearGradient id="rb" x1="0" y1="0" x2="0" y2="1"><stop offset="0" stop-color="#d73027"/><stop offset="0.15" stop-color="#e9553a"/><stop offset="0.3" stop-color="#fc9d59"/><stop offset="0.45" stop-color="#fee090"/><stop offset="0.5" stop-color="#ffffbf"/><stop offset="0.6" stop-color="#e0f3f8"/><stop offset="0.75" stop-color="#91bfdb"/><stop offset="1" stop-color="#4575b4"/></linearGradient></defs>
<rect x="363.3" y="72.8" width="8.4" height="57.4" fill="url(#rb)"/>
<line x1="363.3" x2="365" y1="83.4" y2="83.4" stroke="#fff" stroke-width="0.6"/><line x1="370" x2="371.7" y1="83.4" y2="83.4" stroke="#fff" stroke-width="0.6"/>
<text x="373.6" y="86.0" font-size="7.4">1</text>
<line x1="363.3" x2="365" y1="101.3" y2="101.3" stroke="#fff" stroke-width="0.6"/><line x1="370" x2="371.7" y1="101.3" y2="101.3" stroke="#fff" stroke-width="0.6"/>
<text x="373.6" y="103.9" font-size="7.4">0</text>
<line x1="363.3" x2="365" y1="120.2" y2="120.2" stroke="#fff" stroke-width="0.6"/><line x1="370" x2="371.7" y1="120.2" y2="120.2" stroke="#fff" stroke-width="0.6"/>
<text x="372.6" y="122.8" font-size="7.4">−1</text>
<text x="403.6" y="14.3" class="pl">C</text>
<defs><linearGradient id="spx" gradientUnits="userSpaceOnUse" x1="477" y1="0" x2="645" y2="0"><stop offset="0" stop-color="#5756a3"/><stop offset="0.12" stop-color="#4884b0"/><stop offset="0.25" stop-color="#58b3a4"/><stop offset="0.4" stop-color="#a6d99e"/><stop offset="0.5" stop-color="#dfeea0"/><stop offset="0.6" stop-color="#f5ee9c"/><stop offset="0.67" stop-color="#fbd98a"/><stop offset="0.74" stop-color="#f9a866"/><stop offset="0.82" stop-color="#f07a4c"/><stop offset="0.9" stop-color="#dc5140"/><stop offset="1" stop-color="#a8213f"/></linearGradient>
<linearGradient id="spy" x1="0" y1="0" x2="0" y2="1"><stop offset="0" stop-color="#a8213f"/><stop offset="0.1" stop-color="#dc5140"/><stop offset="0.18" stop-color="#f07a4c"/><stop offset="0.26" stop-color="#f9a866"/><stop offset="0.33" stop-color="#fbd98a"/><stop offset="0.4" stop-color="#f5ee9c"/><stop offset="0.5" stop-color="#dfeea0"/><stop offset="0.6" stop-color="#a6d99e"/><stop offset="0.75" stop-color="#58b3a4"/><stop offset="0.88" stop-color="#4884b0"/><stop offset="1" stop-color="#5756a3"/></linearGradient></defs>
<path d="M477.2 18.4L477.2 18.4C478.9 18.3 484.4 18.1 487.1 17.7C489.8 17.3 491.6 16.7 493.6 15.8C495.6 14.9 497.0 13.4 498.9 12.5C500.8 11.6 503.1 10.8 504.8 10.5C506.6 10.2 507.3 10.5 509.4 10.8C511.5 11.1 514.4 12.1 517.3 12.1C520.1 12.1 523.6 10.9 526.5 10.8C529.4 10.7 531.8 11.2 534.4 11.6C537.0 11.9 539.9 13.1 542.3 12.9C544.7 12.7 546.6 10.9 548.8 10.2C550.9 9.4 553.2 8.5 555.2 8.4C557.2 8.3 558.2 9.0 560.5 9.7C562.8 10.4 565.2 12.2 568.9 12.5C572.6 12.8 577.6 12.0 582.7 11.8C587.8 11.6 595.2 12.3 599.4 11.4C603.6 10.5 605.1 7.8 607.7 6.2C610.4 4.7 613.2 2.4 615.3 2.1C617.4 1.8 618.5 2.7 620.2 4.2C621.9 5.7 623.6 9.0 625.7 11.1C627.8 13.2 630.6 15.7 632.7 16.9C634.8 18.0 636.2 17.8 638.2 18.0C640.2 18.2 643.8 18.2 644.9 18.3L644.9 18.7Z" fill="url(#spx)" stroke="none"/>
<path d="M477.2 18.4C478.9 18.3 484.4 18.1 487.1 17.7C489.8 17.3 491.6 16.7 493.6 15.8C495.6 14.9 497.0 13.4 498.9 12.5C500.8 11.6 503.1 10.8 504.8 10.5C506.6 10.2 507.3 10.5 509.4 10.8C511.5 11.1 514.4 12.1 517.3 12.1C520.1 12.1 523.6 10.9 526.5 10.8C529.4 10.7 531.8 11.2 534.4 11.6C537.0 11.9 539.9 13.1 542.3 12.9C544.7 12.7 546.6 10.9 548.8 10.2C550.9 9.4 553.2 8.5 555.2 8.4C557.2 8.3 558.2 9.0 560.5 9.7C562.8 10.4 565.2 12.2 568.9 12.5C572.6 12.8 577.6 12.0 582.7 11.8C587.8 11.6 595.2 12.3 599.4 11.4C603.6 10.5 605.1 7.8 607.7 6.2C610.4 4.7 613.2 2.4 615.3 2.1C617.4 1.8 618.5 2.7 620.2 4.2C621.9 5.7 623.6 9.0 625.7 11.1C627.8 13.2 630.6 15.7 632.7 16.9C634.8 18.0 636.2 17.8 638.2 18.0C640.2 18.2 643.8 18.2 644.9 18.3" fill="none" stroke="#111" stroke-width="1.15"/>
<text x="475.5" y="19.0" font-size="8.1" text-anchor="end">apCAFs</text>
<path d="M477.2 34.6L477.2 34.6C478.9 34.5 484.4 34.5 487.1 33.9C489.8 33.3 491.6 32.3 493.6 30.9C495.6 29.5 497.1 26.9 498.9 25.6C500.7 24.4 502.4 23.5 504.2 23.4C505.9 23.3 507.2 24.3 509.4 25.0C511.6 25.7 514.4 27.3 517.3 27.6C520.1 27.9 523.6 26.8 526.5 26.9C529.4 26.9 531.8 27.4 534.4 27.9C537.0 28.3 539.9 30.0 542.3 29.6C544.7 29.2 546.6 27.0 548.8 25.6C550.9 24.2 553.4 21.7 555.2 21.0C557.0 20.3 557.1 20.5 559.4 21.5C561.7 22.5 565.0 26.0 568.9 27.0C572.8 28.0 577.6 27.5 582.7 27.7C587.8 27.9 595.2 28.6 599.4 28.4C603.6 28.2 605.3 26.9 607.7 26.4C610.1 25.9 611.8 25.2 613.9 25.4C616.0 25.6 617.8 26.4 620.2 27.7C622.6 29.0 626.0 32.2 628.5 33.3C631.0 34.4 632.7 34.1 635.4 34.3C638.1 34.5 643.3 34.4 644.9 34.4L644.9 34.9Z" fill="url(#spx)" stroke="none"/>
<path d="M477.2 34.6C478.9 34.5 484.4 34.5 487.1 33.9C489.8 33.3 491.6 32.3 493.6 30.9C495.6 29.5 497.1 26.9 498.9 25.6C500.7 24.4 502.4 23.5 504.2 23.4C505.9 23.3 507.2 24.3 509.4 25.0C511.6 25.7 514.4 27.3 517.3 27.6C520.1 27.9 523.6 26.8 526.5 26.9C529.4 26.9 531.8 27.4 534.4 27.9C537.0 28.3 539.9 30.0 542.3 29.6C544.7 29.2 546.6 27.0 548.8 25.6C550.9 24.2 553.4 21.7 555.2 21.0C557.0 20.3 557.1 20.5 559.4 21.5C561.7 22.5 565.0 26.0 568.9 27.0C572.8 28.0 577.6 27.5 582.7 27.7C587.8 27.9 595.2 28.6 599.4 28.4C603.6 28.2 605.3 26.9 607.7 26.4C610.1 25.9 611.8 25.2 613.9 25.4C616.0 25.6 617.8 26.4 620.2 27.7C622.6 29.0 626.0 32.2 628.5 33.3C631.0 34.4 632.7 34.1 635.4 34.3C638.1 34.5 643.3 34.4 644.9 34.4" fill="none" stroke="#111" stroke-width="1.15"/>
<text x="475.5" y="35.2" font-size="8.1" text-anchor="end">MHC II<tspan font-size="5" dy="-3">-</tspan><tspan dy="3"> CAFs</tspan></text>
<path d="M477.2 50.8L477.2 50.6C478.9 50.5 484.4 50.4 487.1 49.7C489.8 49.0 491.6 47.9 493.6 46.6C495.6 45.3 497.0 43.2 498.9 42.0C500.8 40.8 503.1 39.6 504.8 39.4C506.6 39.2 507.3 40.0 509.4 40.7C511.5 41.4 514.4 43.0 517.3 43.4C520.1 43.8 523.6 43.2 526.5 43.4C529.4 43.6 531.8 44.3 534.4 44.7C537.0 45.1 539.9 46.5 542.3 46.0C544.7 45.5 546.6 43.1 548.8 42.0C550.9 40.9 553.4 39.6 555.2 39.3C557.0 39.0 557.1 39.4 559.4 40.2C561.7 41.1 565.0 43.8 568.9 44.4C572.8 45.0 577.6 44.1 582.7 44.1C587.8 44.1 595.2 44.9 599.4 44.4C603.6 43.9 605.2 41.7 607.7 40.9C610.2 40.1 612.5 39.1 614.6 39.5C616.7 39.9 617.9 41.4 620.2 43.0C622.5 44.6 626.0 47.9 628.5 49.2C631.0 50.5 632.7 50.3 635.4 50.6C638.1 50.9 643.3 50.9 644.9 51.0L644.9 51.1Z" fill="url(#spx)" stroke="none"/>
<path d="M477.2 50.6C478.9 50.5 484.4 50.4 487.1 49.7C489.8 49.0 491.6 47.9 493.6 46.6C495.6 45.3 497.0 43.2 498.9 42.0C500.8 40.8 503.1 39.6 504.8 39.4C506.6 39.2 507.3 40.0 509.4 40.7C511.5 41.4 514.4 43.0 517.3 43.4C520.1 43.8 523.6 43.2 526.5 43.4C529.4 43.6 531.8 44.3 534.4 44.7C537.0 45.1 539.9 46.5 542.3 46.0C544.7 45.5 546.6 43.1 548.8 42.0C550.9 40.9 553.4 39.6 555.2 39.3C557.0 39.0 557.1 39.4 559.4 40.2C561.7 41.1 565.0 43.8 568.9 44.4C572.8 45.0 577.6 44.1 582.7 44.1C587.8 44.1 595.2 44.9 599.4 44.4C603.6 43.9 605.2 41.7 607.7 40.9C610.2 40.1 612.5 39.1 614.6 39.5C616.7 39.9 617.9 41.4 620.2 43.0C622.5 44.6 626.0 47.9 628.5 49.2C631.0 50.5 632.7 50.3 635.4 50.6C638.1 50.9 643.3 50.9 644.9 51.0" fill="none" stroke="#111" stroke-width="1.15"/>
<text x="475.5" y="51.4" font-size="8.1" text-anchor="end">Con</text>
<text x="649.3" y="5.3" font-size="6.7">Pseudotime</text>
<rect x="657.9" y="7.9" width="7.9" height="38.5" fill="url(#spy)"/>
<text x="668" y="15.4" font-size="7">30</text>
<text x="668" y="24.7" font-size="7">20</text>
<text x="668" y="34.2" font-size="7">10</text>
<text x="668" y="43.9" font-size="7">0</text>
<defs><linearGradient id="hr0"><stop offset="0.000" stop-color="#ffa300"/><stop offset="0.024" stop-color="#ffc400"/><stop offset="0.048" stop-color="#ffdf00"/><stop offset="0.071" stop-color="#ffee00"/><stop offset="0.095" stop-color="#fffc00"/><stop offset="0.119" stop-color="#fdff03"/><stop offset="0.143" stop-color="#faff06"/><stop offset="0.167" stop-color="#f6ff09"/><stop offset="0.190" stop-color="#f3ff0c"/><stop offset="0.214" stop-color="#eeff13"/><stop offset="0.238" stop-color="#e6ff1b"/><stop offset="0.262" stop-color="#deff23"/><stop offset="0.286" stop-color="#d7ff2b"/><stop offset="0.310" stop-color="#cfff33"/><stop offset="0.333" stop-color="#c8ff3b"/><stop offset="0.357" stop-color="#c1ff43"/><stop offset="0.381" stop-color="#baff4a"/><stop offset="0.405" stop-color="#b3ff52"/><stop offset="0.429" stop-color="#acff5a"/><stop offset="0.452" stop-color="#a5ff61"/><stop offset="0.476" stop-color="#9cff6a"/><stop offset="0.500" stop-color="#94ff73"/><stop offset="0.524" stop-color="#8cff7c"/><stop offset="0.548" stop-color="#84ff85"/><stop offset="0.571" stop-color="#7cff8d"/><stop offset="0.595" stop-color="#75ff93"/><stop offset="0.619" stop-color="#6cff9b"/><stop offset="0.643" stop-color="#63ffa4"/><stop offset="0.667" stop-color="#5affac"/><stop offset="0.690" stop-color="#51ffb5"/><stop offset="0.714" stop-color="#47ffbd"/><stop offset="0.738" stop-color="#3effc6"/><stop offset="0.762" stop-color="#34ffcf"/><stop offset="0.786" stop-color="#29ffd9"/><stop offset="0.810" stop-color="#1effe3"/><stop offset="0.833" stop-color="#13ffed"/><stop offset="0.857" stop-color="#06fffa"/><stop offset="0.881" stop-color="#00e8ff"/><stop offset="0.905" stop-color="#00ccff"/><stop offset="0.929" stop-color="#00c3ff"/><stop offset="0.952" stop-color="#00b9ff"/><stop offset="0.976" stop-color="#00b0ff"/><stop offset="1.000" stop-color="#00a7ff"/></linearGradient><linearGradient id="hr1"><stop offset="0.000" stop-color="#3affca"/><stop offset="0.024" stop-color="#3dffc6"/><stop offset="0.048" stop-color="#41ffc3"/><stop offset="0.071" stop-color="#45ffbf"/><stop offset="0.095" stop-color="#49ffbc"/><stop offset="0.119" stop-color="#4dffb8"/><stop offset="0.143" stop-color="#50ffb5"/><stop offset="0.167" stop-color="#79ff8f"/><stop offset="0.190" stop-color="#acff59"/><stop offset="0.214" stop-color="#dfff23"/><stop offset="0.238" stop-color="#fff100"/><stop offset="0.262" stop-color="#ffc800"/><stop offset="0.286" stop-color="#ffa500"/><stop offset="0.310" stop-color="#ff9700"/><stop offset="0.333" stop-color="#ff9100"/><stop offset="0.357" stop-color="#ffad00"/><stop offset="0.381" stop-color="#ffd700"/><stop offset="0.405" stop-color="#fff500"/><stop offset="0.429" stop-color="#fbff04"/><stop offset="0.452" stop-color="#f0ff10"/><stop offset="0.476" stop-color="#e0ff22"/><stop offset="0.500" stop-color="#d0ff33"/><stop offset="0.524" stop-color="#c0ff44"/><stop offset="0.548" stop-color="#b0ff55"/><stop offset="0.571" stop-color="#a0ff67"/><stop offset="0.595" stop-color="#90ff78"/><stop offset="0.619" stop-color="#80ff89"/><stop offset="0.643" stop-color="#74ff94"/><stop offset="0.667" stop-color="#68ff9f"/><stop offset="0.690" stop-color="#5dffaa"/><stop offset="0.714" stop-color="#51ffb4"/><stop offset="0.738" stop-color="#50ffb5"/><stop offset="0.762" stop-color="#4fffb6"/><stop offset="0.786" stop-color="#4effb7"/><stop offset="0.810" stop-color="#4dffb8"/><stop offset="0.833" stop-color="#4cffb9"/><stop offset="0.857" stop-color="#4bffba"/><stop offset="0.881" stop-color="#4affbb"/><stop offset="0.905" stop-color="#49ffbc"/><stop offset="0.929" stop-color="#48ffbd"/><stop offset="0.952" stop-color="#47ffbd"/><stop offset="0.976" stop-color="#46ffbe"/><stop offset="1.000" stop-color="#45ffbf"/></linearGradient><linearGradient id="hr2"><stop offset="0.000" stop-color="#17ffea"/><stop offset="0.024" stop-color="#20ffe2"/><stop offset="0.048" stop-color="#28ffda"/><stop offset="0.071" stop-color="#31ffd2"/><stop offset="0.095" stop-color="#39ffca"/><stop offset="0.119" stop-color="#42ffc2"/><stop offset="0.143" stop-color="#53ffb3"/><stop offset="0.167" stop-color="#6bff9d"/><stop offset="0.190" stop-color="#82ff86"/><stop offset="0.214" stop-color="#9dff6a"/><stop offset="0.238" stop-color="#b6ff4f"/><stop offset="0.262" stop-color="#caff39"/><stop offset="0.286" stop-color="#dfff23"/><stop offset="0.310" stop-color="#f3ff0d"/><stop offset="0.333" stop-color="#fffe00"/><stop offset="0.357" stop-color="#ffec00"/><stop offset="0.381" stop-color="#ffe400"/><stop offset="0.405" stop-color="#ffe400"/><stop offset="0.429" stop-color="#ffe400"/><stop offset="0.452" stop-color="#fff200"/><stop offset="0.476" stop-color="#fbff05"/><stop offset="0.500" stop-color="#edff14"/><stop offset="0.524" stop-color="#deff23"/><stop offset="0.548" stop-color="#d0ff33"/><stop offset="0.571" stop-color="#c2ff42"/><stop offset="0.595" stop-color="#b2ff53"/><stop offset="0.619" stop-color="#a2ff65"/><stop offset="0.643" stop-color="#91ff76"/><stop offset="0.667" stop-color="#81ff88"/><stop offset="0.690" stop-color="#72ff96"/><stop offset="0.714" stop-color="#64ffa3"/><stop offset="0.738" stop-color="#55ffb1"/><stop offset="0.762" stop-color="#47ffbe"/><stop offset="0.786" stop-color="#37ffcd"/><stop offset="0.810" stop-color="#26ffdc"/><stop offset="0.833" stop-color="#16ffeb"/><stop offset="0.857" stop-color="#00feff"/><stop offset="0.881" stop-color="#00c0ff"/><stop offset="0.905" stop-color="#00aaff"/><stop offset="0.929" stop-color="#00a2ff"/><stop offset="0.952" stop-color="#009aff"/><stop offset="0.976" stop-color="#0092ff"/><stop offset="1.000" stop-color="#0089ff"/></linearGradient><linearGradient id="hr3"><stop offset="0.000" stop-color="#0cfff4"/><stop offset="0.024" stop-color="#16ffeb"/><stop offset="0.048" stop-color="#20ffe1"/><stop offset="0.071" stop-color="#2affd8"/><stop offset="0.095" stop-color="#35ffce"/><stop offset="0.119" stop-color="#46ffbf"/><stop offset="0.143" stop-color="#5dffa9"/><stop offset="0.167" stop-color="#74ff94"/><stop offset="0.190" stop-color="#8dff7b"/><stop offset="0.214" stop-color="#a7ff5f"/><stop offset="0.238" stop-color="#c0ff44"/><stop offset="0.262" stop-color="#d9ff29"/><stop offset="0.286" stop-color="#f2ff0e"/><stop offset="0.310" stop-color="#fff300"/><stop offset="0.333" stop-color="#ffd900"/><stop offset="0.357" stop-color="#ffc700"/><stop offset="0.381" stop-color="#ffc500"/><stop offset="0.405" stop-color="#ffc200"/><stop offset="0.429" stop-color="#ffbf00"/><stop offset="0.452" stop-color="#ffd100"/><stop offset="0.476" stop-color="#ffe800"/><stop offset="0.500" stop-color="#fdff03"/><stop offset="0.524" stop-color="#eaff17"/><stop offset="0.548" stop-color="#d9ff29"/><stop offset="0.571" stop-color="#c9ff3b"/><stop offset="0.595" stop-color="#b8ff4c"/><stop offset="0.619" stop-color="#a8ff5e"/><stop offset="0.643" stop-color="#98ff6f"/><stop offset="0.667" stop-color="#88ff81"/><stop offset="0.690" stop-color="#78ff90"/><stop offset="0.714" stop-color="#6aff9e"/><stop offset="0.738" stop-color="#5bffab"/><stop offset="0.762" stop-color="#4effb7"/><stop offset="0.786" stop-color="#40ffc4"/><stop offset="0.810" stop-color="#33ffd0"/><stop offset="0.833" stop-color="#26ffdc"/><stop offset="0.857" stop-color="#18ffe9"/><stop offset="0.881" stop-color="#12ffef"/><stop offset="0.905" stop-color="#0cfff4"/><stop offset="0.929" stop-color="#06fff9"/><stop offset="0.952" stop-color="#00ffff"/><stop offset="0.976" stop-color="#00f5ff"/><stop offset="1.000" stop-color="#00ebff"/></linearGradient><linearGradient id="hr4"><stop offset="0.000" stop-color="#17ffea"/><stop offset="0.024" stop-color="#21ffe0"/><stop offset="0.048" stop-color="#2cffd7"/><stop offset="0.071" stop-color="#36ffcd"/><stop offset="0.095" stop-color="#40ffc4"/><stop offset="0.119" stop-color="#50ffb6"/><stop offset="0.143" stop-color="#65ffa2"/><stop offset="0.167" stop-color="#79ff8f"/><stop offset="0.190" stop-color="#90ff78"/><stop offset="0.214" stop-color="#a7ff5f"/><stop offset="0.238" stop-color="#c0ff44"/><stop offset="0.262" stop-color="#d9ff29"/><stop offset="0.286" stop-color="#f2ff0e"/><stop offset="0.310" stop-color="#fff500"/><stop offset="0.333" stop-color="#ffdf00"/><stop offset="0.357" stop-color="#ffd100"/><stop offset="0.381" stop-color="#ffd100"/><stop offset="0.405" stop-color="#ffd100"/><stop offset="0.429" stop-color="#ffd100"/><stop offset="0.452" stop-color="#ffd100"/><stop offset="0.476" stop-color="#ffe800"/><stop offset="0.500" stop-color="#ffff00"/><stop offset="0.524" stop-color="#efff11"/><stop offset="0.548" stop-color="#dfff23"/><stop offset="0.571" stop-color="#ceff35"/><stop offset="0.595" stop-color="#bcff48"/><stop offset="0.619" stop-color="#aaff5c"/><stop offset="0.643" stop-color="#98ff6f"/><stop offset="0.667" stop-color="#88ff80"/><stop offset="0.690" stop-color="#78ff90"/><stop offset="0.714" stop-color="#6aff9e"/><stop offset="0.738" stop-color="#5bffab"/><stop offset="0.762" stop-color="#4dffb8"/><stop offset="0.786" stop-color="#40ffc4"/><stop offset="0.810" stop-color="#33ffd0"/><stop offset="0.833" stop-color="#25ffdd"/><stop offset="0.857" stop-color="#18ffe9"/><stop offset="0.881" stop-color="#13ffed"/><stop offset="0.905" stop-color="#10fff1"/><stop offset="0.929" stop-color="#0cfff4"/><stop offset="0.952" stop-color="#08fff8"/><stop offset="0.976" stop-color="#04fffb"/><stop offset="1.000" stop-color="#00ffff"/></linearGradient><linearGradient id="hr5"><stop offset="0.000" stop-color="#45ffbf"/><stop offset="0.024" stop-color="#4cffb9"/><stop offset="0.048" stop-color="#52ffb3"/><stop offset="0.071" stop-color="#58ffae"/><stop offset="0.095" stop-color="#5fffa8"/><stop offset="0.119" stop-color="#65ffa2"/><stop offset="0.143" stop-color="#73ff95"/><stop offset="0.167" stop-color="#86ff83"/><stop offset="0.190" stop-color="#9aff6d"/><stop offset="0.214" stop-color="#aeff57"/><stop offset="0.238" stop-color="#c2ff42"/><stop offset="0.262" stop-color="#d5ff2e"/><stop offset="0.286" stop-color="#e7ff1a"/><stop offset="0.310" stop-color="#f9ff07"/><stop offset="0.333" stop-color="#fdff02"/><stop offset="0.357" stop-color="#fffd00"/><stop offset="0.381" stop-color="#fff700"/><stop offset="0.405" stop-color="#fff800"/><stop offset="0.429" stop-color="#fffb00"/><stop offset="0.452" stop-color="#fffe00"/><stop offset="0.476" stop-color="#f7ff08"/><stop offset="0.500" stop-color="#e9ff17"/><stop offset="0.524" stop-color="#dcff26"/><stop offset="0.548" stop-color="#ceff35"/><stop offset="0.571" stop-color="#c1ff43"/><stop offset="0.595" stop-color="#b3ff52"/><stop offset="0.619" stop-color="#a6ff60"/><stop offset="0.643" stop-color="#98ff6f"/><stop offset="0.667" stop-color="#89ff7f"/><stop offset="0.690" stop-color="#7bff8e"/><stop offset="0.714" stop-color="#6dff9b"/><stop offset="0.738" stop-color="#60ffa7"/><stop offset="0.762" stop-color="#52ffb3"/><stop offset="0.786" stop-color="#44ffc1"/><stop offset="0.810" stop-color="#35ffce"/><stop offset="0.833" stop-color="#27ffdb"/><stop offset="0.857" stop-color="#18ffe9"/><stop offset="0.881" stop-color="#00efff"/><stop offset="0.905" stop-color="#00b4ff"/><stop offset="0.929" stop-color="#00a2ff"/><stop offset="0.952" stop-color="#0094ff"/><stop offset="0.976" stop-color="#0085ff"/><stop offset="1.000" stop-color="#0076ff"/></linearGradient><linearGradient id="hr6"><stop offset="0.000" stop-color="#45ffbf"/><stop offset="0.024" stop-color="#46ffbf"/><stop offset="0.048" stop-color="#46ffbe"/><stop offset="0.071" stop-color="#47ffbd"/><stop offset="0.095" stop-color="#48ffbd"/><stop offset="0.119" stop-color="#48ffbc"/><stop offset="0.143" stop-color="#49ffbc"/><stop offset="0.167" stop-color="#4affbb"/><stop offset="0.190" stop-color="#4affbb"/><stop offset="0.214" stop-color="#4bffba"/><stop offset="0.238" stop-color="#4bffba"/><stop offset="0.262" stop-color="#4cffb9"/><stop offset="0.286" stop-color="#4dffb8"/><stop offset="0.310" stop-color="#4dffb8"/><stop offset="0.333" stop-color="#4effb7"/><stop offset="0.357" stop-color="#4effb7"/><stop offset="0.381" stop-color="#4fffb6"/><stop offset="0.405" stop-color="#50ffb6"/><stop offset="0.429" stop-color="#50ffb5"/><stop offset="0.452" stop-color="#51ffb4"/><stop offset="0.476" stop-color="#57ffaf"/><stop offset="0.500" stop-color="#5cffaa"/><stop offset="0.524" stop-color="#62ffa5"/><stop offset="0.548" stop-color="#67ffa0"/><stop offset="0.571" stop-color="#6dff9b"/><stop offset="0.595" stop-color="#72ff96"/><stop offset="0.619" stop-color="#7dff8c"/><stop offset="0.643" stop-color="#89ff7f"/><stop offset="0.667" stop-color="#96ff71"/><stop offset="0.690" stop-color="#a2ff64"/><stop offset="0.714" stop-color="#afff56"/><stop offset="0.738" stop-color="#c1ff43"/><stop offset="0.762" stop-color="#d4ff2f"/><stop offset="0.786" stop-color="#e7ff1a"/><stop offset="0.810" stop-color="#fcff03"/><stop offset="0.833" stop-color="#ffe000"/><stop offset="0.857" stop-color="#ffbb00"/><stop offset="0.881" stop-color="#ff8f00"/><stop offset="0.905" stop-color="#ff6400"/><stop offset="0.929" stop-color="#ff3900"/><stop offset="0.952" stop-color="#ff1d00"/><stop offset="0.976" stop-color="#ff0e00"/><stop offset="1.000" stop-color="#ff0000"/></linearGradient><linearGradient id="hr7"><stop offset="0.000" stop-color="#68ff9f"/><stop offset="0.024" stop-color="#66ffa1"/><stop offset="0.048" stop-color="#64ffa3"/><stop offset="0.071" stop-color="#62ffa4"/><stop offset="0.095" stop-color="#61ffa6"/><stop offset="0.119" stop-color="#5fffa8"/><stop offset="0.143" stop-color="#5dffa9"/><stop offset="0.167" stop-color="#5bffab"/><stop offset="0.190" stop-color="#59ffad"/><stop offset="0.214" stop-color="#57ffae"/><stop offset="0.238" stop-color="#56ffb0"/><stop offset="0.262" stop-color="#54ffb2"/><stop offset="0.286" stop-color="#52ffb4"/><stop offset="0.310" stop-color="#51ffb4"/><stop offset="0.333" stop-color="#53ffb3"/><stop offset="0.357" stop-color="#54ffb2"/><stop offset="0.381" stop-color="#55ffb0"/><stop offset="0.405" stop-color="#57ffaf"/><stop offset="0.429" stop-color="#58ffae"/><stop offset="0.452" stop-color="#5affac"/><stop offset="0.476" stop-color="#5bffab"/><stop offset="0.500" stop-color="#5cffaa"/><stop offset="0.524" stop-color="#62ffa5"/><stop offset="0.548" stop-color="#67ffa0"/><stop offset="0.571" stop-color="#6dff9b"/><stop offset="0.595" stop-color="#72ff96"/><stop offset="0.619" stop-color="#78ff91"/><stop offset="0.643" stop-color="#7dff8c"/><stop offset="0.667" stop-color="#89ff7f"/><stop offset="0.690" stop-color="#97ff70"/><stop offset="0.714" stop-color="#a5ff61"/><stop offset="0.738" stop-color="#b3ff52"/><stop offset="0.762" stop-color="#c1ff43"/><stop offset="0.786" stop-color="#d0ff32"/><stop offset="0.810" stop-color="#e3ff1e"/><stop offset="0.833" stop-color="#f6ff09"/><stop offset="0.857" stop-color="#fff000"/><stop offset="0.881" stop-color="#ffb300"/><stop offset="0.905" stop-color="#ff6d00"/><stop offset="0.929" stop-color="#ff1700"/><stop offset="0.952" stop-color="#ca0000"/><stop offset="0.976" stop-color="#aa0000"/><stop offset="1.000" stop-color="#9e0000"/></linearGradient><linearGradient id="hr8"><stop offset="0.000" stop-color="#d9ff29"/><stop offset="0.024" stop-color="#91ff76"/><stop offset="0.048" stop-color="#73ff95"/><stop offset="0.071" stop-color="#64ffa3"/><stop offset="0.095" stop-color="#54ffb2"/><stop offset="0.119" stop-color="#50ffb5"/><stop offset="0.143" stop-color="#50ffb6"/><stop offset="0.167" stop-color="#4fffb6"/><stop offset="0.190" stop-color="#4effb7"/><stop offset="0.214" stop-color="#4effb8"/><stop offset="0.238" stop-color="#4dffb8"/><stop offset="0.262" stop-color="#4cffb9"/><stop offset="0.286" stop-color="#4bffb9"/><stop offset="0.310" stop-color="#4bffba"/><stop offset="0.333" stop-color="#4affbb"/><stop offset="0.357" stop-color="#49ffbb"/><stop offset="0.381" stop-color="#49ffbc"/><stop offset="0.405" stop-color="#48ffbd"/><stop offset="0.429" stop-color="#47ffbd"/><stop offset="0.452" stop-color="#47ffbe"/><stop offset="0.476" stop-color="#46ffbf"/><stop offset="0.500" stop-color="#45ffbf"/><stop offset="0.524" stop-color="#4dffb8"/><stop offset="0.548" stop-color="#54ffb2"/><stop offset="0.571" stop-color="#5bffab"/><stop offset="0.595" stop-color="#63ffa4"/><stop offset="0.619" stop-color="#6aff9d"/><stop offset="0.643" stop-color="#71ff97"/><stop offset="0.667" stop-color="#7cff8c"/><stop offset="0.690" stop-color="#8aff7e"/><stop offset="0.714" stop-color="#98ff6f"/><stop offset="0.738" stop-color="#a6ff60"/><stop offset="0.762" stop-color="#b4ff51"/><stop offset="0.786" stop-color="#c4ff40"/><stop offset="0.810" stop-color="#d7ff2c"/><stop offset="0.833" stop-color="#eaff17"/><stop offset="0.857" stop-color="#fdff02"/><stop offset="0.881" stop-color="#ffc500"/><stop offset="0.905" stop-color="#ff7d00"/><stop offset="0.929" stop-color="#ff1800"/><stop offset="0.952" stop-color="#dc0000"/><stop offset="0.976" stop-color="#ae0000"/><stop offset="1.000" stop-color="#9e0000"/></linearGradient><linearGradient id="hr9"><stop offset="0.000" stop-color="#00c4ff"/><stop offset="0.024" stop-color="#00d7ff"/><stop offset="0.048" stop-color="#00eaff"/><stop offset="0.071" stop-color="#0dfff3"/><stop offset="0.095" stop-color="#29ffda"/><stop offset="0.119" stop-color="#48ffbd"/><stop offset="0.143" stop-color="#68ff9f"/><stop offset="0.167" stop-color="#85ff84"/><stop offset="0.190" stop-color="#99ff6e"/><stop offset="0.214" stop-color="#adff58"/><stop offset="0.238" stop-color="#b4ff51"/><stop offset="0.262" stop-color="#b7ff4e"/><stop offset="0.286" stop-color="#baff4b"/><stop offset="0.310" stop-color="#bdff48"/><stop offset="0.333" stop-color="#bdff47"/><stop offset="0.357" stop-color="#b1ff55"/><stop offset="0.381" stop-color="#a4ff62"/><stop offset="0.405" stop-color="#97ff70"/><stop offset="0.429" stop-color="#8aff7e"/><stop offset="0.452" stop-color="#7eff8b"/><stop offset="0.476" stop-color="#73ff95"/><stop offset="0.500" stop-color="#68ff9f"/><stop offset="0.524" stop-color="#5dffa9"/><stop offset="0.548" stop-color="#52ffb4"/><stop offset="0.571" stop-color="#51ffb5"/><stop offset="0.595" stop-color="#51ffb5"/><stop offset="0.619" stop-color="#51ffb5"/><stop offset="0.643" stop-color="#51ffb5"/><stop offset="0.667" stop-color="#51ffb5"/><stop offset="0.690" stop-color="#51ffb5"/><stop offset="0.714" stop-color="#59ffad"/><stop offset="0.738" stop-color="#67ffa0"/><stop offset="0.762" stop-color="#75ff94"/><stop offset="0.786" stop-color="#85ff83"/><stop offset="0.810" stop-color="#9fff67"/><stop offset="0.833" stop-color="#baff4b"/><stop offset="0.857" stop-color="#d8ff2a"/><stop offset="0.881" stop-color="#fffc00"/><stop offset="0.905" stop-color="#ffa400"/><stop offset="0.929" stop-color="#ff4d00"/><stop offset="0.952" stop-color="#ff1d00"/><stop offset="0.976" stop-color="#ff0e00"/><stop offset="1.000" stop-color="#ff0000"/></linearGradient><linearGradient id="hr10"><stop offset="0.000" stop-color="#68ff9f"/><stop offset="0.024" stop-color="#67ffa0"/><stop offset="0.048" stop-color="#67ffa0"/><stop offset="0.071" stop-color="#66ffa1"/><stop offset="0.095" stop-color="#66ffa1"/><stop offset="0.119" stop-color="#65ffa2"/><stop offset="0.143" stop-color="#65ffa2"/><stop offset="0.167" stop-color="#64ffa3"/><stop offset="0.190" stop-color="#64ffa3"/><stop offset="0.214" stop-color="#63ffa4"/><stop offset="0.238" stop-color="#62ffa4"/><stop offset="0.262" stop-color="#62ffa5"/><stop offset="0.286" stop-color="#61ffa5"/><stop offset="0.310" stop-color="#61ffa6"/><stop offset="0.333" stop-color="#60ffa6"/><stop offset="0.357" stop-color="#60ffa7"/><stop offset="0.381" stop-color="#5fffa7"/><stop offset="0.405" stop-color="#5fffa8"/><stop offset="0.429" stop-color="#5effa8"/><stop offset="0.452" stop-color="#5dffa9"/><stop offset="0.476" stop-color="#5dffa9"/><stop offset="0.500" stop-color="#5cffaa"/><stop offset="0.524" stop-color="#5fffa7"/><stop offset="0.548" stop-color="#62ffa5"/><stop offset="0.571" stop-color="#65ffa2"/><stop offset="0.595" stop-color="#67ffa0"/><stop offset="0.619" stop-color="#6aff9d"/><stop offset="0.643" stop-color="#6dff9b"/><stop offset="0.667" stop-color="#70ff98"/><stop offset="0.690" stop-color="#72ff96"/><stop offset="0.714" stop-color="#7cff8d"/><stop offset="0.738" stop-color="#8bff7e"/><stop offset="0.762" stop-color="#9aff6d"/><stop offset="0.786" stop-color="#a9ff5d"/><stop offset="0.810" stop-color="#beff46"/><stop offset="0.833" stop-color="#ddff25"/><stop offset="0.857" stop-color="#fbff04"/><stop offset="0.881" stop-color="#ffc500"/><stop offset="0.905" stop-color="#ff8000"/><stop offset="0.929" stop-color="#ff2900"/><stop offset="0.952" stop-color="#f00000"/><stop offset="0.976" stop-color="#c10000"/><stop offset="1.000" stop-color="#b20000"/></linearGradient><linearGradient id="hr11"><stop offset="0.000" stop-color="#51ffb5"/><stop offset="0.024" stop-color="#51ffb5"/><stop offset="0.048" stop-color="#51ffb5"/><stop offset="0.071" stop-color="#51ffb5"/><stop offset="0.095" stop-color="#51ffb5"/><stop offset="0.119" stop-color="#51ffb5"/><stop offset="0.143" stop-color="#51ffb5"/><stop offset="0.167" stop-color="#51ffb5"/><stop offset="0.190" stop-color="#51ffb5"/><stop offset="0.214" stop-color="#51ffb5"/><stop offset="0.238" stop-color="#51ffb5"/><stop offset="0.262" stop-color="#51ffb5"/><stop offset="0.286" stop-color="#51ffb5"/><stop offset="0.310" stop-color="#51ffb5"/><stop offset="0.333" stop-color="#51ffb5"/><stop offset="0.357" stop-color="#51ffb5"/><stop offset="0.381" stop-color="#51ffb5"/><stop offset="0.405" stop-color="#51ffb5"/><stop offset="0.429" stop-color="#51ffb5"/><stop offset="0.452" stop-color="#51ffb5"/><stop offset="0.476" stop-color="#51ffb5"/><stop offset="0.500" stop-color="#51ffb5"/><stop offset="0.524" stop-color="#51ffb5"/><stop offset="0.548" stop-color="#51ffb5"/><stop offset="0.571" stop-color="#51ffb5"/><stop offset="0.595" stop-color="#51ffb5"/><stop offset="0.619" stop-color="#58ffae"/><stop offset="0.643" stop-color="#61ffa5"/><stop offset="0.667" stop-color="#6aff9d"/><stop offset="0.690" stop-color="#74ff94"/><stop offset="0.714" stop-color="#7dff8c"/><stop offset="0.738" stop-color="#92ff76"/><stop offset="0.762" stop-color="#aaff5c"/><stop offset="0.786" stop-color="#c2ff41"/><stop offset="0.810" stop-color="#dbff27"/><stop offset="0.833" stop-color="#f6ff09"/><stop offset="0.857" stop-color="#ffe000"/><stop offset="0.881" stop-color="#ffa700"/><stop offset="0.905" stop-color="#ff5e00"/><stop offset="0.929" stop-color="#ff1600"/><stop offset="0.952" stop-color="#f20000"/><stop offset="0.976" stop-color="#d40000"/><stop offset="1.000" stop-color="#c50000"/></linearGradient><linearGradient id="hr12"><stop offset="0.000" stop-color="#0027ff"/><stop offset="0.024" stop-color="#0046ff"/><stop offset="0.048" stop-color="#007dff"/><stop offset="0.071" stop-color="#00bfff"/><stop offset="0.095" stop-color="#03fffc"/><stop offset="0.119" stop-color="#2dffd6"/><stop offset="0.143" stop-color="#55ffb1"/><stop offset="0.167" stop-color="#75ff93"/><stop offset="0.190" stop-color="#97ff70"/><stop offset="0.214" stop-color="#b0ff55"/><stop offset="0.238" stop-color="#c1ff43"/><stop offset="0.262" stop-color="#d3ff30"/><stop offset="0.286" stop-color="#d9ff29"/><stop offset="0.310" stop-color="#d9ff29"/><stop offset="0.333" stop-color="#d9ff29"/><stop offset="0.357" stop-color="#d3ff2f"/><stop offset="0.381" stop-color="#c1ff43"/><stop offset="0.405" stop-color="#afff57"/><stop offset="0.429" stop-color="#9cff6a"/><stop offset="0.452" stop-color="#8bff7e"/><stop offset="0.476" stop-color="#7eff8b"/><stop offset="0.500" stop-color="#73ff95"/><stop offset="0.524" stop-color="#68ff9f"/><stop offset="0.548" stop-color="#5dffa9"/><stop offset="0.571" stop-color="#5cffaa"/><stop offset="0.595" stop-color="#5cffaa"/><stop offset="0.619" stop-color="#5cffaa"/><stop offset="0.643" stop-color="#5cffaa"/><stop offset="0.667" stop-color="#5cffaa"/><stop offset="0.690" stop-color="#5cffaa"/><stop offset="0.714" stop-color="#67ffa0"/><stop offset="0.738" stop-color="#78ff91"/><stop offset="0.762" stop-color="#8aff7e"/><stop offset="0.786" stop-color="#9fff68"/><stop offset="0.810" stop-color="#baff4b"/><stop offset="0.833" stop-color="#d4ff2e"/><stop offset="0.857" stop-color="#efff11"/><stop offset="0.881" stop-color="#ffd800"/><stop offset="0.905" stop-color="#ff9400"/><stop offset="0.929" stop-color="#ff4800"/><stop offset="0.952" stop-color="#ff1900"/><stop offset="0.976" stop-color="#ff0300"/><stop offset="1.000" stop-color="#ec0000"/></linearGradient><linearGradient id="hr13"><stop offset="0.000" stop-color="#45ffbf"/><stop offset="0.024" stop-color="#45ffbf"/><stop offset="0.048" stop-color="#45ffbf"/><stop offset="0.071" stop-color="#45ffbf"/><stop offset="0.095" stop-color="#45ffbf"/><stop offset="0.119" stop-color="#45ffbf"/><stop offset="0.143" stop-color="#45ffbf"/><stop offset="0.167" stop-color="#45ffbf"/><stop offset="0.190" stop-color="#45ffbf"/><stop offset="0.214" stop-color="#45ffbf"/><stop offset="0.238" stop-color="#45ffbf"/><stop offset="0.262" stop-color="#45ffbf"/><stop offset="0.286" stop-color="#45ffbf"/><stop offset="0.310" stop-color="#45ffbf"/><stop offset="0.333" stop-color="#45ffbf"/><stop offset="0.357" stop-color="#45ffbf"/><stop offset="0.381" stop-color="#45ffbf"/><stop offset="0.405" stop-color="#45ffbf"/><stop offset="0.429" stop-color="#45ffbf"/><stop offset="0.452" stop-color="#45ffbf"/><stop offset="0.476" stop-color="#45ffbf"/><stop offset="0.500" stop-color="#45ffbf"/><stop offset="0.524" stop-color="#45ffbf"/><stop offset="0.548" stop-color="#45ffbf"/><stop offset="0.571" stop-color="#45ffbf"/><stop offset="0.595" stop-color="#45ffbf"/><stop offset="0.619" stop-color="#4bffba"/><stop offset="0.643" stop-color="#52ffb3"/><stop offset="0.667" stop-color="#5affac"/><stop offset="0.690" stop-color="#61ffa6"/><stop offset="0.714" stop-color="#68ff9f"/><stop offset="0.738" stop-color="#70ff98"/><stop offset="0.762" stop-color="#7fff8a"/><stop offset="0.786" stop-color="#99ff6e"/><stop offset="0.810" stop-color="#b4ff51"/><stop offset="0.833" stop-color="#d0ff33"/><stop offset="0.857" stop-color="#efff12"/><stop offset="0.881" stop-color="#ffd700"/><stop offset="0.905" stop-color="#ff7d00"/><stop offset="0.929" stop-color="#ff1800"/><stop offset="0.952" stop-color="#e70000"/><stop offset="0.976" stop-color="#c10000"/><stop offset="1.000" stop-color="#b20000"/></linearGradient><linearGradient id="hr14"><stop offset="0.000" stop-color="#ff5a00"/><stop offset="0.024" stop-color="#ffd900"/><stop offset="0.048" stop-color="#d9ff29"/><stop offset="0.071" stop-color="#b7ff4e"/><stop offset="0.095" stop-color="#a6ff60"/><stop offset="0.119" stop-color="#95ff72"/><stop offset="0.143" stop-color="#84ff85"/><stop offset="0.167" stop-color="#7aff8f"/><stop offset="0.190" stop-color="#73ff95"/><stop offset="0.214" stop-color="#6bff9c"/><stop offset="0.238" stop-color="#64ffa3"/><stop offset="0.262" stop-color="#5dffaa"/><stop offset="0.286" stop-color="#55ffb0"/><stop offset="0.310" stop-color="#51ffb4"/><stop offset="0.333" stop-color="#52ffb4"/><stop offset="0.357" stop-color="#52ffb3"/><stop offset="0.381" stop-color="#53ffb2"/><stop offset="0.405" stop-color="#54ffb2"/><stop offset="0.429" stop-color="#55ffb1"/><stop offset="0.452" stop-color="#55ffb0"/><stop offset="0.476" stop-color="#56ffb0"/><stop offset="0.500" stop-color="#57ffaf"/><stop offset="0.524" stop-color="#57ffaf"/><stop offset="0.548" stop-color="#58ffae"/><stop offset="0.571" stop-color="#59ffad"/><stop offset="0.595" stop-color="#59ffad"/><stop offset="0.619" stop-color="#5affac"/><stop offset="0.643" stop-color="#5bffab"/><stop offset="0.667" stop-color="#5bffab"/><stop offset="0.690" stop-color="#5cffaa"/><stop offset="0.714" stop-color="#65ffa2"/><stop offset="0.738" stop-color="#72ff96"/><stop offset="0.762" stop-color="#80ff89"/><stop offset="0.786" stop-color="#8fff78"/><stop offset="0.810" stop-color="#a3ff63"/><stop offset="0.833" stop-color="#bcff48"/><stop offset="0.857" stop-color="#d6ff2d"/><stop offset="0.881" stop-color="#faff05"/><stop offset="0.905" stop-color="#ffc600"/><stop offset="0.929" stop-color="#ff6000"/><stop offset="0.952" stop-color="#ff0900"/><stop offset="0.976" stop-color="#dc0000"/><stop offset="1.000" stop-color="#c50000"/></linearGradient></defs>
<rect x="476.8" y="53.50" width="170.1" height="11.05" fill="url(#hr0)"/>
<text x="649.3" y="61.43" font-size="6.9" font-style="italic">Sell</text>
<rect x="476.8" y="63.95" width="170.1" height="11.05" fill="url(#hr1)"/>
<text x="649.3" y="71.88" font-size="6.9" font-style="italic">Ccr7</text>
<rect x="476.8" y="74.40" width="170.1" height="11.05" fill="url(#hr2)"/>
<text x="649.3" y="82.33" font-size="6.9" font-style="italic">Lef1</text>
<rect x="476.8" y="84.85" width="170.1" height="11.05" fill="url(#hr3)"/>
<text x="649.3" y="92.77" font-size="6.9" font-style="italic">Hspa1a</text>
<rect x="476.8" y="95.30" width="170.1" height="11.05" fill="url(#hr4)"/>
<text x="649.3" y="103.22" font-size="6.9" font-style="italic">Hspa1b</text>
<rect x="476.8" y="105.75" width="170.1" height="11.05" fill="url(#hr5)"/>
<text x="649.3" y="113.67" font-size="6.9" font-style="italic">Gpr183</text>
<rect x="476.8" y="116.20" width="170.1" height="11.05" fill="url(#hr6)"/>
<text x="649.3" y="124.12" font-size="6.9" font-style="italic">Nkg7</text>
<rect x="476.8" y="126.65" width="170.1" height="11.05" fill="url(#hr7)"/>
<text x="649.3" y="134.57" font-size="6.9" font-style="italic">Gzma</text>
<rect x="476.8" y="137.10" width="170.1" height="11.05" fill="url(#hr8)"/>
<text x="649.3" y="145.02" font-size="6.9" font-style="italic">Gzmb</text>
<rect x="476.8" y="147.55" width="170.1" height="11.05" fill="url(#hr9)"/>
<text x="649.3" y="155.47" font-size="6.9" font-style="italic">Ifng</text>
<rect x="476.8" y="158.00" width="170.1" height="11.05" fill="url(#hr10)"/>
<text x="649.3" y="165.92" font-size="6.9" font-style="italic">Ccl3</text>
<rect x="476.8" y="168.45" width="170.1" height="11.05" fill="url(#hr11)"/>
<text x="649.3" y="176.37" font-size="6.9" font-style="italic">Ccl4</text>
<rect x="476.8" y="178.90" width="170.1" height="11.05" fill="url(#hr12)"/>
<text x="649.3" y="186.82" font-size="6.9" font-style="italic">Ccl5</text>
<rect x="476.8" y="189.35" width="170.1" height="11.05" fill="url(#hr13)"/>
<text x="649.3" y="197.27" font-size="6.9" font-style="italic">Cst7</text>
<rect x="476.8" y="199.80" width="170.1" height="10.45" fill="url(#hr14)"/>
<text x="649.3" y="207.72" font-size="6.9" font-style="italic">Prf1</text>
<defs><linearGradient id="jet" x1="0" y1="0" x2="0" y2="1"><stop offset="0.000" stop-color="#8b0000"/><stop offset="0.100" stop-color="#ff0000"/><stop offset="0.183" stop-color="#ff5a00"/><stop offset="0.333" stop-color="#ffff00"/><stop offset="0.500" stop-color="#7fff8a"/><stop offset="0.683" stop-color="#00ffff"/><stop offset="0.900" stop-color="#0000ff"/><stop offset="1.000" stop-color="#00007f"/></linearGradient></defs>
<rect x="451.9" y="68" width="7.5" height="110.6" fill="url(#jet)"/>
<text x="448.5" y="72.2" font-size="7.6" text-anchor="end">3</text>
<text x="448.5" y="90.2" font-size="7.6" text-anchor="end">2</text>
<text x="448.5" y="107.8" font-size="7.6" text-anchor="end">1</text>
<text x="448.5" y="125.7" font-size="7.6" text-anchor="end">0</text>
<text x="448.5" y="143.4" font-size="7.6" text-anchor="end">−1</text>
<text x="448.5" y="161.3" font-size="7.6" text-anchor="end">−2</text>
<text x="448.5" y="178.9" font-size="7.6" text-anchor="end">−3</text>
<line x1="476.3" y1="219.2" x2="644" y2="219.2" stroke="#000" stroke-width="1"/><path d="M648.5 219.2l-5.5 -2.2v4.4z" fill="#000"/>
<text x="476" y="230.6" font-size="9.3">Naive</text>
<text x="644.5" y="230.6" font-size="9.3" text-anchor="end">Activated</text>
<text x="0" y="271.8" class="pl">D</text>
<ellipse cx="52.3" cy="309.2" rx="1.6" ry="1.9" fill="#e8c9c4" stroke="#bdb3ad" stroke-width="0.4"/>
<ellipse cx="57.1" cy="309.2" rx="1.6" ry="1.9" fill="#e8c9c4" stroke="#bdb3ad" stroke-width="0.4"/>
<line x1="49.5" y1="317.7" x2="43.7" y2="314.5" stroke="#e9a79f" stroke-width="1.4" stroke-linecap="round"/>
<line x1="60.0" y1="317.7" x2="66.3" y2="314.5" stroke="#e9a79f" stroke-width="1.4" stroke-linecap="round"/>
<line x1="48.1" y1="337.4" x2="43.4" y2="343.1" stroke="#e9a79f" stroke-width="1.4" stroke-linecap="round"/>
<line x1="61.3" y1="338.4" x2="66.3" y2="343.1" stroke="#e9a79f" stroke-width="1.4" stroke-linecap="round"/>
<circle cx="43.1" cy="313.9" r="1.2" fill="#e9a79f"/>
<circle cx="66.5" cy="313.9" r="1.2" fill="#e9a79f"/>
<circle cx="42.9" cy="343.1" r="1.2" fill="#e9a79f"/>
<circle cx="66.8" cy="343.1" r="1.2" fill="#e9a79f"/>
<path d="M53.13 308.15C53.66 307.40 54.18 306.57 54.71 306.57C55.23 306.57 55.67 307.31 56.28 308.15C56.90 308.98 57.77 310.47 58.39 311.56C59.00 312.66 59.48 313.58 59.96 314.72C60.45 315.85 60.88 317.01 61.28 318.39C61.67 319.77 62.02 321.35 62.33 322.99C62.64 324.64 62.99 326.50 63.12 328.25C63.25 330.00 63.29 331.97 63.12 333.50C62.94 335.04 62.59 336.35 62.07 337.45C61.54 338.54 60.97 339.44 59.96 340.07C58.96 340.71 57.38 341.19 56.02 341.26C54.66 341.32 53.00 340.99 51.82 340.47C50.64 339.94 49.72 339.15 48.93 338.10C48.14 337.05 47.44 335.58 47.09 334.16C46.74 332.74 46.74 331.20 46.82 329.56C46.91 327.92 47.31 326.06 47.61 324.31C47.92 322.56 48.27 320.69 48.66 319.05C49.06 317.41 49.50 315.79 49.98 314.45C50.46 313.12 51.03 312.09 51.55 311.04C52.08 309.99 52.61 308.89 53.13 308.15Z" fill="#e6e1dc" stroke="#b8ada6" stroke-width="0.55"/>
<path d="M51.4 326.3Q55.0 329.3 58.6 326.3" stroke="#cfc6bf" stroke-width="0.5" fill="none"/>
<path d="M54.7 341.0Q53.4 352.6 56.7 365.0" stroke="#e5a49c" stroke-width="0.8" fill="none"/>
<line x1="66.9" y1="318.1" x2="60.8" y2="325.8" stroke="#aebfd0" stroke-width="2"/>
<line x1="64.6" y1="321.0" x2="61.0" y2="325.4" stroke="#3d8fd0" stroke-width="1.3"/>
<circle cx="56.0" cy="316.4" r="5.2" fill="#fff" stroke="#d8d8d8" stroke-width="0.4"/>
<circle cx="54.0" cy="314.4" r="0.45" fill="#2a9ad8"/>
<circle cx="56.5" cy="313.6" r="0.45" fill="#2a9ad8"/>
<circle cx="58.5" cy="315.4" r="0.45" fill="#2a9ad8"/>
<circle cx="55.0" cy="316.7" r="0.45" fill="#2a9ad8"/>
<circle cx="57.5" cy="317.9" r="0.45" fill="#2a9ad8"/>
<circle cx="53.2" cy="317.6" r="0.45" fill="#2a9ad8"/>
<circle cx="56.0" cy="319.2" r="0.45" fill="#2a9ad8"/>
<circle cx="58.8" cy="318.4" r="0.45" fill="#2a9ad8"/>
<line x1="65.2" y1="330.9" x2="85.3" y2="330.9" stroke="#333" stroke-width="0.90"/><path d="M88.5 330.9L85.3 332.3L85.3 329.5Z" fill="#333"/>
<ellipse cx="104" cy="341" rx="4" ry="2.5" fill="#f6c6c6"/>
<circle cx="102.2" cy="331.3" r="11.4" fill="#f09595" stroke="#e8805f" stroke-width="0.9"/>
<circle cx="97.7" cy="327.8" r="3.5" fill="#ee9a9e" stroke="#f7b9b9" stroke-width="0.6"/><circle cx="97.7" cy="327.8" r="1.9" fill="#d86e7a"/>
<circle cx="107.7" cy="328.1" r="3.5" fill="#ee9a9e" stroke="#f7b9b9" stroke-width="0.6"/><circle cx="107.7" cy="328.1" r="1.9" fill="#d86e7a"/>
<circle cx="105.2" cy="335.8" r="3.5" fill="#ee9a9e" stroke="#f7b9b9" stroke-width="0.6"/><circle cx="105.2" cy="335.8" r="1.9" fill="#d86e7a"/>
<circle cx="96.4" cy="336.1" r="3.5" fill="#ee9a9e" stroke="#f7b9b9" stroke-width="0.6"/><circle cx="96.4" cy="336.1" r="1.9" fill="#d86e7a"/>
<circle cx="102.7" cy="323.0" r="3.5" fill="#ee9a9e" stroke="#f7b9b9" stroke-width="0.6"/><circle cx="102.7" cy="323.0" r="1.9" fill="#d86e7a"/>
<circle cx="93.2" cy="331.3" r="3.5" fill="#ee9a9e" stroke="#f7b9b9" stroke-width="0.6"/><circle cx="93.2" cy="331.3" r="1.9" fill="#d86e7a"/>
<circle cx="111.6" cy="332.8" r="3.5" fill="#ee9a9e" stroke="#f7b9b9" stroke-width="0.6"/><circle cx="111.6" cy="332.8" r="1.9" fill="#d86e7a"/>
<circle cx="102.2" cy="331.3" r="11.4" fill="none" stroke="#e8805f" stroke-width="0.9"/>
<line x1="111.2" y1="319.0" x2="120.3" y2="312.1" stroke="#222" stroke-width="0.90"/><path d="M122.8 310.2L121.1 313.3L119.4 311.0Z" fill="#222"/>
<line x1="111.2" y1="341.4" x2="120.3" y2="348.6" stroke="#222" stroke-width="0.90"/><path d="M122.8 350.6L119.4 349.7L121.2 347.5Z" fill="#222"/>
<path d="M133.8 292.0Q135.7 296.9 137.8 298.5Q139.3 300.1 143.4 300.4Q139.3 302.5 137.8 305.1Q134.8 305.8 131.2 309.2Q132.7 305.5 132.3 304.2Q131.0 303.6 126.8 304.1Q131.0 301.9 132.1 299.7Q133.6 297.3 133.8 292.0Z" fill="#deaa3a" stroke="#b98a2a" stroke-width="0.5"/><circle cx="135.5" cy="301.8" r="1.3" fill="#b06c28"/>
<path d="M144.3 294.4Q147.5 296.7 149.6 296.5Q151.7 296.7 155.4 294.5Q153.2 298.2 153.4 300.3Q152.3 301.6 153.2 303.7Q151.3 303.1 150.8 304.3Q149.3 305.2 147.8 309.4Q147.4 304.2 145.5 301.5Q146.0 298.6 144.3 294.4Z" fill="#deaa3a" stroke="#b98a2a" stroke-width="0.5"/><circle cx="149.4" cy="300.5" r="1.3" fill="#b06c28"/>
<path d="M143.2 303.6Q145.8 306.8 148.4 307.5Q150.1 310.0 154.7 312.2Q150.5 311.8 149.5 312.1Q149.3 312.7 151.5 314.6Q147.9 313.6 145.6 314.6Q142.5 314.0 137.1 315.6Q141.1 312.0 142.0 309.2Q143.4 307.4 143.2 303.6Z" fill="#deaa3a" stroke="#b98a2a" stroke-width="0.5"/><circle cx="145.8" cy="310.6" r="1.3" fill="#b06c28"/>
<text x="145" y="326.6" font-size="7.8" text-anchor="middle">apCAFs</text>
<path d="M121.5 356.5Q136.5 352.5 147.5 341.5Q132.5 345.5 121.5 356.5Z" fill="#e3e1f5" stroke="#aaa6da" stroke-width="0.5"/><ellipse cx="134.5" cy="349.0" rx="2.2" ry="1.1" transform="rotate(-30.0 134.5 349.0)" fill="#c9c6ea"/>
<path d="M125.0 350.5Q138.4 350.5 150.0 344.0Q136.6 344.0 125.0 350.5Z" fill="#e3e1f5" stroke="#aaa6da" stroke-width="0.5"/><ellipse cx="137.5" cy="347.2" rx="2.2" ry="1.1" transform="rotate(-14.6 137.5 347.2)" fill="#c9c6ea"/>
<path d="M139.5 359.5Q150.2 351.7 154.0 339.0Q143.3 346.8 139.5 359.5Z" fill="#e3e1f5" stroke="#aaa6da" stroke-width="0.5"/><ellipse cx="146.8" cy="349.2" rx="2.2" ry="1.1" transform="rotate(-54.7 146.8 349.2)" fill="#c9c6ea"/>
<text x="144" y="371.2" font-size="8.4" text-anchor="middle">MHC II<tspan font-size="5.2" dy="-3.3">-</tspan><tspan dy="3.3">  CAFs</tspan></text>
<line x1="157.1" y1="305.3" x2="168.6" y2="305.3" stroke="#222" stroke-width="0.90"/><path d="M171.8 305.3L168.6 306.7L168.6 303.9Z" fill="#222"/>
<line x1="157.1" y1="349.7" x2="168.6" y2="349.7" stroke="#222" stroke-width="0.90"/><path d="M171.8 349.7L168.6 351.1L168.6 348.3Z" fill="#222"/>
<rect x="173.5" y="295.2" width="86.8" height="64" rx="2" fill="#e1ecf1" stroke="#b7cbd6" stroke-width="0.7"/>
<path d="M174 300L178.5 295.5M174 354.5L178.5 358.8" stroke="#b7cbd6" stroke-width="0.6"/>
<circle cx="185.00" cy="305.60" r="2.6" fill="#c8e4f4" stroke="#86b1ca" stroke-width="0.5"/>
<circle cx="191.22" cy="305.60" r="2.6" fill="#c8e4f4" stroke="#86b1ca" stroke-width="0.5"/>
<circle cx="197.44" cy="305.60" r="2.6" fill="#c8e4f4" stroke="#86b1ca" stroke-width="0.5"/>
<circle cx="203.66" cy="305.60" r="2.6" fill="#c8e4f4" stroke="#86b1ca" stroke-width="0.5"/>
<circle cx="209.88" cy="305.60" r="2.6" fill="#c8e4f4" stroke="#86b1ca" stroke-width="0.5"/>
<circle cx="216.10" cy="305.60" r="2.6" fill="#c8e4f4" stroke="#86b1ca" stroke-width="0.5"/>
<circle cx="222.32" cy="305.60" r="2.6" fill="#c8e4f4" stroke="#86b1ca" stroke-width="0.5"/>
<circle cx="228.54" cy="305.60" r="2.6" fill="#c8e4f4" stroke="#86b1ca" stroke-width="0.5"/>
<circle cx="234.76" cy="305.60" r="2.6" fill="#c8e4f4" stroke="#86b1ca" stroke-width="0.5"/>
<circle cx="240.98" cy="305.60" r="2.6" fill="#c8e4f4" stroke="#86b1ca" stroke-width="0.5"/>
<circle cx="247.20" cy="305.60" r="2.6" fill="#c8e4f4" stroke="#86b1ca" stroke-width="0.5"/>
<circle cx="253.42" cy="305.60" r="2.6" fill="#c8e4f4" stroke="#86b1ca" stroke-width="0.5"/>
<circle cx="185.00" cy="311.96" r="2.6" fill="#c8e4f4" stroke="#86b1ca" stroke-width="0.5"/>
<circle cx="191.22" cy="311.96" r="2.6" fill="#c8e4f4" stroke="#86b1ca" stroke-width="0.5"/>
<circle cx="197.44" cy="311.96" r="2.6" fill="#c8e4f4" stroke="#86b1ca" stroke-width="0.5"/>
<circle cx="203.66" cy="311.96" r="2.6" fill="#c8e4f4" stroke="#86b1ca" stroke-width="0.5"/>
<circle cx="209.88" cy="311.96" r="2.6" fill="#c8e4f4" stroke="#86b1ca" stroke-width="0.5"/>
<circle cx="216.10" cy="311.96" r="2.6" fill="#c8e4f4" stroke="#86b1ca" stroke-width="0.5"/>
<circle cx="222.32" cy="311.96" r="2.6" fill="#c8e4f4" stroke="#86b1ca" stroke-width="0.5"/>
<circle cx="228.54" cy="311.96" r="2.6" fill="#c8e4f4" stroke="#86b1ca" stroke-width="0.5"/>
<circle cx="234.76" cy="311.96" r="2.6" fill="#c8e4f4" stroke="#86b1ca" stroke-width="0.5"/>
<circle cx="240.98" cy="311.96" r="2.6" fill="#c8e4f4" stroke="#86b1ca" stroke-width="0.5"/>
<circle cx="247.20" cy="311.96" r="2.6" fill="#c8e4f4" stroke="#86b1ca" stroke-width="0.5"/>
<circle cx="253.42" cy="311.96" r="2.6" fill="#c8e4f4" stroke="#86b1ca" stroke-width="0.5"/>
<circle cx="185.00" cy="318.32" r="2.6" fill="#c8e4f4" stroke="#86b1ca" stroke-width="0.5"/>
<circle cx="191.22" cy="318.32" r="2.6" fill="#c8e4f4" stroke="#86b1ca" stroke-width="0.5"/>
<circle cx="197.44" cy="318.32" r="2.6" fill="#c8e4f4" stroke="#86b1ca" stroke-width="0.5"/>
<circle cx="203.66" cy="318.32" r="2.6" fill="#c8e4f4" stroke="#86b1ca" stroke-width="0.5"/>
<circle cx="209.88" cy="318.32" r="2.6" fill="#c8e4f4" stroke="#86b1ca" stroke-width="0.5"/>
<circle cx="216.10" cy="318.32" r="2.6" fill="#c8e4f4" stroke="#86b1ca" stroke-width="0.5"/>
<circle cx="222.32" cy="318.32" r="2.6" fill="#c8e4f4" stroke="#86b1ca" stroke-width="0.5"/>
<circle cx="228.54" cy="318.32" r="2.6" fill="#c8e4f4" stroke="#86b1ca" stroke-width="0.5"/>
<circle cx="234.76" cy="318.32" r="2.6" fill="#c8e4f4" stroke="#86b1ca" stroke-width="0.5"/>
<circle cx="240.98" cy="318.32" r="2.6" fill="#c8e4f4" stroke="#86b1ca" stroke-width="0.5"/>
<circle cx="247.20" cy="318.32" r="2.6" fill="#c8e4f4" stroke="#86b1ca" stroke-width="0.5"/>
<circle cx="253.42" cy="318.32" r="2.6" fill="#c8e4f4" stroke="#86b1ca" stroke-width="0.5"/>
<circle cx="185.00" cy="324.68" r="2.6" fill="#c8e4f4" stroke="#86b1ca" stroke-width="0.5"/>
<circle cx="191.22" cy="324.68" r="2.6" fill="#c8e4f4" stroke="#86b1ca" stroke-width="0.5"/>
<circle cx="197.44" cy="324.68" r="2.6" fill="#c8e4f4" stroke="#86b1ca" stroke-width="0.5"/>
<circle cx="203.66" cy="324.68" r="2.6" fill="#c8e4f4" stroke="#86b1ca" stroke-width="0.5"/>
<circle cx="209.88" cy="324.68" r="2.6" fill="#c8e4f4" stroke="#86b1ca" stroke-width="0.5"/>
<circle cx="216.10" cy="324.68" r="2.6" fill="#c8e4f4" stroke="#86b1ca" stroke-width="0.5"/>
<circle cx="222.32" cy="324.68" r="2.6" fill="#c8e4f4" stroke="#86b1ca" stroke-width="0.5"/>
<circle cx="228.54" cy="324.68" r="2.6" fill="#c8e4f4" stroke="#86b1ca" stroke-width="0.5"/>
<circle cx="234.76" cy="324.68" r="2.6" fill="#c8e4f4" stroke="#86b1ca" stroke-width="0.5"/>
<circle cx="240.98" cy="324.68" r="2.6" fill="#c8e4f4" stroke="#86b1ca" stroke-width="0.5"/>
<circle cx="247.20" cy="324.68" r="2.6" fill="#c8e4f4" stroke="#86b1ca" stroke-width="0.5"/>
<circle cx="253.42" cy="324.68" r="2.6" fill="#c8e4f4" stroke="#86b1ca" stroke-width="0.5"/>
<circle cx="185.00" cy="331.04" r="2.6" fill="#c8e4f4" stroke="#86b1ca" stroke-width="0.5"/>
<circle cx="191.22" cy="331.04" r="2.6" fill="#c8e4f4" stroke="#86b1ca" stroke-width="0.5"/>
<circle cx="197.44" cy="331.04" r="2.6" fill="#c8e4f4" stroke="#86b1ca" stroke-width="0.5"/>
<circle cx="203.66" cy="331.04" r="2.6" fill="#c8e4f4" stroke="#86b1ca" stroke-width="0.5"/>
<circle cx="209.88" cy="331.04" r="2.6" fill="#c8e4f4" stroke="#86b1ca" stroke-width="0.5"/>
<circle cx="216.10" cy="331.04" r="2.6" fill="#c8e4f4" stroke="#86b1ca" stroke-width="0.5"/>
<circle cx="222.32" cy="331.04" r="2.6" fill="#c8e4f4" stroke="#86b1ca" stroke-width="0.5"/>
<circle cx="228.54" cy="331.04" r="2.6" fill="#c8e4f4" stroke="#86b1ca" stroke-width="0.5"/>
<circle cx="234.76" cy="331.04" r="2.6" fill="#c8e4f4" stroke="#86b1ca" stroke-width="0.5"/>
<circle cx="240.98" cy="331.04" r="2.6" fill="#c8e4f4" stroke="#86b1ca" stroke-width="0.5"/>
<circle cx="247.20" cy="331.04" r="2.6" fill="#c8e4f4" stroke="#86b1ca" stroke-width="0.5"/>
<circle cx="253.42" cy="331.04" r="2.6" fill="#c8e4f4" stroke="#86b1ca" stroke-width="0.5"/>
<circle cx="185.00" cy="337.40" r="2.6" fill="#c8e4f4" stroke="#86b1ca" stroke-width="0.5"/>
<circle cx="191.22" cy="337.40" r="2.6" fill="#c8e4f4" stroke="#86b1ca" stroke-width="0.5"/>
<circle cx="197.44" cy="337.40" r="2.6" fill="#c8e4f4" stroke="#86b1ca" stroke-width="0.5"/>
<circle cx="203.66" cy="337.40" r="2.6" fill="#c8e4f4" stroke="#86b1ca" stroke-width="0.5"/>
<circle cx="209.88" cy="337.40" r="2.6" fill="#c8e4f4" stroke="#86b1ca" stroke-width="0.5"/>
<circle cx="216.10" cy="337.40" r="2.6" fill="#c8e4f4" stroke="#86b1ca" stroke-width="0.5"/>
<circle cx="222.32" cy="337.40" r="2.6" fill="#c8e4f4" stroke="#86b1ca" stroke-width="0.5"/>
<circle cx="228.54" cy="337.40" r="2.6" fill="#c8e4f4" stroke="#86b1ca" stroke-width="0.5"/>
<circle cx="234.76" cy="337.40" r="2.6" fill="#c8e4f4" stroke="#86b1ca" stroke-width="0.5"/>
<circle cx="240.98" cy="337.40" r="2.6" fill="#c8e4f4" stroke="#86b1ca" stroke-width="0.5"/>
<circle cx="247.20" cy="337.40" r="2.6" fill="#c8e4f4" stroke="#86b1ca" stroke-width="0.5"/>
<circle cx="253.42" cy="337.40" r="2.6" fill="#c8e4f4" stroke="#86b1ca" stroke-width="0.5"/>
<circle cx="185.00" cy="343.76" r="2.6" fill="#c8e4f4" stroke="#86b1ca" stroke-width="0.5"/>
<circle cx="191.22" cy="343.76" r="2.6" fill="#c8e4f4" stroke="#86b1ca" stroke-width="0.5"/>
<circle cx="197.44" cy="343.76" r="2.6" fill="#c8e4f4" stroke="#86b1ca" stroke-width="0.5"/>
<circle cx="203.66" cy="343.76" r="2.6" fill="#c8e4f4" stroke="#86b1ca" stroke-width="0.5"/>
<circle cx="209.88" cy="343.76" r="2.6" fill="#c8e4f4" stroke="#86b1ca" stroke-width="0.5"/>
<circle cx="216.10" cy="343.76" r="2.6" fill="#c8e4f4" stroke="#86b1ca" stroke-width="0.5"/>
<circle cx="222.32" cy="343.76" r="2.6" fill="#c8e4f4" stroke="#86b1ca" stroke-width="0.5"/>
<circle cx="228.54" cy="343.76" r="2.6" fill="#c8e4f4" stroke="#86b1ca" stroke-width="0.5"/>
<circle cx="234.76" cy="343.76" r="2.6" fill="#c8e4f4" stroke="#86b1ca" stroke-width="0.5"/>
<circle cx="240.98" cy="343.76" r="2.6" fill="#c8e4f4" stroke="#86b1ca" stroke-width="0.5"/>
<circle cx="247.20" cy="343.76" r="2.6" fill="#c8e4f4" stroke="#86b1ca" stroke-width="0.5"/>
<circle cx="253.42" cy="343.76" r="2.6" fill="#c8e4f4" stroke="#86b1ca" stroke-width="0.5"/>
<circle cx="185.00" cy="350.12" r="2.6" fill="#c8e4f4" stroke="#86b1ca" stroke-width="0.5"/>
<circle cx="191.22" cy="350.12" r="2.6" fill="#c8e4f4" stroke="#86b1ca" stroke-width="0.5"/>
<circle cx="197.44" cy="350.12" r="2.6" fill="#c8e4f4" stroke="#86b1ca" stroke-width="0.5"/>
<circle cx="203.66" cy="350.12" r="2.6" fill="#c8e4f4" stroke="#86b1ca" stroke-width="0.5"/>
<circle cx="209.88" cy="350.12" r="2.6" fill="#c8e4f4" stroke="#86b1ca" stroke-width="0.5"/>
<circle cx="216.10" cy="350.12" r="2.6" fill="#c8e4f4" stroke="#86b1ca" stroke-width="0.5"/>
<circle cx="222.32" cy="350.12" r="2.6" fill="#c8e4f4" stroke="#86b1ca" stroke-width="0.5"/>
<circle cx="228.54" cy="350.12" r="2.6" fill="#c8e4f4" stroke="#86b1ca" stroke-width="0.5"/>
<circle cx="234.76" cy="350.12" r="2.6" fill="#c8e4f4" stroke="#86b1ca" stroke-width="0.5"/>
<circle cx="240.98" cy="350.12" r="2.6" fill="#c8e4f4" stroke="#86b1ca" stroke-width="0.5"/>
<circle cx="247.20" cy="350.12" r="2.6" fill="#c8e4f4" stroke="#86b1ca" stroke-width="0.5"/>
<circle cx="253.42" cy="350.12" r="2.6" fill="#c8e4f4" stroke="#86b1ca" stroke-width="0.5"/>
<circle cx="218.2" cy="253.7" r="4.2" fill="#eebd9f" stroke="#e4ab8b" stroke-width="0.4"/><circle cx="218.2" cy="253.7" r="2.4" fill="#f5d0bb"/>
<circle cx="228.0" cy="256.1" r="4.2" fill="#eebd9f" stroke="#e4ab8b" stroke-width="0.4"/><circle cx="228.0" cy="256.1" r="2.4" fill="#f5d0bb"/>
<circle cx="209.0" cy="260.6" r="4.2" fill="#eebd9f" stroke="#e4ab8b" stroke-width="0.4"/><circle cx="209.0" cy="260.6" r="2.4" fill="#f5d0bb"/>
<circle cx="218.9" cy="262.7" r="4.2" fill="#eebd9f" stroke="#e4ab8b" stroke-width="0.4"/><circle cx="218.9" cy="262.7" r="2.4" fill="#f5d0bb"/>
<circle cx="228.0" cy="266.3" r="4.2" fill="#eebd9f" stroke="#e4ab8b" stroke-width="0.4"/><circle cx="228.0" cy="266.3" r="2.4" fill="#f5d0bb"/>
<circle cx="210.7" cy="270.0" r="4.2" fill="#eebd9f" stroke="#e4ab8b" stroke-width="0.4"/><circle cx="210.7" cy="270.0" r="2.4" fill="#f5d0bb"/>
<circle cx="219.3" cy="272.9" r="4.2" fill="#eebd9f" stroke="#e4ab8b" stroke-width="0.4"/><circle cx="219.3" cy="272.9" r="2.4" fill="#f5d0bb"/>
<text x="201.9" y="266.2" font-size="8.2" text-anchor="end">OT II CD4<tspan font-size="5" dy="-3.2">+</tspan><tspan dy="3.2"> T Cells</tspan></text>
<line x1="219.8" y1="280.5" x2="219.8" y2="290.0" stroke="#222" stroke-width="0.90"/><path d="M219.8 293.2L218.4 290.0L221.2 290.0Z" fill="#222"/>
<text x="221.5" y="371.4" font-size="8.1" text-anchor="middle">+ OVA peptide</text>
<text x="347.5" y="255.3" class="pl">E</text>
<path d="M410.6 249.8V372.1M410.6 371.6H601.5" stroke="#000" stroke-width="1" fill="none"/>
<line x1="405.5" x2="410.6" y1="371.6" y2="371.6" stroke="#000" stroke-width="1"/>
<text x="401.8" y="374.5" font-size="8.2" text-anchor="end">0.0</text>
<line x1="405.5" x2="410.6" y1="347.3" y2="347.3" stroke="#000" stroke-width="1"/>
<text x="401.8" y="350.2" font-size="8.2" text-anchor="end">0.5</text>
<line x1="405.5" x2="410.6" y1="323.0" y2="323.0" stroke="#000" stroke-width="1"/>
<text x="401.8" y="325.9" font-size="8.2" text-anchor="end">1.0</text>
<line x1="405.5" x2="410.6" y1="298.7" y2="298.7" stroke="#000" stroke-width="1"/>
<text x="401.8" y="301.6" font-size="8.2" text-anchor="end">1.5</text>
<line x1="405.5" x2="410.6" y1="274.4" y2="274.4" stroke="#000" stroke-width="1"/>
<text x="401.8" y="277.3" font-size="8.2" text-anchor="end">2.0</text>
<line x1="405.5" x2="410.6" y1="250.1" y2="250.1" stroke="#000" stroke-width="1"/>
<text x="401.8" y="253.0" font-size="8.2" text-anchor="end">2.5</text>
<text transform="translate(381.8,311) rotate(-90)" font-size="9" text-anchor="middle">MFI (Fold Change)</text>
<path d="M417.7 371.6V323.5H427.5V371.6" fill="#fff" stroke="#000" stroke-width="1.2"/>
<circle cx="422.3" cy="319.7" r="2.5" fill="#0c0c86" stroke="#000" stroke-width="0.8"/>
<circle cx="418.8" cy="325.0" r="2.5" fill="#0c0c86" stroke="#000" stroke-width="0.8"/>
<circle cx="425.8" cy="324.1" r="2.5" fill="#0c0c86" stroke="#000" stroke-width="0.8"/>
<path d="M435.4 371.6V284.1H445.2V371.6" fill="#fff" stroke="#000" stroke-width="1.2"/>
<path d="M440.3 284.1V279.0M437.7 279.0H442.9" stroke="#000" stroke-width="0.9"/>
<rect x="437.8" y="273.1" width="4.8" height="4.8" fill="#6c0ab0"/>
<rect x="434.7" y="285.8" width="4.8" height="4.8" fill="#6c0ab0"/>
<rect x="440.9" y="284.1" width="4.8" height="4.8" fill="#6c0ab0"/>
<path d="M453.2 371.6V353.1H463.0V371.6" fill="#fff" stroke="#000" stroke-width="1.2"/>
<circle cx="458.1" cy="349.5" r="2.5" fill="#c13fa6"/>
<circle cx="453.7" cy="353.2" r="2.5" fill="#c13fa6"/>
<circle cx="461.4" cy="353.2" r="2.5" fill="#c13fa6"/>
<line x1="440.1" x2="440.1" y1="371.6" y2="374.8" stroke="#000" stroke-width="1"/>
<text x="440.1" y="386.8" font-size="9" text-anchor="middle">CD69</text>
<path d="M482.9 371.6V323.0H492.9V371.6" fill="#fff" stroke="#000" stroke-width="1.2"/>
<circle cx="483.6" cy="323.6" r="2.5" fill="#0c0c86" stroke="#000" stroke-width="0.8"/>
<circle cx="487.4" cy="321.5" r="2.5" fill="#0c0c86" stroke="#000" stroke-width="0.8"/>
<circle cx="491.7" cy="322.8" r="2.5" fill="#0c0c86" stroke="#000" stroke-width="0.8"/>
<path d="M501.1 371.6V306.0H510.9V371.6" fill="#fff" stroke="#000" stroke-width="1.2"/>
<rect x="499.2" y="303.3" width="4.8" height="4.8" fill="#6c0ab0"/>
<rect x="502.9" y="302.2" width="4.8" height="4.8" fill="#6c0ab0"/>
<rect x="506.9" y="303.7" width="4.8" height="4.8" fill="#6c0ab0"/>
<path d="M519.1 371.6V343.9H528.4V371.6" fill="#fff" stroke="#000" stroke-width="1.2"/>
<circle cx="519.1" cy="344.0" r="2.5" fill="#c13fa6"/>
<circle cx="523.5" cy="343.6" r="2.5" fill="#c13fa6"/>
<circle cx="527.2" cy="344.0" r="2.5" fill="#c13fa6"/>
<line x1="505.5" x2="505.5" y1="371.6" y2="374.8" stroke="#000" stroke-width="1"/>
<text x="505.5" y="386.8" font-size="9" text-anchor="middle">GZMB</text>
<path d="M548.8 371.6V324.0H557.9V371.6" fill="#fff" stroke="#000" stroke-width="1.2"/>
<path d="M553.4 324.0V316.5M550.8 316.5H556.0" stroke="#000" stroke-width="0.9"/>
<circle cx="553.1" cy="314.9" r="2.5" fill="#0c0c86" stroke="#000" stroke-width="0.8"/>
<circle cx="549.8" cy="329.8" r="2.5" fill="#0c0c86" stroke="#000" stroke-width="0.8"/>
<circle cx="557.0" cy="324.3" r="2.5" fill="#0c0c86" stroke="#000" stroke-width="0.8"/>
<path d="M566.8 371.6V299.7H576.1V371.6" fill="#fff" stroke="#000" stroke-width="1.2"/>
<path d="M571.5 299.7V295.5M568.9 295.5H574.1" stroke="#000" stroke-width="0.9"/>
<rect x="568.2" y="290.2" width="4.8" height="4.8" fill="#6c0ab0"/>
<rect x="568.2" y="296.7" width="4.8" height="4.8" fill="#6c0ab0"/>
<rect x="568.2" y="302.2" width="4.8" height="4.8" fill="#6c0ab0"/>
<path d="M584.3 371.6V335.6H593.6V371.6" fill="#fff" stroke="#000" stroke-width="1.2"/>
<path d="M589.0 335.6V331.0M586.4 331.0H591.6" stroke="#000" stroke-width="0.9"/>
<circle cx="588.8" cy="327.1" r="2.5" fill="#c13fa6"/>
<circle cx="588.8" cy="336.3" r="2.5" fill="#c13fa6"/>
<circle cx="588.8" cy="341.8" r="2.5" fill="#c13fa6"/>
<line x1="571.0" x2="571.0" y1="371.6" y2="374.8" stroke="#000" stroke-width="1"/>
<text x="571.0" y="386.8" font-size="9" text-anchor="middle">IFN-γ</text>
<line x1="417.6" x2="437.3" y1="260.5" y2="260.5" stroke="#000" stroke-width="0.9"/>
<text x="427.5" y="256" font-size="6.6" text-anchor="middle">&lt; 0.001</text>
<line x1="442.1" x2="462.5" y1="260.5" y2="260.5" stroke="#000" stroke-width="0.9"/>
<text x="452.3" y="256" font-size="6.6" text-anchor="middle">&lt; 0.001</text>
<line x1="483.6" x2="503.4" y1="260.5" y2="260.5" stroke="#000" stroke-width="0.9"/>
<text x="493.5" y="256" font-size="6.6" text-anchor="middle">&lt; 0.001</text>
<line x1="508.6" x2="527.9" y1="260.5" y2="260.5" stroke="#000" stroke-width="0.9"/>
<text x="518.2" y="256" font-size="6.6" text-anchor="middle">&lt; 0.001</text>
<line x1="546.5" x2="566.2" y1="260.5" y2="260.5" stroke="#000" stroke-width="0.9"/>
<text x="556.4" y="256" font-size="6.6" text-anchor="middle">0.001</text>
<line x1="571.7" x2="591.0" y1="260.5" y2="260.5" stroke="#000" stroke-width="0.9"/>
<text x="581.4" y="256" font-size="6.6" text-anchor="middle">0.001</text>
<circle cx="614" cy="274" r="3" fill="#0c0c86" stroke="#000" stroke-width="0.9"/>
<rect x="611" y="288.5" width="6" height="6" fill="#6c0ab0"/>
<circle cx="614" cy="308.6" r="3" fill="#c13fa6"/>
<text x="623.5" y="277.3" font-size="9">Con</text>
<text x="623.5" y="294.8" font-size="9">apCAFs</text>
<text x="623.5" y="311.9" font-size="9">MHC II<tspan font-size="5.6" dy="-3.6">-</tspan><tspan dy="3.6"> CAFs</tspan></text>
<text x="2" y="400.8" class="pl">F</text>
<text x="108.3" y="401.3" font-size="10.2" text-anchor="middle">CD8_T cells</text>
<text x="113.3" y="415.7" font-size="8.4" text-anchor="middle"><tspan font-style="italic">P</tspan> &lt; 0.001</text>
<line x1="61.7" x2="152.9" y1="419.2" y2="419.2" stroke="#000" stroke-width="0.8"/>
<text x="129.7" y="429.7" font-size="8.4" text-anchor="middle"><tspan font-style="italic">P</tspan> &lt; 0.001</text>
<line x1="110.4" x2="147.9" y1="432.8" y2="432.8" stroke="#000" stroke-width="0.8"/>
<path d="M70.20 451.16C70.37 451.23 70.95 451.16 71.22 451.57C71.49 451.98 71.39 452.25 71.83 453.61C72.28 454.97 73.06 457.70 73.88 459.74C74.70 461.79 75.99 464.00 76.74 465.87C77.49 467.75 77.83 469.45 78.37 470.98C78.92 472.52 78.99 473.54 80.01 475.07C81.03 476.60 83.21 478.65 84.51 480.18C85.80 481.71 87.23 483.08 87.78 484.27C88.32 485.46 88.18 486.31 87.78 487.33C87.37 488.36 86.55 489.04 85.32 490.40C84.10 491.76 82.19 493.64 80.42 495.51C78.65 497.38 76.19 499.94 74.70 501.64C73.20 503.34 72.18 504.81 71.43 505.73C70.68 506.65 70.40 506.92 70.20 507.16C70.00 507.40 70.40 507.40 70.20 507.16C70.00 506.92 69.72 506.65 68.97 505.73C68.22 504.81 67.20 503.34 65.70 501.64C64.21 499.94 61.75 497.38 59.98 495.51C58.21 493.64 56.30 491.76 55.08 490.40C53.85 489.04 53.03 488.36 52.62 487.33C52.22 486.31 52.08 485.46 52.62 484.27C53.17 483.08 54.60 481.71 55.89 480.18C57.19 478.65 59.37 476.60 60.39 475.07C61.41 473.54 61.48 472.52 62.03 470.98C62.57 469.45 62.91 467.75 63.66 465.87C64.41 464.00 65.70 461.79 66.52 459.74C67.34 457.70 68.12 454.97 68.57 453.61C69.01 452.25 68.91 451.98 69.18 451.57C69.45 451.16 70.03 451.23 70.20 451.16C70.37 451.09 70.03 451.09 70.20 451.16Z" fill="#66c2a5" stroke="#333" stroke-width="0.75"/>
<path d="M110.50 457.09C110.67 457.19 111.18 457.09 111.52 457.70C111.86 458.31 111.96 459.23 112.54 460.77C113.12 462.30 114.04 464.68 115.00 466.90C115.95 469.11 116.97 471.84 118.27 474.05C119.56 476.26 121.26 478.31 122.76 480.18C124.26 482.05 126.30 483.93 127.26 485.29C128.21 486.65 128.62 487.33 128.48 488.36C128.35 489.38 127.67 490.06 126.44 491.42C125.21 492.78 123.03 494.66 121.13 496.53C119.22 498.40 116.56 500.96 115.00 502.66C113.43 504.37 112.48 505.80 111.73 506.75C110.98 507.70 110.70 508.11 110.50 508.38C110.30 508.66 110.70 508.66 110.50 508.38C110.30 508.11 110.02 507.70 109.27 506.75C108.52 505.80 107.57 504.37 106.00 502.66C104.44 500.96 101.78 498.40 99.87 496.53C97.97 494.66 95.79 492.78 94.56 491.42C93.33 490.06 92.65 489.38 92.52 488.36C92.38 487.33 92.79 486.65 93.74 485.29C94.70 483.93 96.74 482.05 98.24 480.18C99.74 478.31 101.44 476.26 102.73 474.05C104.03 471.84 105.05 469.11 106.00 466.90C106.96 464.68 107.88 462.30 108.46 460.77C109.04 459.23 109.14 458.31 109.48 457.70C109.82 457.09 110.33 457.19 110.50 457.09C110.67 456.98 110.33 456.98 110.50 457.09Z" fill="#8da0cb" stroke="#333" stroke-width="0.75"/>
<path d="M150.40 433.17C150.45 433.35 150.62 432.83 150.71 434.20C150.79 435.56 150.76 439.14 150.91 441.35C151.06 443.56 151.34 445.10 151.63 447.48C151.92 449.87 152.31 453.10 152.65 455.66C152.99 458.21 152.75 460.60 153.67 462.81C154.59 465.02 156.50 466.90 158.17 468.94C159.84 470.98 162.08 473.20 163.68 475.07C165.29 476.94 166.92 478.82 167.77 480.18C168.62 481.54 168.83 482.05 168.79 483.25C168.76 484.44 168.59 485.63 167.57 487.33C166.55 489.04 164.43 491.42 162.66 493.47C160.89 495.51 158.64 497.72 156.94 499.60C155.24 501.47 153.53 503.41 152.44 504.71C151.35 506.00 150.74 506.92 150.40 507.36C150.06 507.81 150.74 507.81 150.40 507.36C150.06 506.92 149.45 506.00 148.36 504.71C147.27 503.41 145.56 501.47 143.86 499.60C142.16 497.72 139.91 495.51 138.14 493.47C136.37 491.42 134.25 489.04 133.23 487.33C132.21 485.63 132.04 484.44 132.01 483.25C131.97 482.05 132.18 481.54 133.03 480.18C133.88 478.82 135.51 476.94 137.12 475.07C138.72 473.20 140.96 470.98 142.63 468.94C144.30 466.90 146.21 465.02 147.13 462.81C148.05 460.60 147.81 458.21 148.15 455.66C148.49 453.10 148.88 449.87 149.17 447.48C149.46 445.10 149.74 443.56 149.89 441.35C150.04 439.14 150.01 435.56 150.09 434.20C150.18 432.83 150.35 433.35 150.40 433.17C150.45 433.00 150.35 433.00 150.40 433.17Z" fill="#e78ac3" stroke="#333" stroke-width="0.75"/>
<path d="M45.9 429.7V511.3M45.4 511.3H175" stroke="#000" stroke-width="1" fill="none"/>
<line x1="43" x2="45.9" y1="445.4" y2="445.4" stroke="#000" stroke-width="0.9"/>
<text x="41.3" y="448.2" font-size="7.8" text-anchor="end">2</text>
<line x1="43" x2="45.9" y1="468.3" y2="468.3" stroke="#000" stroke-width="0.9"/>
<text x="41.3" y="471.1" font-size="7.8" text-anchor="end">1</text>
<line x1="43" x2="45.9" y1="491.4" y2="491.4" stroke="#000" stroke-width="0.9"/>
<text x="41.3" y="494.2" font-size="7.8" text-anchor="end">0</text>
<line x1="70.2" x2="70.2" y1="511.3" y2="514.2" stroke="#000" stroke-width="0.9"/>
<line x1="110.5" x2="110.5" y1="511.3" y2="514.2" stroke="#000" stroke-width="0.9"/>
<line x1="150.4" x2="150.4" y1="511.3" y2="514.2" stroke="#000" stroke-width="0.9"/>
<text x="69.3" y="526.9" font-size="8.2" text-anchor="middle">Con</text>
<text x="112.4" y="526.9" font-size="8.2" text-anchor="middle">MHC II<tspan font-size="5" dy="-3.2">-</tspan><tspan dy="3.2"> CAFs</tspan></text>
<text x="155.7" y="526.9" font-size="8.2" text-anchor="middle">apCAFs</text>
<text transform="translate(31.5,471.5) rotate(-90)" font-size="9" text-anchor="middle">Cytotoxicity activity</text>
<text x="209" y="403.6" class="pl">G</text>
<text x="300.7" y="407.7" font-size="8.9" text-anchor="middle">Non-stimulation</text>
<line x1="374.6" x2="424.3" y1="405.3" y2="405.3" stroke="#222" stroke-width="0.7"/>
<line x1="535.3" x2="585.6" y1="405.3" y2="405.3" stroke="#222" stroke-width="0.7"/>
<text x="479.7" y="408.3" font-size="8.9" text-anchor="middle">CD3/CD28 stimulation</text>
<rect x="254.7" y="418.0" width="94.2" height="93.5" fill="none" stroke="#aaa" stroke-width="0.7"/>
<path d="M254.7 418.0V511.5H348.9" stroke="#222" stroke-width="0.8" fill="none"/>
<line x1="252.3" x2="254.7" y1="422.4" y2="422.4" stroke="#222" stroke-width="0.7"/>
<text x="252.1" y="424.6" font-size="6.4" text-anchor="end">100</text>
<line x1="252.3" x2="254.7" y1="440.0" y2="440.0" stroke="#222" stroke-width="0.7"/>
<text x="252.1" y="442.2" font-size="6.4" text-anchor="end">80</text>
<line x1="252.3" x2="254.7" y1="457.6" y2="457.6" stroke="#222" stroke-width="0.7"/>
<text x="252.1" y="459.8" font-size="6.4" text-anchor="end">60</text>
<line x1="252.3" x2="254.7" y1="475.2" y2="475.2" stroke="#222" stroke-width="0.7"/>
<text x="252.1" y="477.4" font-size="6.4" text-anchor="end">40</text>
<line x1="252.3" x2="254.7" y1="492.8" y2="492.8" stroke="#222" stroke-width="0.7"/>
<text x="252.1" y="495.0" font-size="6.4" text-anchor="end">20</text>
<line x1="252.3" x2="254.7" y1="510.4" y2="510.4" stroke="#222" stroke-width="0.7"/>
<text x="252.1" y="512.6" font-size="6.4" text-anchor="end">0</text>
<line x1="253.5" x2="254.7" y1="422.40" y2="422.40" stroke="#444" stroke-width="0.4"/>
<line x1="253.5" x2="254.7" y1="425.92" y2="425.92" stroke="#444" stroke-width="0.4"/>
<line x1="253.5" x2="254.7" y1="429.44" y2="429.44" stroke="#444" stroke-width="0.4"/>
<line x1="253.5" x2="254.7" y1="432.96" y2="432.96" stroke="#444" stroke-width="0.4"/>
<line x1="253.5" x2="254.7" y1="436.48" y2="436.48" stroke="#444" stroke-width="0.4"/>
<line x1="253.5" x2="254.7" y1="440.00" y2="440.00" stroke="#444" stroke-width="0.4"/>
<line x1="253.5" x2="254.7" y1="443.52" y2="443.52" stroke="#444" stroke-width="0.4"/>
<line x1="253.5" x2="254.7" y1="447.04" y2="447.04" stroke="#444" stroke-width="0.4"/>
<line x1="253.5" x2="254.7" y1="450.56" y2="450.56" stroke="#444" stroke-width="0.4"/>
<line x1="253.5" x2="254.7" y1="454.08" y2="454.08" stroke="#444" stroke-width="0.4"/>
<line x1="253.5" x2="254.7" y1="457.60" y2="457.60" stroke="#444" stroke-width="0.4"/>
<line x1="253.5" x2="254.7" y1="461.12" y2="461.12" stroke="#444" stroke-width="0.4"/>
<line x1="253.5" x2="254.7" y1="464.64" y2="464.64" stroke="#444" stroke-width="0.4"/>
<line x1="253.5" x2="254.7" y1="468.16" y2="468.16" stroke="#444" stroke-width="0.4"/>
<line x1="253.5" x2="254.7" y1="471.68" y2="471.68" stroke="#444" stroke-width="0.4"/>
<line x1="253.5" x2="254.7" y1="475.20" y2="475.20" stroke="#444" stroke-width="0.4"/>
<line x1="253.5" x2="254.7" y1="478.72" y2="478.72" stroke="#444" stroke-width="0.4"/>
<line x1="253.5" x2="254.7" y1="482.24" y2="482.24" stroke="#444" stroke-width="0.4"/>
<line x1="253.5" x2="254.7" y1="485.76" y2="485.76" stroke="#444" stroke-width="0.4"/>
<line x1="253.5" x2="254.7" y1="489.28" y2="489.28" stroke="#444" stroke-width="0.4"/>
<line x1="253.5" x2="254.7" y1="492.80" y2="492.80" stroke="#444" stroke-width="0.4"/>
<line x1="253.5" x2="254.7" y1="496.32" y2="496.32" stroke="#444" stroke-width="0.4"/>
<line x1="253.5" x2="254.7" y1="499.84" y2="499.84" stroke="#444" stroke-width="0.4"/>
<line x1="253.5" x2="254.7" y1="503.36" y2="503.36" stroke="#444" stroke-width="0.4"/>
<line x1="253.5" x2="254.7" y1="506.88" y2="506.88" stroke="#444" stroke-width="0.4"/>
<line x1="253.5" x2="254.7" y1="510.40" y2="510.40" stroke="#444" stroke-width="0.4"/>
<rect x="374.6" y="418.0" width="94.2" height="93.5" fill="none" stroke="#aaa" stroke-width="0.7"/>
<path d="M374.6 418.0V511.5H468.8" stroke="#222" stroke-width="0.8" fill="none"/>
<line x1="372.2" x2="374.6" y1="422.4" y2="422.4" stroke="#222" stroke-width="0.7"/>
<text x="372.0" y="424.6" font-size="6.4" text-anchor="end">100</text>
<line x1="372.2" x2="374.6" y1="440.0" y2="440.0" stroke="#222" stroke-width="0.7"/>
<text x="372.0" y="442.2" font-size="6.4" text-anchor="end">80</text>
<line x1="372.2" x2="374.6" y1="457.6" y2="457.6" stroke="#222" stroke-width="0.7"/>
<text x="372.0" y="459.8" font-size="6.4" text-anchor="end">60</text>
<line x1="372.2" x2="374.6" y1="475.2" y2="475.2" stroke="#222" stroke-width="0.7"/>
<text x="372.0" y="477.4" font-size="6.4" text-anchor="end">40</text>
<line x1="372.2" x2="374.6" y1="492.8" y2="492.8" stroke="#222" stroke-width="0.7"/>
<text x="372.0" y="495.0" font-size="6.4" text-anchor="end">20</text>
<line x1="372.2" x2="374.6" y1="510.4" y2="510.4" stroke="#222" stroke-width="0.7"/>
<text x="372.0" y="512.6" font-size="6.4" text-anchor="end">0</text>
<line x1="373.4" x2="374.6" y1="422.40" y2="422.40" stroke="#444" stroke-width="0.4"/>
<line x1="373.4" x2="374.6" y1="425.92" y2="425.92" stroke="#444" stroke-width="0.4"/>
<line x1="373.4" x2="374.6" y1="429.44" y2="429.44" stroke="#444" stroke-width="0.4"/>
<line x1="373.4" x2="374.6" y1="432.96" y2="432.96" stroke="#444" stroke-width="0.4"/>
<line x1="373.4" x2="374.6" y1="436.48" y2="436.48" stroke="#444" stroke-width="0.4"/>
<line x1="373.4" x2="374.6" y1="440.00" y2="440.00" stroke="#444" stroke-width="0.4"/>
<line x1="373.4" x2="374.6" y1="443.52" y2="443.52" stroke="#444" stroke-width="0.4"/>
<line x1="373.4" x2="374.6" y1="447.04" y2="447.04" stroke="#444" stroke-width="0.4"/>
<line x1="373.4" x2="374.6" y1="450.56" y2="450.56" stroke="#444" stroke-width="0.4"/>
<line x1="373.4" x2="374.6" y1="454.08" y2="454.08" stroke="#444" stroke-width="0.4"/>
<line x1="373.4" x2="374.6" y1="457.60" y2="457.60" stroke="#444" stroke-width="0.4"/>
<line x1="373.4" x2="374.6" y1="461.12" y2="461.12" stroke="#444" stroke-width="0.4"/>
<line x1="373.4" x2="374.6" y1="464.64" y2="464.64" stroke="#444" stroke-width="0.4"/>
<line x1="373.4" x2="374.6" y1="468.16" y2="468.16" stroke="#444" stroke-width="0.4"/>
<line x1="373.4" x2="374.6" y1="471.68" y2="471.68" stroke="#444" stroke-width="0.4"/>
<line x1="373.4" x2="374.6" y1="475.20" y2="475.20" stroke="#444" stroke-width="0.4"/>
<line x1="373.4" x2="374.6" y1="478.72" y2="478.72" stroke="#444" stroke-width="0.4"/>
<line x1="373.4" x2="374.6" y1="482.24" y2="482.24" stroke="#444" stroke-width="0.4"/>
<line x1="373.4" x2="374.6" y1="485.76" y2="485.76" stroke="#444" stroke-width="0.4"/>
<line x1="373.4" x2="374.6" y1="489.28" y2="489.28" stroke="#444" stroke-width="0.4"/>
<line x1="373.4" x2="374.6" y1="492.80" y2="492.80" stroke="#444" stroke-width="0.4"/>
<line x1="373.4" x2="374.6" y1="496.32" y2="496.32" stroke="#444" stroke-width="0.4"/>
<line x1="373.4" x2="374.6" y1="499.84" y2="499.84" stroke="#444" stroke-width="0.4"/>
<line x1="373.4" x2="374.6" y1="503.36" y2="503.36" stroke="#444" stroke-width="0.4"/>
<line x1="373.4" x2="374.6" y1="506.88" y2="506.88" stroke="#444" stroke-width="0.4"/>
<line x1="373.4" x2="374.6" y1="510.40" y2="510.40" stroke="#444" stroke-width="0.4"/>
<rect x="493.0" y="418.0" width="95.7" height="93.5" fill="none" stroke="#aaa" stroke-width="0.7"/>
<path d="M493.0 418.0V511.5H588.7" stroke="#222" stroke-width="0.8" fill="none"/>
<line x1="490.6" x2="493.0" y1="422.4" y2="422.4" stroke="#222" stroke-width="0.7"/>
<text x="490.4" y="424.6" font-size="6.4" text-anchor="end">100</text>
<line x1="490.6" x2="493.0" y1="440.0" y2="440.0" stroke="#222" stroke-width="0.7"/>
<text x="490.4" y="442.2" font-size="6.4" text-anchor="end">80</text>
<line x1="490.6" x2="493.0" y1="457.6" y2="457.6" stroke="#222" stroke-width="0.7"/>
<text x="490.4" y="459.8" font-size="6.4" text-anchor="end">60</text>
<line x1="490.6" x2="493.0" y1="475.2" y2="475.2" stroke="#222" stroke-width="0.7"/>
<text x="490.4" y="477.4" font-size="6.4" text-anchor="end">40</text>
<line x1="490.6" x2="493.0" y1="492.8" y2="492.8" stroke="#222" stroke-width="0.7"/>
<text x="490.4" y="495.0" font-size="6.4" text-anchor="end">20</text>
<line x1="490.6" x2="493.0" y1="510.4" y2="510.4" stroke="#222" stroke-width="0.7"/>
<text x="490.4" y="512.6" font-size="6.4" text-anchor="end">0</text>
<line x1="491.8" x2="493.0" y1="422.40" y2="422.40" stroke="#444" stroke-width="0.4"/>
<line x1="491.8" x2="493.0" y1="425.92" y2="425.92" stroke="#444" stroke-width="0.4"/>
<line x1="491.8" x2="493.0" y1="429.44" y2="429.44" stroke="#444" stroke-width="0.4"/>
<line x1="491.8" x2="493.0" y1="432.96" y2="432.96" stroke="#444" stroke-width="0.4"/>
<line x1="491.8" x2="493.0" y1="436.48" y2="436.48" stroke="#444" stroke-width="0.4"/>
<line x1="491.8" x2="493.0" y1="440.00" y2="440.00" stroke="#444" stroke-width="0.4"/>
<line x1="491.8" x2="493.0" y1="443.52" y2="443.52" stroke="#444" stroke-width="0.4"/>
<line x1="491.8" x2="493.0" y1="447.04" y2="447.04" stroke="#444" stroke-width="0.4"/>
<line x1="491.8" x2="493.0" y1="450.56" y2="450.56" stroke="#444" stroke-width="0.4"/>
<line x1="491.8" x2="493.0" y1="454.08" y2="454.08" stroke="#444" stroke-width="0.4"/>
<line x1="491.8" x2="493.0" y1="457.60" y2="457.60" stroke="#444" stroke-width="0.4"/>
<line x1="491.8" x2="493.0" y1="461.12" y2="461.12" stroke="#444" stroke-width="0.4"/>
<line x1="491.8" x2="493.0" y1="464.64" y2="464.64" stroke="#444" stroke-width="0.4"/>
<line x1="491.8" x2="493.0" y1="468.16" y2="468.16" stroke="#444" stroke-width="0.4"/>
<line x1="491.8" x2="493.0" y1="471.68" y2="471.68" stroke="#444" stroke-width="0.4"/>
<line x1="491.8" x2="493.0" y1="475.20" y2="475.20" stroke="#444" stroke-width="0.4"/>
<line x1="491.8" x2="493.0" y1="478.72" y2="478.72" stroke="#444" stroke-width="0.4"/>
<line x1="491.8" x2="493.0" y1="482.24" y2="482.24" stroke="#444" stroke-width="0.4"/>
<line x1="491.8" x2="493.0" y1="485.76" y2="485.76" stroke="#444" stroke-width="0.4"/>
<line x1="491.8" x2="493.0" y1="489.28" y2="489.28" stroke="#444" stroke-width="0.4"/>
<line x1="491.8" x2="493.0" y1="492.80" y2="492.80" stroke="#444" stroke-width="0.4"/>
<line x1="491.8" x2="493.0" y1="496.32" y2="496.32" stroke="#444" stroke-width="0.4"/>
<line x1="491.8" x2="493.0" y1="499.84" y2="499.84" stroke="#444" stroke-width="0.4"/>
<line x1="491.8" x2="493.0" y1="503.36" y2="503.36" stroke="#444" stroke-width="0.4"/>
<line x1="491.8" x2="493.0" y1="506.88" y2="506.88" stroke="#444" stroke-width="0.4"/>
<line x1="491.8" x2="493.0" y1="510.40" y2="510.40" stroke="#444" stroke-width="0.4"/>
<path d="M257.37 510.87C263.86 510.87 288.39 510.87 296.34 510.87C304.30 510.87 303.09 510.94 305.10 510.87C307.11 510.79 307.47 510.61 308.39 510.43C309.30 510.25 309.96 509.92 310.58 509.77C311.20 509.63 311.56 509.52 312.11 509.55C312.66 509.59 313.20 509.81 313.86 509.99C314.52 510.17 314.88 510.50 316.05 510.65C317.22 510.79 319.70 511.27 320.87 510.87C322.03 510.47 322.47 511.96 323.06 508.24C323.64 504.52 323.90 497.66 324.37 488.53C324.84 479.41 325.43 462.91 325.90 453.50C326.38 444.08 326.78 433.14 327.22 432.04C327.65 430.95 328.13 440.07 328.53 446.93C328.93 453.79 329.22 465.18 329.63 473.21C330.03 481.23 330.46 489.26 330.94 495.10C331.41 500.94 331.85 505.65 332.47 508.24C333.09 510.83 331.92 510.21 334.66 510.65C337.40 511.09 346.52 510.83 348.89 510.87Z" fill="#000" stroke="#000" stroke-width="0.5"/>
<path d="M375.03 510.87C376.13 510.83 379.60 511.45 381.60 510.65C383.61 509.85 385.43 509.01 387.08 506.05C388.72 503.09 390.25 500.21 391.46 492.91C392.66 485.61 393.54 470.65 394.30 462.26C395.07 453.86 395.43 447.19 396.05 442.55C396.67 437.92 397.44 434.45 398.02 434.45C398.61 434.45 399.01 436.09 399.56 442.55C400.11 449.01 400.65 464.16 401.31 473.21C401.97 482.26 402.77 492.18 403.50 496.85C404.23 501.52 404.89 500.79 405.69 501.23C406.49 501.67 407.40 499.34 408.32 499.48C409.23 499.63 410.21 501.52 411.16 502.11C412.11 502.69 413.10 502.55 414.01 502.98C414.92 503.42 415.65 503.86 416.64 504.74C417.62 505.61 418.83 507.29 419.92 508.24C421.02 509.19 422.11 510.43 423.21 510.43C424.30 510.43 425.40 509.15 426.49 508.24C427.58 507.33 428.86 505.68 429.77 504.96C430.69 504.23 431.16 503.79 431.96 503.86C432.77 503.93 433.68 505.25 434.59 505.39C435.50 505.54 436.42 504.52 437.44 504.74C438.46 504.96 439.81 508.31 440.72 506.71C441.63 505.10 442.26 499.96 442.91 495.10C443.57 490.25 444.01 483.31 444.66 477.58C445.32 471.86 446.20 461.45 446.85 460.72C447.51 459.99 447.98 467.48 448.61 473.21C449.23 478.94 449.88 489.63 450.58 495.10C451.27 500.58 451.85 503.53 452.77 506.05C453.68 508.57 453.50 509.41 456.05 510.21C458.60 511.01 466.09 510.76 468.09 510.87Z" fill="#000" stroke="#000" stroke-width="0.5"/>
<path d="M493.65 510.87C495.18 510.61 500.58 510.14 502.84 509.33C505.11 508.53 505.95 508.42 507.22 506.05C508.50 503.68 509.49 501.67 510.51 495.10C511.53 488.53 512.62 475.40 513.35 466.64C514.08 457.88 514.34 447.66 514.89 442.55C515.43 437.44 516.02 436.35 516.64 435.98C517.26 435.62 517.92 435.98 518.61 440.36C519.30 444.74 520.07 453.86 520.80 462.26C521.53 470.65 522.26 483.24 522.99 490.72C523.72 498.20 524.16 503.93 525.18 507.14C526.20 510.36 525.91 509.52 529.12 509.99C532.33 510.47 541.16 510.28 544.45 509.99C547.73 509.70 547.55 508.64 548.83 508.24C550.10 507.84 550.83 507.33 552.11 507.58C553.39 507.84 555.21 509.52 556.49 509.77C557.77 510.03 558.86 510.10 559.77 509.12C560.69 508.13 561.16 507.00 561.96 503.86C562.77 500.72 563.86 493.28 564.59 490.28C565.32 487.29 565.76 485.47 566.34 485.91C566.93 486.34 567.44 489.55 568.10 492.91C568.75 496.27 569.30 503.31 570.28 506.05C571.27 508.79 572.47 508.60 574.01 509.33C575.54 510.06 577.11 510.17 579.48 510.43C581.85 510.68 586.78 510.79 588.24 510.87Z" fill="#ee1764" stroke="#ee1764" stroke-width="0.5"/>
<rect x="268.5" y="509.4" width="2.4" height="1.8" fill="#000"/>
<rect x="387.6" y="509.4" width="2.4" height="1.8" fill="#000"/>
<rect x="507.7" y="509.4" width="2.4" height="1.8" fill="#000"/>
<path d="M257.4 436.4H320.9M257.4 434.9v3M320.9 434.9v3" stroke="#555" stroke-width="0.8" fill="none"/><text x="293.7" y="433.4" font-size="8.8" text-anchor="middle">4.91</text>
<path d="M377.2 436.4H440.7M377.2 434.9v3M440.7 434.9v3" stroke="#555" stroke-width="0.8" fill="none"/><text x="413.8" y="433.4" font-size="8.8" text-anchor="middle">72.8</text>
<path d="M496.3 436.4H559.8M496.3 434.9v3M559.8 434.9v3" stroke="#555" stroke-width="0.8" fill="none"/><text x="533.1" y="433.4" font-size="8.8" text-anchor="middle">82.3</text>
<text x="270.0" y="520.3" font-size="5.6" text-anchor="middle">0</text>
<line x1="270.0" x2="270.0" y1="511.5" y2="513.8" stroke="#222" stroke-width="0.6"/>
<text x="301.2" y="520.3" font-size="5.6" text-anchor="middle">10<tspan font-size="3.8" dy="-2.4">4</tspan></text>
<line x1="301.2" x2="301.2" y1="511.5" y2="513.8" stroke="#222" stroke-width="0.6"/>
<text x="317.1" y="520.3" font-size="5.6" text-anchor="middle">10<tspan font-size="3.8" dy="-2.4">5</tspan></text>
<line x1="317.1" x2="317.1" y1="511.5" y2="513.8" stroke="#222" stroke-width="0.6"/>
<text x="332.0" y="520.3" font-size="5.6" text-anchor="middle">10<tspan font-size="3.8" dy="-2.4">6</tspan></text>
<line x1="332.0" x2="332.0" y1="511.5" y2="513.8" stroke="#222" stroke-width="0.6"/>
<text x="345.6" y="520.3" font-size="5.6" text-anchor="middle">10<tspan font-size="3.8" dy="-2.4">7</tspan></text>
<line x1="345.6" x2="345.6" y1="511.5" y2="513.8" stroke="#222" stroke-width="0.6"/>
<line x1="276.24" x2="276.24" y1="511.5" y2="512.8" stroke="#444" stroke-width="0.4"/>
<line x1="279.36" x2="279.36" y1="511.5" y2="512.8" stroke="#444" stroke-width="0.4"/>
<line x1="282.48" x2="282.48" y1="511.5" y2="512.8" stroke="#444" stroke-width="0.4"/>
<line x1="285.60" x2="285.60" y1="511.5" y2="512.8" stroke="#444" stroke-width="0.4"/>
<line x1="288.72" x2="288.72" y1="511.5" y2="512.8" stroke="#444" stroke-width="0.4"/>
<line x1="291.84" x2="291.84" y1="511.5" y2="512.8" stroke="#444" stroke-width="0.4"/>
<line x1="294.96" x2="294.96" y1="511.5" y2="512.8" stroke="#444" stroke-width="0.4"/>
<line x1="298.08" x2="298.08" y1="511.5" y2="512.8" stroke="#444" stroke-width="0.4"/>
<line x1="305.99" x2="305.99" y1="511.5" y2="512.8" stroke="#444" stroke-width="0.4"/>
<line x1="308.79" x2="308.79" y1="511.5" y2="512.8" stroke="#444" stroke-width="0.4"/>
<line x1="310.77" x2="310.77" y1="511.5" y2="512.8" stroke="#444" stroke-width="0.4"/>
<line x1="312.31" x2="312.31" y1="511.5" y2="512.8" stroke="#444" stroke-width="0.4"/>
<line x1="313.57" x2="313.57" y1="511.5" y2="512.8" stroke="#444" stroke-width="0.4"/>
<line x1="314.64" x2="314.64" y1="511.5" y2="512.8" stroke="#444" stroke-width="0.4"/>
<line x1="315.56" x2="315.56" y1="511.5" y2="512.8" stroke="#444" stroke-width="0.4"/>
<line x1="316.37" x2="316.37" y1="511.5" y2="512.8" stroke="#444" stroke-width="0.4"/>
<line x1="321.59" x2="321.59" y1="511.5" y2="512.8" stroke="#444" stroke-width="0.4"/>
<line x1="324.21" x2="324.21" y1="511.5" y2="512.8" stroke="#444" stroke-width="0.4"/>
<line x1="326.07" x2="326.07" y1="511.5" y2="512.8" stroke="#444" stroke-width="0.4"/>
<line x1="327.51" x2="327.51" y1="511.5" y2="512.8" stroke="#444" stroke-width="0.4"/>
<line x1="328.69" x2="328.69" y1="511.5" y2="512.8" stroke="#444" stroke-width="0.4"/>
<line x1="329.69" x2="329.69" y1="511.5" y2="512.8" stroke="#444" stroke-width="0.4"/>
<line x1="330.56" x2="330.56" y1="511.5" y2="512.8" stroke="#444" stroke-width="0.4"/>
<line x1="331.32" x2="331.32" y1="511.5" y2="512.8" stroke="#444" stroke-width="0.4"/>
<line x1="336.09" x2="336.09" y1="511.5" y2="512.8" stroke="#444" stroke-width="0.4"/>
<line x1="338.49" x2="338.49" y1="511.5" y2="512.8" stroke="#444" stroke-width="0.4"/>
<line x1="340.19" x2="340.19" y1="511.5" y2="512.8" stroke="#444" stroke-width="0.4"/>
<line x1="341.51" x2="341.51" y1="511.5" y2="512.8" stroke="#444" stroke-width="0.4"/>
<line x1="342.58" x2="342.58" y1="511.5" y2="512.8" stroke="#444" stroke-width="0.4"/>
<line x1="343.49" x2="343.49" y1="511.5" y2="512.8" stroke="#444" stroke-width="0.4"/>
<line x1="344.28" x2="344.28" y1="511.5" y2="512.8" stroke="#444" stroke-width="0.4"/>
<line x1="344.98" x2="344.98" y1="511.5" y2="512.8" stroke="#444" stroke-width="0.4"/>
<line x1="267.40" x2="267.40" y1="511.5" y2="512.8" stroke="#444" stroke-width="0.4"/>
<line x1="264.80" x2="264.80" y1="511.5" y2="512.8" stroke="#444" stroke-width="0.4"/>
<line x1="262.20" x2="262.20" y1="511.5" y2="512.8" stroke="#444" stroke-width="0.4"/>
<line x1="259.60" x2="259.60" y1="511.5" y2="512.8" stroke="#444" stroke-width="0.4"/>
<line x1="257.00" x2="257.00" y1="511.5" y2="512.8" stroke="#444" stroke-width="0.4"/>
<text x="389.3" y="520.3" font-size="5.6" text-anchor="middle">0</text>
<line x1="389.3" x2="389.3" y1="511.5" y2="513.8" stroke="#222" stroke-width="0.6"/>
<text x="420.6" y="520.3" font-size="5.6" text-anchor="middle">10<tspan font-size="3.8" dy="-2.4">4</tspan></text>
<line x1="420.6" x2="420.6" y1="511.5" y2="513.8" stroke="#222" stroke-width="0.6"/>
<text x="436.3" y="520.3" font-size="5.6" text-anchor="middle">10<tspan font-size="3.8" dy="-2.4">5</tspan></text>
<line x1="436.3" x2="436.3" y1="511.5" y2="513.8" stroke="#222" stroke-width="0.6"/>
<text x="451.7" y="520.3" font-size="5.6" text-anchor="middle">10<tspan font-size="3.8" dy="-2.4">6</tspan></text>
<line x1="451.7" x2="451.7" y1="511.5" y2="513.8" stroke="#222" stroke-width="0.6"/>
<text x="464.8" y="520.3" font-size="5.6" text-anchor="middle">10<tspan font-size="3.8" dy="-2.4">7</tspan></text>
<line x1="464.8" x2="464.8" y1="511.5" y2="513.8" stroke="#222" stroke-width="0.6"/>
<line x1="395.56" x2="395.56" y1="511.5" y2="512.8" stroke="#444" stroke-width="0.4"/>
<line x1="398.69" x2="398.69" y1="511.5" y2="512.8" stroke="#444" stroke-width="0.4"/>
<line x1="401.82" x2="401.82" y1="511.5" y2="512.8" stroke="#444" stroke-width="0.4"/>
<line x1="404.95" x2="404.95" y1="511.5" y2="512.8" stroke="#444" stroke-width="0.4"/>
<line x1="408.08" x2="408.08" y1="511.5" y2="512.8" stroke="#444" stroke-width="0.4"/>
<line x1="411.21" x2="411.21" y1="511.5" y2="512.8" stroke="#444" stroke-width="0.4"/>
<line x1="414.34" x2="414.34" y1="511.5" y2="512.8" stroke="#444" stroke-width="0.4"/>
<line x1="417.47" x2="417.47" y1="511.5" y2="512.8" stroke="#444" stroke-width="0.4"/>
<line x1="425.33" x2="425.33" y1="511.5" y2="512.8" stroke="#444" stroke-width="0.4"/>
<line x1="428.09" x2="428.09" y1="511.5" y2="512.8" stroke="#444" stroke-width="0.4"/>
<line x1="430.05" x2="430.05" y1="511.5" y2="512.8" stroke="#444" stroke-width="0.4"/>
<line x1="431.57" x2="431.57" y1="511.5" y2="512.8" stroke="#444" stroke-width="0.4"/>
<line x1="432.82" x2="432.82" y1="511.5" y2="512.8" stroke="#444" stroke-width="0.4"/>
<line x1="433.87" x2="433.87" y1="511.5" y2="512.8" stroke="#444" stroke-width="0.4"/>
<line x1="434.78" x2="434.78" y1="511.5" y2="512.8" stroke="#444" stroke-width="0.4"/>
<line x1="435.58" x2="435.58" y1="511.5" y2="512.8" stroke="#444" stroke-width="0.4"/>
<line x1="440.94" x2="440.94" y1="511.5" y2="512.8" stroke="#444" stroke-width="0.4"/>
<line x1="443.65" x2="443.65" y1="511.5" y2="512.8" stroke="#444" stroke-width="0.4"/>
<line x1="445.57" x2="445.57" y1="511.5" y2="512.8" stroke="#444" stroke-width="0.4"/>
<line x1="447.06" x2="447.06" y1="511.5" y2="512.8" stroke="#444" stroke-width="0.4"/>
<line x1="448.28" x2="448.28" y1="511.5" y2="512.8" stroke="#444" stroke-width="0.4"/>
<line x1="449.31" x2="449.31" y1="511.5" y2="512.8" stroke="#444" stroke-width="0.4"/>
<line x1="450.21" x2="450.21" y1="511.5" y2="512.8" stroke="#444" stroke-width="0.4"/>
<line x1="451.00" x2="451.00" y1="511.5" y2="512.8" stroke="#444" stroke-width="0.4"/>
<line x1="455.64" x2="455.64" y1="511.5" y2="512.8" stroke="#444" stroke-width="0.4"/>
<line x1="457.95" x2="457.95" y1="511.5" y2="512.8" stroke="#444" stroke-width="0.4"/>
<line x1="459.59" x2="459.59" y1="511.5" y2="512.8" stroke="#444" stroke-width="0.4"/>
<line x1="460.86" x2="460.86" y1="511.5" y2="512.8" stroke="#444" stroke-width="0.4"/>
<line x1="461.89" x2="461.89" y1="511.5" y2="512.8" stroke="#444" stroke-width="0.4"/>
<line x1="462.77" x2="462.77" y1="511.5" y2="512.8" stroke="#444" stroke-width="0.4"/>
<line x1="463.53" x2="463.53" y1="511.5" y2="512.8" stroke="#444" stroke-width="0.4"/>
<line x1="464.20" x2="464.20" y1="511.5" y2="512.8" stroke="#444" stroke-width="0.4"/>
<line x1="386.70" x2="386.70" y1="511.5" y2="512.8" stroke="#444" stroke-width="0.4"/>
<line x1="384.10" x2="384.10" y1="511.5" y2="512.8" stroke="#444" stroke-width="0.4"/>
<line x1="381.50" x2="381.50" y1="511.5" y2="512.8" stroke="#444" stroke-width="0.4"/>
<line x1="378.90" x2="378.90" y1="511.5" y2="512.8" stroke="#444" stroke-width="0.4"/>
<line x1="376.30" x2="376.30" y1="511.5" y2="512.8" stroke="#444" stroke-width="0.4"/>
<text x="509.4" y="520.3" font-size="5.6" text-anchor="middle">0</text>
<line x1="509.4" x2="509.4" y1="511.5" y2="513.8" stroke="#222" stroke-width="0.6"/>
<text x="540.5" y="520.3" font-size="5.6" text-anchor="middle">10<tspan font-size="3.8" dy="-2.4">4</tspan></text>
<line x1="540.5" x2="540.5" y1="511.5" y2="513.8" stroke="#222" stroke-width="0.6"/>
<text x="556.5" y="520.3" font-size="5.6" text-anchor="middle">10<tspan font-size="3.8" dy="-2.4">5</tspan></text>
<line x1="556.5" x2="556.5" y1="511.5" y2="513.8" stroke="#222" stroke-width="0.6"/>
<text x="570.7" y="520.3" font-size="5.6" text-anchor="middle">10<tspan font-size="3.8" dy="-2.4">6</tspan></text>
<line x1="570.7" x2="570.7" y1="511.5" y2="513.8" stroke="#222" stroke-width="0.6"/>
<text x="584.3" y="520.3" font-size="5.6" text-anchor="middle">10<tspan font-size="3.8" dy="-2.4">7</tspan></text>
<line x1="584.3" x2="584.3" y1="511.5" y2="513.8" stroke="#222" stroke-width="0.6"/>
<line x1="515.62" x2="515.62" y1="511.5" y2="512.8" stroke="#444" stroke-width="0.4"/>
<line x1="518.73" x2="518.73" y1="511.5" y2="512.8" stroke="#444" stroke-width="0.4"/>
<line x1="521.84" x2="521.84" y1="511.5" y2="512.8" stroke="#444" stroke-width="0.4"/>
<line x1="524.95" x2="524.95" y1="511.5" y2="512.8" stroke="#444" stroke-width="0.4"/>
<line x1="528.06" x2="528.06" y1="511.5" y2="512.8" stroke="#444" stroke-width="0.4"/>
<line x1="531.17" x2="531.17" y1="511.5" y2="512.8" stroke="#444" stroke-width="0.4"/>
<line x1="534.28" x2="534.28" y1="511.5" y2="512.8" stroke="#444" stroke-width="0.4"/>
<line x1="537.39" x2="537.39" y1="511.5" y2="512.8" stroke="#444" stroke-width="0.4"/>
<line x1="545.32" x2="545.32" y1="511.5" y2="512.8" stroke="#444" stroke-width="0.4"/>
<line x1="548.13" x2="548.13" y1="511.5" y2="512.8" stroke="#444" stroke-width="0.4"/>
<line x1="550.13" x2="550.13" y1="511.5" y2="512.8" stroke="#444" stroke-width="0.4"/>
<line x1="551.68" x2="551.68" y1="511.5" y2="512.8" stroke="#444" stroke-width="0.4"/>
<line x1="552.95" x2="552.95" y1="511.5" y2="512.8" stroke="#444" stroke-width="0.4"/>
<line x1="554.02" x2="554.02" y1="511.5" y2="512.8" stroke="#444" stroke-width="0.4"/>
<line x1="554.95" x2="554.95" y1="511.5" y2="512.8" stroke="#444" stroke-width="0.4"/>
<line x1="555.77" x2="555.77" y1="511.5" y2="512.8" stroke="#444" stroke-width="0.4"/>
<line x1="560.77" x2="560.77" y1="511.5" y2="512.8" stroke="#444" stroke-width="0.4"/>
<line x1="563.28" x2="563.28" y1="511.5" y2="512.8" stroke="#444" stroke-width="0.4"/>
<line x1="565.05" x2="565.05" y1="511.5" y2="512.8" stroke="#444" stroke-width="0.4"/>
<line x1="566.43" x2="566.43" y1="511.5" y2="512.8" stroke="#444" stroke-width="0.4"/>
<line x1="567.55" x2="567.55" y1="511.5" y2="512.8" stroke="#444" stroke-width="0.4"/>
<line x1="568.50" x2="568.50" y1="511.5" y2="512.8" stroke="#444" stroke-width="0.4"/>
<line x1="569.32" x2="569.32" y1="511.5" y2="512.8" stroke="#444" stroke-width="0.4"/>
<line x1="570.05" x2="570.05" y1="511.5" y2="512.8" stroke="#444" stroke-width="0.4"/>
<line x1="574.79" x2="574.79" y1="511.5" y2="512.8" stroke="#444" stroke-width="0.4"/>
<line x1="577.19" x2="577.19" y1="511.5" y2="512.8" stroke="#444" stroke-width="0.4"/>
<line x1="578.89" x2="578.89" y1="511.5" y2="512.8" stroke="#444" stroke-width="0.4"/>
<line x1="580.21" x2="580.21" y1="511.5" y2="512.8" stroke="#444" stroke-width="0.4"/>
<line x1="581.28" x2="581.28" y1="511.5" y2="512.8" stroke="#444" stroke-width="0.4"/>
<line x1="582.19" x2="582.19" y1="511.5" y2="512.8" stroke="#444" stroke-width="0.4"/>
<line x1="582.98" x2="582.98" y1="511.5" y2="512.8" stroke="#444" stroke-width="0.4"/>
<line x1="583.68" x2="583.68" y1="511.5" y2="512.8" stroke="#444" stroke-width="0.4"/>
<line x1="506.80" x2="506.80" y1="511.5" y2="512.8" stroke="#444" stroke-width="0.4"/>
<line x1="504.20" x2="504.20" y1="511.5" y2="512.8" stroke="#444" stroke-width="0.4"/>
<line x1="501.60" x2="501.60" y1="511.5" y2="512.8" stroke="#444" stroke-width="0.4"/>
<line x1="499.00" x2="499.00" y1="511.5" y2="512.8" stroke="#444" stroke-width="0.4"/>
<line x1="496.40" x2="496.40" y1="511.5" y2="512.8" stroke="#444" stroke-width="0.4"/>
<text transform="translate(238.9,509.3) rotate(-90)" font-size="8.2">% of Max</text>
<line x1="236.2" x2="236.2" y1="469" y2="441" stroke="#000" stroke-width="0.8"/><path d="M236.2 437.5l-1.8 4.5h3.6z" fill="#000"/>
<text x="258" y="532.3" font-size="7.8">CFSE</text>
<line x1="286" x2="580" y1="528.3" y2="528.3" stroke="#222" stroke-width="0.8"/><path d="M585 528.3l-5 -2.1v4.2z" fill="#222"/>
<text x="423.1" y="540.6" font-size="7.3" text-anchor="middle">Co-cultured with</text>
<text x="423.1" y="550" font-size="7.3" text-anchor="middle">CD4<tspan font-size="4.5" dy="-2.8">+</tspan><tspan dy="2.8"> T cells (Con)</tspan></text>
<text x="541.5" y="540.6" font-size="7.3" text-anchor="middle">Co-cultured with</text>
<text x="541.5" y="550" font-size="7.3" text-anchor="middle">CD4<tspan font-size="4.5" dy="-2.8">+</tspan><tspan dy="2.8"> T cells (apCAFs)</tspan></text>
<path d="M623 420V499.1H677" stroke="#000" stroke-width="0.9" fill="none"/>
<line x1="620.6" x2="623" y1="499.1" y2="499.1" stroke="#000" stroke-width="0.8"/>
<text x="620.3" y="501.2" font-size="6.1" text-anchor="end">0</text>
<line x1="620.6" x2="623" y1="483.3" y2="483.3" stroke="#000" stroke-width="0.8"/>
<text x="620.3" y="485.4" font-size="6.1" text-anchor="end">20</text>
<line x1="620.6" x2="623" y1="467.5" y2="467.5" stroke="#000" stroke-width="0.8"/>
<text x="620.3" y="469.6" font-size="6.1" text-anchor="end">40</text>
<line x1="620.6" x2="623" y1="451.6" y2="451.6" stroke="#000" stroke-width="0.8"/>
<text x="620.3" y="453.7" font-size="6.1" text-anchor="end">60</text>
<line x1="620.6" x2="623" y1="435.8" y2="435.8" stroke="#000" stroke-width="0.8"/>
<text x="620.3" y="437.9" font-size="6.1" text-anchor="end">80</text>
<line x1="620.6" x2="623" y1="420.0" y2="420.0" stroke="#000" stroke-width="0.8"/>
<text x="620.3" y="422.1" font-size="6.1" text-anchor="end">100</text>
<path d="M633.1 499.1V443.3H646.1V499.1" fill="#fff" stroke="#000" stroke-width="1.1"/>
<path d="M655.7 499.1V435.4H668.7V499.1" fill="#fff" stroke="#f0206e" stroke-width="1.1"/>
<circle cx="636.5" cy="445.7" r="1.8" fill="#000"/>
<circle cx="639.6" cy="441.8" r="1.8" fill="#000"/>
<circle cx="642.5" cy="443.9" r="1.8" fill="#000"/>
<rect x="656.9" y="433.0" width="3.2" height="3.2" fill="#f0206e"/>
<rect x="660.4" y="434.2" width="3.2" height="3.2" fill="#f0206e"/>
<rect x="663.9" y="433.4" width="3.2" height="3.2" fill="#f0206e"/>
<path d="M639.6 437.5V425.2H662.2V429.5" stroke="#000" stroke-width="0.8" fill="none"/>
<text x="650.4" y="422.8" font-size="7.2" text-anchor="middle">0.004</text>
<line x1="639.6" x2="639.6" y1="499.1" y2="501.6" stroke="#000" stroke-width="0.8"/><line x1="662.2" x2="662.2" y1="499.1" y2="501.6" stroke="#000" stroke-width="0.8"/>
<text transform="translate(607.8,456.5) rotate(-90)" font-size="7.2" text-anchor="middle">% of proliferating CD8<tspan font-size="4.5" dy="-2.8">+</tspan><tspan dy="2.8"> T cells</tspan></text>
<text transform="translate(644.5,507.6) rotate(-45)" font-size="6.8" text-anchor="end">CD4<tspan font-size="4.3" dy="-2.6">+</tspan><tspan dy="2.6"> T cell (Con)</tspan></text>
<text transform="translate(672.7,507.6) rotate(-45)" font-size="6.8" text-anchor="end">CD4<tspan font-size="4.3" dy="-2.6">+</tspan><tspan dy="2.6"> T cell (apCAFs)</tspan></text>
<text x="1" y="561" class="pl">H</text>
<rect x="88.4" y="566.4" width="113.9" height="112.8" fill="none" stroke="#b0b0b0" stroke-width="0.7"/>
<path d="M88.4 566.4V679.2H202.3" stroke="#222" stroke-width="0.8" fill="none"/>
<line x1="85.6" x2="88.4" y1="569.9" y2="569.9" stroke="#222" stroke-width="0.7"/>
<text x="85.2" y="572.3" font-size="6.7" text-anchor="end">1.0M</text>
<line x1="87.0" x2="88.4" y1="573.82" y2="573.82" stroke="#444" stroke-width="0.4"/>
<line x1="87.0" x2="88.4" y1="577.74" y2="577.74" stroke="#444" stroke-width="0.4"/>
<line x1="87.0" x2="88.4" y1="581.66" y2="581.66" stroke="#444" stroke-width="0.4"/>
<line x1="87.0" x2="88.4" y1="585.58" y2="585.58" stroke="#444" stroke-width="0.4"/>
<line x1="85.6" x2="88.4" y1="589.5" y2="589.5" stroke="#222" stroke-width="0.7"/>
<text x="85.2" y="591.9" font-size="6.7" text-anchor="end">800K</text>
<line x1="87.0" x2="88.4" y1="593.92" y2="593.92" stroke="#444" stroke-width="0.4"/>
<line x1="87.0" x2="88.4" y1="598.34" y2="598.34" stroke="#444" stroke-width="0.4"/>
<line x1="87.0" x2="88.4" y1="602.76" y2="602.76" stroke="#444" stroke-width="0.4"/>
<line x1="87.0" x2="88.4" y1="607.18" y2="607.18" stroke="#444" stroke-width="0.4"/>
<line x1="85.6" x2="88.4" y1="611.6" y2="611.6" stroke="#222" stroke-width="0.7"/>
<text x="85.2" y="614.0" font-size="6.7" text-anchor="end">600K</text>
<line x1="87.0" x2="88.4" y1="615.98" y2="615.98" stroke="#444" stroke-width="0.4"/>
<line x1="87.0" x2="88.4" y1="620.36" y2="620.36" stroke="#444" stroke-width="0.4"/>
<line x1="87.0" x2="88.4" y1="624.74" y2="624.74" stroke="#444" stroke-width="0.4"/>
<line x1="87.0" x2="88.4" y1="629.12" y2="629.12" stroke="#444" stroke-width="0.4"/>
<line x1="85.6" x2="88.4" y1="633.5" y2="633.5" stroke="#222" stroke-width="0.7"/>
<text x="85.2" y="635.9" font-size="6.7" text-anchor="end">400K</text>
<line x1="87.0" x2="88.4" y1="637.90" y2="637.90" stroke="#444" stroke-width="0.4"/>
<line x1="87.0" x2="88.4" y1="642.30" y2="642.30" stroke="#444" stroke-width="0.4"/>
<line x1="87.0" x2="88.4" y1="646.70" y2="646.70" stroke="#444" stroke-width="0.4"/>
<line x1="87.0" x2="88.4" y1="651.10" y2="651.10" stroke="#444" stroke-width="0.4"/>
<line x1="85.6" x2="88.4" y1="655.5" y2="655.5" stroke="#222" stroke-width="0.7"/>
<text x="85.2" y="657.9" font-size="6.7" text-anchor="end">200K</text>
<line x1="87.0" x2="88.4" y1="659.78" y2="659.78" stroke="#444" stroke-width="0.4"/>
<line x1="87.0" x2="88.4" y1="664.06" y2="664.06" stroke="#444" stroke-width="0.4"/>
<line x1="87.0" x2="88.4" y1="668.34" y2="668.34" stroke="#444" stroke-width="0.4"/>
<line x1="87.0" x2="88.4" y1="672.62" y2="672.62" stroke="#444" stroke-width="0.4"/>
<line x1="85.6" x2="88.4" y1="676.9" y2="676.9" stroke="#222" stroke-width="0.7"/>
<text x="85.2" y="679.3" font-size="6.7" text-anchor="end">0</text>
<line x1="113.9" x2="113.9" y1="679.2" y2="681.8" stroke="#222" stroke-width="0.7"/>
<text x="113.9" y="691.0" font-size="6.8" text-anchor="middle">0</text>
<line x1="145.1" x2="145.1" y1="679.2" y2="681.8" stroke="#222" stroke-width="0.7"/>
<text x="145.1" y="691.0" font-size="6.8" text-anchor="middle">10<tspan font-size="4.6" dy="-2.8">3</tspan></text>
<line x1="181.0" x2="181.0" y1="679.2" y2="681.8" stroke="#222" stroke-width="0.7"/>
<text x="181.0" y="691.0" font-size="6.8" text-anchor="middle">10<tspan font-size="4.6" dy="-2.8">4</tspan></text>
<line x1="155.91" x2="155.91" y1="679.2" y2="680.7" stroke="#444" stroke-width="0.4"/>
<line x1="191.81" x2="191.81" y1="679.2" y2="680.7" stroke="#444" stroke-width="0.4"/>
<line x1="137.59" x2="137.59" y1="679.2" y2="680.7" stroke="#444" stroke-width="0.4"/>
<line x1="162.23" x2="162.23" y1="679.2" y2="680.7" stroke="#444" stroke-width="0.4"/>
<line x1="198.13" x2="198.13" y1="679.2" y2="680.7" stroke="#444" stroke-width="0.4"/>
<line x1="133.19" x2="133.19" y1="679.2" y2="680.7" stroke="#444" stroke-width="0.4"/>
<line x1="166.71" x2="166.71" y1="679.2" y2="680.7" stroke="#444" stroke-width="0.4"/>
<line x1="130.07" x2="130.07" y1="679.2" y2="680.7" stroke="#444" stroke-width="0.4"/>
<line x1="170.19" x2="170.19" y1="679.2" y2="680.7" stroke="#444" stroke-width="0.4"/>
<line x1="127.65" x2="127.65" y1="679.2" y2="680.7" stroke="#444" stroke-width="0.4"/>
<line x1="173.04" x2="173.04" y1="679.2" y2="680.7" stroke="#444" stroke-width="0.4"/>
<line x1="125.68" x2="125.68" y1="679.2" y2="680.7" stroke="#444" stroke-width="0.4"/>
<line x1="175.44" x2="175.44" y1="679.2" y2="680.7" stroke="#444" stroke-width="0.4"/>
<line x1="124.01" x2="124.01" y1="679.2" y2="680.7" stroke="#444" stroke-width="0.4"/>
<line x1="177.52" x2="177.52" y1="679.2" y2="680.7" stroke="#444" stroke-width="0.4"/>
<line x1="122.56" x2="122.56" y1="679.2" y2="680.7" stroke="#444" stroke-width="0.4"/>
<line x1="179.36" x2="179.36" y1="679.2" y2="680.7" stroke="#444" stroke-width="0.4"/>
<line x1="121.28" x2="121.28" y1="679.2" y2="680.7" stroke="#444" stroke-width="0.4"/>
<line x1="111.10" x2="111.10" y1="679.2" y2="680.7" stroke="#444" stroke-width="0.4"/>
<line x1="108.30" x2="108.30" y1="679.2" y2="680.7" stroke="#444" stroke-width="0.4"/>
<line x1="105.50" x2="105.50" y1="679.2" y2="680.7" stroke="#444" stroke-width="0.4"/>
<line x1="102.70" x2="102.70" y1="679.2" y2="680.7" stroke="#444" stroke-width="0.4"/>
<line x1="99.90" x2="99.90" y1="679.2" y2="680.7" stroke="#444" stroke-width="0.4"/>
<line x1="97.10" x2="97.10" y1="679.2" y2="680.7" stroke="#444" stroke-width="0.4"/>
<line x1="94.30" x2="94.30" y1="679.2" y2="680.7" stroke="#444" stroke-width="0.4"/>
<line x1="91.50" x2="91.50" y1="679.2" y2="680.7" stroke="#444" stroke-width="0.4"/>
<rect x="110.9" y="679.5" width="6" height="2.2" fill="#111"/>
<defs><radialGradient id="g158_638"><stop offset="0" stop-color="#111" stop-opacity="1.00"/><stop offset="0.5" stop-color="#111" stop-opacity="0.60"/><stop offset="1" stop-color="#111" stop-opacity="0"/></radialGradient></defs>
<ellipse cx="158.9" cy="638.5" rx="6.7" ry="6.7" fill="url(#g158_638)"/>
<ellipse cx="158.00" cy="638.50" rx="8.40" ry="8.40" fill="none" stroke="#111" stroke-width="0.4" stroke-opacity="0.85"/>
<ellipse cx="158.22" cy="638.50" rx="7.48" ry="7.48" fill="none" stroke="#111" stroke-width="0.4" stroke-opacity="0.85"/>
<ellipse cx="158.44" cy="638.50" rx="6.59" ry="6.59" fill="none" stroke="#111" stroke-width="0.4" stroke-opacity="0.85"/>
<ellipse cx="158.65" cy="638.50" rx="5.74" ry="5.74" fill="none" stroke="#111" stroke-width="0.4" stroke-opacity="0.85"/>
<ellipse cx="158.84" cy="638.50" rx="4.93" ry="4.93" fill="none" stroke="#111" stroke-width="0.4" stroke-opacity="0.85"/>
<ellipse cx="159.03" cy="638.50" rx="4.17" ry="4.17" fill="none" stroke="#111" stroke-width="0.4" stroke-opacity="0.85"/>
<ellipse cx="159.20" cy="638.50" rx="3.46" ry="3.46" fill="none" stroke="#111" stroke-width="0.4" stroke-opacity="0.85"/>
<ellipse cx="159.36" cy="638.50" rx="2.80" ry="2.80" fill="none" stroke="#111" stroke-width="0.4" stroke-opacity="0.85"/>
<ellipse cx="159.51" cy="638.50" rx="2.21" ry="2.21" fill="none" stroke="#111" stroke-width="0.4" stroke-opacity="0.85"/>
<ellipse cx="159.63" cy="638.50" rx="1.69" ry="1.69" fill="none" stroke="#111" stroke-width="0.4" stroke-opacity="0.85"/>
<ellipse cx="159.74" cy="638.50" rx="1.27" ry="1.27" fill="none" stroke="#111" stroke-width="0.4" stroke-opacity="0.85"/>
<circle cx="159.8" cy="638.5" r="0.7" fill="#fff" opacity="0.8"/>
<rect x="161.2" y="617.6" width="34.2" height="37.8" fill="none" stroke="#222" stroke-width="0.9"/>
<text x="180.4" y="613.2" font-size="9" text-anchor="middle">7.89</text>
<text x="92.8" y="705.2" font-size="9.4">GZMB (FITC)</text>
<line x1="157.7" x2="192.0" y1="702.0" y2="702.0" stroke="#222" stroke-width="0.8"/><path d="M196.0 702.0l-4.8 -2v4z" fill="#222"/>
<rect x="232.6" y="566.4" width="114.0" height="112.8" fill="none" stroke="#b0b0b0" stroke-width="0.7"/>
<path d="M232.6 566.4V679.2H346.6" stroke="#222" stroke-width="0.8" fill="none"/>
<line x1="229.8" x2="232.6" y1="569.9" y2="569.9" stroke="#222" stroke-width="0.7"/>
<text x="229.4" y="572.3" font-size="6.7" text-anchor="end">1.0M</text>
<line x1="231.2" x2="232.6" y1="573.82" y2="573.82" stroke="#444" stroke-width="0.4"/>
<line x1="231.2" x2="232.6" y1="577.74" y2="577.74" stroke="#444" stroke-width="0.4"/>
<line x1="231.2" x2="232.6" y1="581.66" y2="581.66" stroke="#444" stroke-width="0.4"/>
<line x1="231.2" x2="232.6" y1="585.58" y2="585.58" stroke="#444" stroke-width="0.4"/>
<line x1="229.8" x2="232.6" y1="589.5" y2="589.5" stroke="#222" stroke-width="0.7"/>
<text x="229.4" y="591.9" font-size="6.7" text-anchor="end">800K</text>
<line x1="231.2" x2="232.6" y1="593.92" y2="593.92" stroke="#444" stroke-width="0.4"/>
<line x1="231.2" x2="232.6" y1="598.34" y2="598.34" stroke="#444" stroke-width="0.4"/>
<line x1="231.2" x2="232.6" y1="602.76" y2="602.76" stroke="#444" stroke-width="0.4"/>
<line x1="231.2" x2="232.6" y1="607.18" y2="607.18" stroke="#444" stroke-width="0.4"/>
<line x1="229.8" x2="232.6" y1="611.6" y2="611.6" stroke="#222" stroke-width="0.7"/>
<text x="229.4" y="614.0" font-size="6.7" text-anchor="end">600K</text>
<line x1="231.2" x2="232.6" y1="615.98" y2="615.98" stroke="#444" stroke-width="0.4"/>
<line x1="231.2" x2="232.6" y1="620.36" y2="620.36" stroke="#444" stroke-width="0.4"/>
<line x1="231.2" x2="232.6" y1="624.74" y2="624.74" stroke="#444" stroke-width="0.4"/>
<line x1="231.2" x2="232.6" y1="629.12" y2="629.12" stroke="#444" stroke-width="0.4"/>
<line x1="229.8" x2="232.6" y1="633.5" y2="633.5" stroke="#222" stroke-width="0.7"/>
<text x="229.4" y="635.9" font-size="6.7" text-anchor="end">400K</text>
<line x1="231.2" x2="232.6" y1="637.90" y2="637.90" stroke="#444" stroke-width="0.4"/>
<line x1="231.2" x2="232.6" y1="642.30" y2="642.30" stroke="#444" stroke-width="0.4"/>
<line x1="231.2" x2="232.6" y1="646.70" y2="646.70" stroke="#444" stroke-width="0.4"/>
<line x1="231.2" x2="232.6" y1="651.10" y2="651.10" stroke="#444" stroke-width="0.4"/>
<line x1="229.8" x2="232.6" y1="655.5" y2="655.5" stroke="#222" stroke-width="0.7"/>
<text x="229.4" y="657.9" font-size="6.7" text-anchor="end">200K</text>
<line x1="231.2" x2="232.6" y1="659.78" y2="659.78" stroke="#444" stroke-width="0.4"/>
<line x1="231.2" x2="232.6" y1="664.06" y2="664.06" stroke="#444" stroke-width="0.4"/>
<line x1="231.2" x2="232.6" y1="668.34" y2="668.34" stroke="#444" stroke-width="0.4"/>
<line x1="231.2" x2="232.6" y1="672.62" y2="672.62" stroke="#444" stroke-width="0.4"/>
<line x1="229.8" x2="232.6" y1="676.9" y2="676.9" stroke="#222" stroke-width="0.7"/>
<text x="229.4" y="679.3" font-size="6.7" text-anchor="end">0</text>
<line x1="258.8" x2="258.8" y1="679.2" y2="681.8" stroke="#222" stroke-width="0.7"/>
<text x="258.8" y="691.0" font-size="6.8" text-anchor="middle">0</text>
<line x1="288.8" x2="288.8" y1="679.2" y2="681.8" stroke="#222" stroke-width="0.7"/>
<text x="288.8" y="691.0" font-size="6.8" text-anchor="middle">10<tspan font-size="4.6" dy="-2.8">3</tspan></text>
<line x1="322.7" x2="322.7" y1="679.2" y2="681.8" stroke="#222" stroke-width="0.7"/>
<text x="322.7" y="691.0" font-size="6.8" text-anchor="middle">10<tspan font-size="4.6" dy="-2.8">4</tspan></text>
<line x1="299.00" x2="299.00" y1="679.2" y2="680.7" stroke="#444" stroke-width="0.4"/>
<line x1="332.90" x2="332.90" y1="679.2" y2="680.7" stroke="#444" stroke-width="0.4"/>
<line x1="281.58" x2="281.58" y1="679.2" y2="680.7" stroke="#444" stroke-width="0.4"/>
<line x1="304.97" x2="304.97" y1="679.2" y2="680.7" stroke="#444" stroke-width="0.4"/>
<line x1="338.87" x2="338.87" y1="679.2" y2="680.7" stroke="#444" stroke-width="0.4"/>
<line x1="277.35" x2="277.35" y1="679.2" y2="680.7" stroke="#444" stroke-width="0.4"/>
<line x1="309.21" x2="309.21" y1="679.2" y2="680.7" stroke="#444" stroke-width="0.4"/>
<line x1="343.11" x2="343.11" y1="679.2" y2="680.7" stroke="#444" stroke-width="0.4"/>
<line x1="274.35" x2="274.35" y1="679.2" y2="680.7" stroke="#444" stroke-width="0.4"/>
<line x1="312.50" x2="312.50" y1="679.2" y2="680.7" stroke="#444" stroke-width="0.4"/>
<line x1="346.40" x2="346.40" y1="679.2" y2="680.7" stroke="#444" stroke-width="0.4"/>
<line x1="272.02" x2="272.02" y1="679.2" y2="680.7" stroke="#444" stroke-width="0.4"/>
<line x1="315.18" x2="315.18" y1="679.2" y2="680.7" stroke="#444" stroke-width="0.4"/>
<line x1="270.12" x2="270.12" y1="679.2" y2="680.7" stroke="#444" stroke-width="0.4"/>
<line x1="317.45" x2="317.45" y1="679.2" y2="680.7" stroke="#444" stroke-width="0.4"/>
<line x1="268.52" x2="268.52" y1="679.2" y2="680.7" stroke="#444" stroke-width="0.4"/>
<line x1="319.41" x2="319.41" y1="679.2" y2="680.7" stroke="#444" stroke-width="0.4"/>
<line x1="267.13" x2="267.13" y1="679.2" y2="680.7" stroke="#444" stroke-width="0.4"/>
<line x1="321.15" x2="321.15" y1="679.2" y2="680.7" stroke="#444" stroke-width="0.4"/>
<line x1="265.90" x2="265.90" y1="679.2" y2="680.7" stroke="#444" stroke-width="0.4"/>
<line x1="256.00" x2="256.00" y1="679.2" y2="680.7" stroke="#444" stroke-width="0.4"/>
<line x1="253.20" x2="253.20" y1="679.2" y2="680.7" stroke="#444" stroke-width="0.4"/>
<line x1="250.40" x2="250.40" y1="679.2" y2="680.7" stroke="#444" stroke-width="0.4"/>
<line x1="247.60" x2="247.60" y1="679.2" y2="680.7" stroke="#444" stroke-width="0.4"/>
<line x1="244.80" x2="244.80" y1="679.2" y2="680.7" stroke="#444" stroke-width="0.4"/>
<line x1="242.00" x2="242.00" y1="679.2" y2="680.7" stroke="#444" stroke-width="0.4"/>
<line x1="239.20" x2="239.20" y1="679.2" y2="680.7" stroke="#444" stroke-width="0.4"/>
<line x1="236.40" x2="236.40" y1="679.2" y2="680.7" stroke="#444" stroke-width="0.4"/>
<rect x="255.8" y="679.5" width="6" height="2.2" fill="#111"/>
<defs><radialGradient id="g288_638"><stop offset="0" stop-color="#111" stop-opacity="0.95"/><stop offset="0.5" stop-color="#111" stop-opacity="0.57"/><stop offset="1" stop-color="#111" stop-opacity="0"/></radialGradient></defs>
<ellipse cx="290.2" cy="638.6" rx="12.0" ry="8.0" fill="url(#g288_638)"/>
<ellipse cx="288.50" cy="638.60" rx="15.00" ry="10.00" fill="none" stroke="#111" stroke-width="0.4" stroke-opacity="0.85"/>
<ellipse cx="288.90" cy="638.60" rx="13.49" ry="8.99" fill="none" stroke="#111" stroke-width="0.4" stroke-opacity="0.85"/>
<ellipse cx="289.29" cy="638.60" rx="12.03" ry="8.02" fill="none" stroke="#111" stroke-width="0.4" stroke-opacity="0.85"/>
<ellipse cx="289.66" cy="638.60" rx="10.62" ry="7.08" fill="none" stroke="#111" stroke-width="0.4" stroke-opacity="0.85"/>
<ellipse cx="290.02" cy="638.60" rx="9.28" ry="6.19" fill="none" stroke="#111" stroke-width="0.4" stroke-opacity="0.85"/>
<ellipse cx="290.35" cy="638.60" rx="8.01" ry="5.34" fill="none" stroke="#111" stroke-width="0.4" stroke-opacity="0.85"/>
<ellipse cx="290.67" cy="638.60" rx="6.80" ry="4.53" fill="none" stroke="#111" stroke-width="0.4" stroke-opacity="0.85"/>
<ellipse cx="290.97" cy="638.60" rx="5.68" ry="3.78" fill="none" stroke="#111" stroke-width="0.4" stroke-opacity="0.85"/>
<ellipse cx="291.25" cy="638.60" rx="4.64" ry="3.09" fill="none" stroke="#111" stroke-width="0.4" stroke-opacity="0.85"/>
<ellipse cx="291.50" cy="638.60" rx="3.70" ry="2.46" fill="none" stroke="#111" stroke-width="0.4" stroke-opacity="0.85"/>
<ellipse cx="291.72" cy="638.60" rx="2.87" ry="1.92" fill="none" stroke="#111" stroke-width="0.4" stroke-opacity="0.85"/>
<ellipse cx="291.89" cy="638.60" rx="2.21" ry="1.47" fill="none" stroke="#111" stroke-width="0.4" stroke-opacity="0.85"/>
<circle cx="292.0" cy="638.6" r="0.7" fill="#fff" opacity="0.8"/>
<rect x="295.4" y="616.3" width="38.3" height="42.5" fill="none" stroke="#222" stroke-width="0.9"/>
<text x="314.5" y="612.6" font-size="9" text-anchor="middle">8.26</text>
<text x="238.0" y="705.2" font-size="9.4">IFN-γ (APC)</text>
<line x1="297.2" x2="332.0" y1="702.0" y2="702.0" stroke="#222" stroke-width="0.8"/><path d="M336.0 702.0l-4.8 -2v4z" fill="#222"/>
<rect x="377.1" y="566.4" width="114.6" height="112.8" fill="none" stroke="#b0b0b0" stroke-width="0.7"/>
<path d="M377.1 566.4V679.2H491.7" stroke="#222" stroke-width="0.8" fill="none"/>
<line x1="374.3" x2="377.1" y1="569.9" y2="569.9" stroke="#222" stroke-width="0.7"/>
<text x="373.9" y="572.3" font-size="6.7" text-anchor="end">1.0M</text>
<line x1="375.7" x2="377.1" y1="573.82" y2="573.82" stroke="#444" stroke-width="0.4"/>
<line x1="375.7" x2="377.1" y1="577.74" y2="577.74" stroke="#444" stroke-width="0.4"/>
<line x1="375.7" x2="377.1" y1="581.66" y2="581.66" stroke="#444" stroke-width="0.4"/>
<line x1="375.7" x2="377.1" y1="585.58" y2="585.58" stroke="#444" stroke-width="0.4"/>
<line x1="374.3" x2="377.1" y1="589.5" y2="589.5" stroke="#222" stroke-width="0.7"/>
<text x="373.9" y="591.9" font-size="6.7" text-anchor="end">800K</text>
<line x1="375.7" x2="377.1" y1="593.92" y2="593.92" stroke="#444" stroke-width="0.4"/>
<line x1="375.7" x2="377.1" y1="598.34" y2="598.34" stroke="#444" stroke-width="0.4"/>
<line x1="375.7" x2="377.1" y1="602.76" y2="602.76" stroke="#444" stroke-width="0.4"/>
<line x1="375.7" x2="377.1" y1="607.18" y2="607.18" stroke="#444" stroke-width="0.4"/>
<line x1="374.3" x2="377.1" y1="611.6" y2="611.6" stroke="#222" stroke-width="0.7"/>
<text x="373.9" y="614.0" font-size="6.7" text-anchor="end">600K</text>
<line x1="375.7" x2="377.1" y1="615.98" y2="615.98" stroke="#444" stroke-width="0.4"/>
<line x1="375.7" x2="377.1" y1="620.36" y2="620.36" stroke="#444" stroke-width="0.4"/>
<line x1="375.7" x2="377.1" y1="624.74" y2="624.74" stroke="#444" stroke-width="0.4"/>
<line x1="375.7" x2="377.1" y1="629.12" y2="629.12" stroke="#444" stroke-width="0.4"/>
<line x1="374.3" x2="377.1" y1="633.5" y2="633.5" stroke="#222" stroke-width="0.7"/>
<text x="373.9" y="635.9" font-size="6.7" text-anchor="end">400K</text>
<line x1="375.7" x2="377.1" y1="637.90" y2="637.90" stroke="#444" stroke-width="0.4"/>
<line x1="375.7" x2="377.1" y1="642.30" y2="642.30" stroke="#444" stroke-width="0.4"/>
<line x1="375.7" x2="377.1" y1="646.70" y2="646.70" stroke="#444" stroke-width="0.4"/>
<line x1="375.7" x2="377.1" y1="651.10" y2="651.10" stroke="#444" stroke-width="0.4"/>
<line x1="374.3" x2="377.1" y1="655.5" y2="655.5" stroke="#222" stroke-width="0.7"/>
<text x="373.9" y="657.9" font-size="6.7" text-anchor="end">200K</text>
<line x1="375.7" x2="377.1" y1="659.78" y2="659.78" stroke="#444" stroke-width="0.4"/>
<line x1="375.7" x2="377.1" y1="664.06" y2="664.06" stroke="#444" stroke-width="0.4"/>
<line x1="375.7" x2="377.1" y1="668.34" y2="668.34" stroke="#444" stroke-width="0.4"/>
<line x1="375.7" x2="377.1" y1="672.62" y2="672.62" stroke="#444" stroke-width="0.4"/>
<line x1="374.3" x2="377.1" y1="676.9" y2="676.9" stroke="#222" stroke-width="0.7"/>
<text x="373.9" y="679.3" font-size="6.7" text-anchor="end">0</text>
<line x1="405.3" x2="405.3" y1="679.2" y2="681.8" stroke="#222" stroke-width="0.7"/>
<text x="405.3" y="691.0" font-size="6.8" text-anchor="middle">0</text>
<line x1="441.3" x2="441.3" y1="679.2" y2="681.8" stroke="#222" stroke-width="0.7"/>
<text x="441.3" y="691.0" font-size="6.8" text-anchor="middle">10<tspan font-size="4.6" dy="-2.8">3</tspan></text>
<line x1="481.4" x2="481.4" y1="679.2" y2="681.8" stroke="#222" stroke-width="0.7"/>
<text x="481.4" y="691.0" font-size="6.8" text-anchor="middle">10<tspan font-size="4.6" dy="-2.8">4</tspan></text>
<line x1="453.37" x2="453.37" y1="679.2" y2="680.7" stroke="#444" stroke-width="0.4"/>
<line x1="432.63" x2="432.63" y1="679.2" y2="680.7" stroke="#444" stroke-width="0.4"/>
<line x1="460.43" x2="460.43" y1="679.2" y2="680.7" stroke="#444" stroke-width="0.4"/>
<line x1="427.56" x2="427.56" y1="679.2" y2="680.7" stroke="#444" stroke-width="0.4"/>
<line x1="465.44" x2="465.44" y1="679.2" y2="680.7" stroke="#444" stroke-width="0.4"/>
<line x1="423.96" x2="423.96" y1="679.2" y2="680.7" stroke="#444" stroke-width="0.4"/>
<line x1="469.33" x2="469.33" y1="679.2" y2="680.7" stroke="#444" stroke-width="0.4"/>
<line x1="421.17" x2="421.17" y1="679.2" y2="680.7" stroke="#444" stroke-width="0.4"/>
<line x1="472.50" x2="472.50" y1="679.2" y2="680.7" stroke="#444" stroke-width="0.4"/>
<line x1="418.89" x2="418.89" y1="679.2" y2="680.7" stroke="#444" stroke-width="0.4"/>
<line x1="475.19" x2="475.19" y1="679.2" y2="680.7" stroke="#444" stroke-width="0.4"/>
<line x1="416.96" x2="416.96" y1="679.2" y2="680.7" stroke="#444" stroke-width="0.4"/>
<line x1="477.51" x2="477.51" y1="679.2" y2="680.7" stroke="#444" stroke-width="0.4"/>
<line x1="415.29" x2="415.29" y1="679.2" y2="680.7" stroke="#444" stroke-width="0.4"/>
<line x1="479.57" x2="479.57" y1="679.2" y2="680.7" stroke="#444" stroke-width="0.4"/>
<line x1="413.82" x2="413.82" y1="679.2" y2="680.7" stroke="#444" stroke-width="0.4"/>
<line x1="402.50" x2="402.50" y1="679.2" y2="680.7" stroke="#444" stroke-width="0.4"/>
<line x1="399.70" x2="399.70" y1="679.2" y2="680.7" stroke="#444" stroke-width="0.4"/>
<line x1="396.90" x2="396.90" y1="679.2" y2="680.7" stroke="#444" stroke-width="0.4"/>
<line x1="394.10" x2="394.10" y1="679.2" y2="680.7" stroke="#444" stroke-width="0.4"/>
<line x1="391.30" x2="391.30" y1="679.2" y2="680.7" stroke="#444" stroke-width="0.4"/>
<line x1="388.50" x2="388.50" y1="679.2" y2="680.7" stroke="#444" stroke-width="0.4"/>
<line x1="385.70" x2="385.70" y1="679.2" y2="680.7" stroke="#444" stroke-width="0.4"/>
<line x1="382.90" x2="382.90" y1="679.2" y2="680.7" stroke="#444" stroke-width="0.4"/>
<rect x="402.3" y="679.5" width="6" height="2.2" fill="#111"/>
<defs><radialGradient id="g448_638"><stop offset="0" stop-color="#111" stop-opacity="1.00"/><stop offset="0.5" stop-color="#111" stop-opacity="0.60"/><stop offset="1" stop-color="#111" stop-opacity="0"/></radialGradient></defs>
<ellipse cx="448.8" cy="638.3" rx="7.2" ry="7.2" fill="url(#g448_638)"/>
<ellipse cx="448.00" cy="638.30" rx="9.00" ry="9.00" fill="none" stroke="#111" stroke-width="0.4" stroke-opacity="0.85"/>
<ellipse cx="448.18" cy="638.30" rx="8.09" ry="8.09" fill="none" stroke="#111" stroke-width="0.4" stroke-opacity="0.85"/>
<ellipse cx="448.36" cy="638.30" rx="7.22" ry="7.22" fill="none" stroke="#111" stroke-width="0.4" stroke-opacity="0.85"/>
<ellipse cx="448.53" cy="638.30" rx="6.37" ry="6.37" fill="none" stroke="#111" stroke-width="0.4" stroke-opacity="0.85"/>
<ellipse cx="448.69" cy="638.30" rx="5.57" ry="5.57" fill="none" stroke="#111" stroke-width="0.4" stroke-opacity="0.85"/>
<ellipse cx="448.85" cy="638.30" rx="4.80" ry="4.80" fill="none" stroke="#111" stroke-width="0.4" stroke-opacity="0.85"/>
<ellipse cx="448.99" cy="638.30" rx="4.08" ry="4.08" fill="none" stroke="#111" stroke-width="0.4" stroke-opacity="0.85"/>
<ellipse cx="449.13" cy="638.30" rx="3.41" ry="3.41" fill="none" stroke="#111" stroke-width="0.4" stroke-opacity="0.85"/>
<ellipse cx="449.26" cy="638.30" rx="2.78" ry="2.78" fill="none" stroke="#111" stroke-width="0.4" stroke-opacity="0.85"/>
<ellipse cx="449.37" cy="638.30" rx="2.22" ry="2.22" fill="none" stroke="#111" stroke-width="0.4" stroke-opacity="0.85"/>
<ellipse cx="449.47" cy="638.30" rx="1.72" ry="1.72" fill="none" stroke="#111" stroke-width="0.4" stroke-opacity="0.85"/>
<ellipse cx="449.55" cy="638.30" rx="1.32" ry="1.32" fill="none" stroke="#111" stroke-width="0.4" stroke-opacity="0.85"/>
<circle cx="449.6" cy="638.3" r="0.7" fill="#fff" opacity="0.8"/>
<rect x="452.5" y="613.8" width="31.2" height="45.6" fill="none" stroke="#222" stroke-width="0.9"/>
<text x="468.6" y="607.9" font-size="9" text-anchor="middle">9.33</text>
<text x="375.5" y="705.2" font-size="9.4">TNF (PE/CY7)</text>
<line x1="447.7" x2="481.6" y1="702.0" y2="702.0" stroke="#222" stroke-width="0.8"/><path d="M485.6 702.0l-4.8 -2v4z" fill="#222"/>
<rect x="88.4" y="722.4" width="114.2" height="113.0" fill="none" stroke="#b0b0b0" stroke-width="0.7"/>
<path d="M88.4 722.4V835.4H202.6" stroke="#222" stroke-width="0.8" fill="none"/>
<line x1="85.6" x2="88.4" y1="725.5" y2="725.5" stroke="#222" stroke-width="0.7"/>
<text x="85.2" y="727.9" font-size="6.7" text-anchor="end">1.0M</text>
<line x1="87.0" x2="88.4" y1="729.68" y2="729.68" stroke="#444" stroke-width="0.4"/>
<line x1="87.0" x2="88.4" y1="733.86" y2="733.86" stroke="#444" stroke-width="0.4"/>
<line x1="87.0" x2="88.4" y1="738.04" y2="738.04" stroke="#444" stroke-width="0.4"/>
<line x1="87.0" x2="88.4" y1="742.22" y2="742.22" stroke="#444" stroke-width="0.4"/>
<line x1="85.6" x2="88.4" y1="746.4" y2="746.4" stroke="#222" stroke-width="0.7"/>
<text x="85.2" y="748.8" font-size="6.7" text-anchor="end">800K</text>
<line x1="87.0" x2="88.4" y1="750.70" y2="750.70" stroke="#444" stroke-width="0.4"/>
<line x1="87.0" x2="88.4" y1="755.00" y2="755.00" stroke="#444" stroke-width="0.4"/>
<line x1="87.0" x2="88.4" y1="759.30" y2="759.30" stroke="#444" stroke-width="0.4"/>
<line x1="87.0" x2="88.4" y1="763.60" y2="763.60" stroke="#444" stroke-width="0.4"/>
<line x1="85.6" x2="88.4" y1="767.9" y2="767.9" stroke="#222" stroke-width="0.7"/>
<text x="85.2" y="770.3" font-size="6.7" text-anchor="end">600K</text>
<line x1="87.0" x2="88.4" y1="772.28" y2="772.28" stroke="#444" stroke-width="0.4"/>
<line x1="87.0" x2="88.4" y1="776.66" y2="776.66" stroke="#444" stroke-width="0.4"/>
<line x1="87.0" x2="88.4" y1="781.04" y2="781.04" stroke="#444" stroke-width="0.4"/>
<line x1="87.0" x2="88.4" y1="785.42" y2="785.42" stroke="#444" stroke-width="0.4"/>
<line x1="85.6" x2="88.4" y1="789.8" y2="789.8" stroke="#222" stroke-width="0.7"/>
<text x="85.2" y="792.2" font-size="6.7" text-anchor="end">400K</text>
<line x1="87.0" x2="88.4" y1="794.18" y2="794.18" stroke="#444" stroke-width="0.4"/>
<line x1="87.0" x2="88.4" y1="798.56" y2="798.56" stroke="#444" stroke-width="0.4"/>
<line x1="87.0" x2="88.4" y1="802.94" y2="802.94" stroke="#444" stroke-width="0.4"/>
<line x1="87.0" x2="88.4" y1="807.32" y2="807.32" stroke="#444" stroke-width="0.4"/>
<line x1="85.6" x2="88.4" y1="811.7" y2="811.7" stroke="#222" stroke-width="0.7"/>
<text x="85.2" y="814.1" font-size="6.7" text-anchor="end">200K</text>
<line x1="87.0" x2="88.4" y1="816.08" y2="816.08" stroke="#444" stroke-width="0.4"/>
<line x1="87.0" x2="88.4" y1="820.46" y2="820.46" stroke="#444" stroke-width="0.4"/>
<line x1="87.0" x2="88.4" y1="824.84" y2="824.84" stroke="#444" stroke-width="0.4"/>
<line x1="87.0" x2="88.4" y1="829.22" y2="829.22" stroke="#444" stroke-width="0.4"/>
<line x1="85.6" x2="88.4" y1="833.6" y2="833.6" stroke="#222" stroke-width="0.7"/>
<text x="85.2" y="836.0" font-size="6.7" text-anchor="end">0</text>
<line x1="115.0" x2="115.0" y1="835.4" y2="838.0" stroke="#222" stroke-width="0.7"/>
<text x="115.0" y="847.2" font-size="6.8" text-anchor="middle">0</text>
<line x1="146.0" x2="146.0" y1="835.4" y2="838.0" stroke="#222" stroke-width="0.7"/>
<text x="146.0" y="847.2" font-size="6.8" text-anchor="middle">10<tspan font-size="4.6" dy="-2.8">3</tspan></text>
<line x1="181.4" x2="181.4" y1="835.4" y2="838.0" stroke="#222" stroke-width="0.7"/>
<text x="181.4" y="847.2" font-size="6.8" text-anchor="middle">10<tspan font-size="4.6" dy="-2.8">4</tspan></text>
<line x1="156.66" x2="156.66" y1="835.4" y2="836.9" stroke="#444" stroke-width="0.4"/>
<line x1="192.06" x2="192.06" y1="835.4" y2="836.9" stroke="#444" stroke-width="0.4"/>
<line x1="138.53" x2="138.53" y1="835.4" y2="836.9" stroke="#444" stroke-width="0.4"/>
<line x1="162.89" x2="162.89" y1="835.4" y2="836.9" stroke="#444" stroke-width="0.4"/>
<line x1="198.29" x2="198.29" y1="835.4" y2="836.9" stroke="#444" stroke-width="0.4"/>
<line x1="134.17" x2="134.17" y1="835.4" y2="836.9" stroke="#444" stroke-width="0.4"/>
<line x1="167.31" x2="167.31" y1="835.4" y2="836.9" stroke="#444" stroke-width="0.4"/>
<line x1="131.07" x2="131.07" y1="835.4" y2="836.9" stroke="#444" stroke-width="0.4"/>
<line x1="170.74" x2="170.74" y1="835.4" y2="836.9" stroke="#444" stroke-width="0.4"/>
<line x1="128.67" x2="128.67" y1="835.4" y2="836.9" stroke="#444" stroke-width="0.4"/>
<line x1="173.55" x2="173.55" y1="835.4" y2="836.9" stroke="#444" stroke-width="0.4"/>
<line x1="126.70" x2="126.70" y1="835.4" y2="836.9" stroke="#444" stroke-width="0.4"/>
<line x1="175.92" x2="175.92" y1="835.4" y2="836.9" stroke="#444" stroke-width="0.4"/>
<line x1="125.04" x2="125.04" y1="835.4" y2="836.9" stroke="#444" stroke-width="0.4"/>
<line x1="177.97" x2="177.97" y1="835.4" y2="836.9" stroke="#444" stroke-width="0.4"/>
<line x1="123.60" x2="123.60" y1="835.4" y2="836.9" stroke="#444" stroke-width="0.4"/>
<line x1="179.78" x2="179.78" y1="835.4" y2="836.9" stroke="#444" stroke-width="0.4"/>
<line x1="122.33" x2="122.33" y1="835.4" y2="836.9" stroke="#444" stroke-width="0.4"/>
<line x1="112.20" x2="112.20" y1="835.4" y2="836.9" stroke="#444" stroke-width="0.4"/>
<line x1="109.40" x2="109.40" y1="835.4" y2="836.9" stroke="#444" stroke-width="0.4"/>
<line x1="106.60" x2="106.60" y1="835.4" y2="836.9" stroke="#444" stroke-width="0.4"/>
<line x1="103.80" x2="103.80" y1="835.4" y2="836.9" stroke="#444" stroke-width="0.4"/>
<line x1="101.00" x2="101.00" y1="835.4" y2="836.9" stroke="#444" stroke-width="0.4"/>
<line x1="98.20" x2="98.20" y1="835.4" y2="836.9" stroke="#444" stroke-width="0.4"/>
<line x1="95.40" x2="95.40" y1="835.4" y2="836.9" stroke="#444" stroke-width="0.4"/>
<line x1="92.60" x2="92.60" y1="835.4" y2="836.9" stroke="#444" stroke-width="0.4"/>
<rect x="112.0" y="835.7" width="6" height="2.2" fill="#111"/>
<defs><radialGradient id="g158_796"><stop offset="0" stop-color="#ec1c6e" stop-opacity="1.00"/><stop offset="0.5" stop-color="#ec1c6e" stop-opacity="0.60"/><stop offset="1" stop-color="#ec1c6e" stop-opacity="0"/></radialGradient></defs>
<ellipse cx="159.0" cy="796.6" rx="6.9" ry="7.2" fill="url(#g158_796)"/>
<ellipse cx="158.30" cy="796.60" rx="8.60" ry="9.00" fill="none" stroke="#ec1c6e" stroke-width="0.4" stroke-opacity="0.85"/>
<ellipse cx="158.51" cy="796.60" rx="7.45" ry="7.80" fill="none" stroke="#ec1c6e" stroke-width="0.4" stroke-opacity="0.85"/>
<ellipse cx="158.72" cy="796.60" rx="6.36" ry="6.65" fill="none" stroke="#ec1c6e" stroke-width="0.4" stroke-opacity="0.85"/>
<ellipse cx="158.91" cy="796.60" rx="5.32" ry="5.57" fill="none" stroke="#ec1c6e" stroke-width="0.4" stroke-opacity="0.85"/>
<ellipse cx="159.09" cy="796.60" rx="4.36" ry="4.56" fill="none" stroke="#ec1c6e" stroke-width="0.4" stroke-opacity="0.85"/>
<ellipse cx="159.25" cy="796.60" rx="3.46" ry="3.62" fill="none" stroke="#ec1c6e" stroke-width="0.4" stroke-opacity="0.85"/>
<ellipse cx="159.40" cy="796.60" rx="2.66" ry="2.78" fill="none" stroke="#ec1c6e" stroke-width="0.4" stroke-opacity="0.85"/>
<ellipse cx="159.53" cy="796.60" rx="1.95" ry="2.04" fill="none" stroke="#ec1c6e" stroke-width="0.4" stroke-opacity="0.85"/>
<ellipse cx="159.64" cy="796.60" rx="1.38" ry="1.45" fill="none" stroke="#ec1c6e" stroke-width="0.4" stroke-opacity="0.85"/>
<circle cx="159.7" cy="796.6" r="0.7" fill="#fff" opacity="0.8"/>
<rect x="161.4" y="774.5" width="33.9" height="37.6" fill="none" stroke="#222" stroke-width="0.9"/>
<text x="180.7" y="769.8" font-size="9" text-anchor="middle">14.7</text>
<text x="93.0" y="859.2" font-size="9.4">GZMB (FITC)</text>
<line x1="157.0" x2="190.0" y1="856.0" y2="856.0" stroke="#222" stroke-width="0.8"/><path d="M194.0 856.0l-4.8 -2v4z" fill="#222"/>
<rect x="231.5" y="722.4" width="115.2" height="113.0" fill="none" stroke="#b0b0b0" stroke-width="0.7"/>
<path d="M231.5 722.4V835.4H346.7" stroke="#222" stroke-width="0.8" fill="none"/>
<line x1="228.7" x2="231.5" y1="725.5" y2="725.5" stroke="#222" stroke-width="0.7"/>
<text x="228.3" y="727.9" font-size="6.7" text-anchor="end">1.0M</text>
<line x1="230.1" x2="231.5" y1="729.68" y2="729.68" stroke="#444" stroke-width="0.4"/>
<line x1="230.1" x2="231.5" y1="733.86" y2="733.86" stroke="#444" stroke-width="0.4"/>
<line x1="230.1" x2="231.5" y1="738.04" y2="738.04" stroke="#444" stroke-width="0.4"/>
<line x1="230.1" x2="231.5" y1="742.22" y2="742.22" stroke="#444" stroke-width="0.4"/>
<line x1="228.7" x2="231.5" y1="746.4" y2="746.4" stroke="#222" stroke-width="0.7"/>
<text x="228.3" y="748.8" font-size="6.7" text-anchor="end">800K</text>
<line x1="230.1" x2="231.5" y1="750.70" y2="750.70" stroke="#444" stroke-width="0.4"/>
<line x1="230.1" x2="231.5" y1="755.00" y2="755.00" stroke="#444" stroke-width="0.4"/>
<line x1="230.1" x2="231.5" y1="759.30" y2="759.30" stroke="#444" stroke-width="0.4"/>
<line x1="230.1" x2="231.5" y1="763.60" y2="763.60" stroke="#444" stroke-width="0.4"/>
<line x1="228.7" x2="231.5" y1="767.9" y2="767.9" stroke="#222" stroke-width="0.7"/>
<text x="228.3" y="770.3" font-size="6.7" text-anchor="end">600K</text>
<line x1="230.1" x2="231.5" y1="772.28" y2="772.28" stroke="#444" stroke-width="0.4"/>
<line x1="230.1" x2="231.5" y1="776.66" y2="776.66" stroke="#444" stroke-width="0.4"/>
<line x1="230.1" x2="231.5" y1="781.04" y2="781.04" stroke="#444" stroke-width="0.4"/>
<line x1="230.1" x2="231.5" y1="785.42" y2="785.42" stroke="#444" stroke-width="0.4"/>
<line x1="228.7" x2="231.5" y1="789.8" y2="789.8" stroke="#222" stroke-width="0.7"/>
<text x="228.3" y="792.2" font-size="6.7" text-anchor="end">400K</text>
<line x1="230.1" x2="231.5" y1="794.18" y2="794.18" stroke="#444" stroke-width="0.4"/>
<line x1="230.1" x2="231.5" y1="798.56" y2="798.56" stroke="#444" stroke-width="0.4"/>
<line x1="230.1" x2="231.5" y1="802.94" y2="802.94" stroke="#444" stroke-width="0.4"/>
<line x1="230.1" x2="231.5" y1="807.32" y2="807.32" stroke="#444" stroke-width="0.4"/>
<line x1="228.7" x2="231.5" y1="811.7" y2="811.7" stroke="#222" stroke-width="0.7"/>
<text x="228.3" y="814.1" font-size="6.7" text-anchor="end">200K</text>
<line x1="230.1" x2="231.5" y1="816.08" y2="816.08" stroke="#444" stroke-width="0.4"/>
<line x1="230.1" x2="231.5" y1="820.46" y2="820.46" stroke="#444" stroke-width="0.4"/>
<line x1="230.1" x2="231.5" y1="824.84" y2="824.84" stroke="#444" stroke-width="0.4"/>
<line x1="230.1" x2="231.5" y1="829.22" y2="829.22" stroke="#444" stroke-width="0.4"/>
<line x1="228.7" x2="231.5" y1="833.6" y2="833.6" stroke="#222" stroke-width="0.7"/>
<text x="228.3" y="836.0" font-size="6.7" text-anchor="end">0</text>
<line x1="259.0" x2="259.0" y1="835.4" y2="838.0" stroke="#222" stroke-width="0.7"/>
<text x="259.0" y="847.2" font-size="6.8" text-anchor="middle">0</text>
<line x1="289.5" x2="289.5" y1="835.4" y2="838.0" stroke="#222" stroke-width="0.7"/>
<text x="289.5" y="847.2" font-size="6.8" text-anchor="middle">10<tspan font-size="4.6" dy="-2.8">3</tspan></text>
<line x1="324.0" x2="324.0" y1="835.4" y2="838.0" stroke="#222" stroke-width="0.7"/>
<text x="324.0" y="847.2" font-size="6.8" text-anchor="middle">10<tspan font-size="4.6" dy="-2.8">4</tspan></text>
<line x1="299.89" x2="299.89" y1="835.4" y2="836.9" stroke="#444" stroke-width="0.4"/>
<line x1="334.39" x2="334.39" y1="835.4" y2="836.9" stroke="#444" stroke-width="0.4"/>
<line x1="282.15" x2="282.15" y1="835.4" y2="836.9" stroke="#444" stroke-width="0.4"/>
<line x1="305.96" x2="305.96" y1="835.4" y2="836.9" stroke="#444" stroke-width="0.4"/>
<line x1="340.46" x2="340.46" y1="835.4" y2="836.9" stroke="#444" stroke-width="0.4"/>
<line x1="277.86" x2="277.86" y1="835.4" y2="836.9" stroke="#444" stroke-width="0.4"/>
<line x1="310.27" x2="310.27" y1="835.4" y2="836.9" stroke="#444" stroke-width="0.4"/>
<line x1="344.77" x2="344.77" y1="835.4" y2="836.9" stroke="#444" stroke-width="0.4"/>
<line x1="274.81" x2="274.81" y1="835.4" y2="836.9" stroke="#444" stroke-width="0.4"/>
<line x1="313.61" x2="313.61" y1="835.4" y2="836.9" stroke="#444" stroke-width="0.4"/>
<line x1="272.45" x2="272.45" y1="835.4" y2="836.9" stroke="#444" stroke-width="0.4"/>
<line x1="316.35" x2="316.35" y1="835.4" y2="836.9" stroke="#444" stroke-width="0.4"/>
<line x1="270.51" x2="270.51" y1="835.4" y2="836.9" stroke="#444" stroke-width="0.4"/>
<line x1="318.66" x2="318.66" y1="835.4" y2="836.9" stroke="#444" stroke-width="0.4"/>
<line x1="268.88" x2="268.88" y1="835.4" y2="836.9" stroke="#444" stroke-width="0.4"/>
<line x1="320.66" x2="320.66" y1="835.4" y2="836.9" stroke="#444" stroke-width="0.4"/>
<line x1="267.46" x2="267.46" y1="835.4" y2="836.9" stroke="#444" stroke-width="0.4"/>
<line x1="322.42" x2="322.42" y1="835.4" y2="836.9" stroke="#444" stroke-width="0.4"/>
<line x1="266.22" x2="266.22" y1="835.4" y2="836.9" stroke="#444" stroke-width="0.4"/>
<line x1="256.20" x2="256.20" y1="835.4" y2="836.9" stroke="#444" stroke-width="0.4"/>
<line x1="253.40" x2="253.40" y1="835.4" y2="836.9" stroke="#444" stroke-width="0.4"/>
<line x1="250.60" x2="250.60" y1="835.4" y2="836.9" stroke="#444" stroke-width="0.4"/>
<line x1="247.80" x2="247.80" y1="835.4" y2="836.9" stroke="#444" stroke-width="0.4"/>
<line x1="245.00" x2="245.00" y1="835.4" y2="836.9" stroke="#444" stroke-width="0.4"/>
<line x1="242.20" x2="242.20" y1="835.4" y2="836.9" stroke="#444" stroke-width="0.4"/>
<line x1="239.40" x2="239.40" y1="835.4" y2="836.9" stroke="#444" stroke-width="0.4"/>
<line x1="236.60" x2="236.60" y1="835.4" y2="836.9" stroke="#444" stroke-width="0.4"/>
<rect x="256.0" y="835.7" width="6" height="2.2" fill="#111"/>
<defs><radialGradient id="g290_797"><stop offset="0" stop-color="#ec1c6e" stop-opacity="0.90"/><stop offset="0.5" stop-color="#ec1c6e" stop-opacity="0.54"/><stop offset="1" stop-color="#ec1c6e" stop-opacity="0"/></radialGradient></defs>
<ellipse cx="291.2" cy="797.2" rx="10.4" ry="7.7" fill="url(#g290_797)"/>
<ellipse cx="290.00" cy="797.20" rx="13.00" ry="9.60" fill="none" stroke="#ec1c6e" stroke-width="0.4" stroke-opacity="0.85"/>
<ellipse cx="290.38" cy="797.20" rx="11.26" ry="8.32" fill="none" stroke="#ec1c6e" stroke-width="0.4" stroke-opacity="0.85"/>
<ellipse cx="290.74" cy="797.20" rx="9.61" ry="7.09" fill="none" stroke="#ec1c6e" stroke-width="0.4" stroke-opacity="0.85"/>
<ellipse cx="291.08" cy="797.20" rx="8.04" ry="5.94" fill="none" stroke="#ec1c6e" stroke-width="0.4" stroke-opacity="0.85"/>
<ellipse cx="291.40" cy="797.20" rx="6.58" ry="4.86" fill="none" stroke="#ec1c6e" stroke-width="0.4" stroke-opacity="0.85"/>
<ellipse cx="291.70" cy="797.20" rx="5.24" ry="3.87" fill="none" stroke="#ec1c6e" stroke-width="0.4" stroke-opacity="0.85"/>
<ellipse cx="291.96" cy="797.20" rx="4.02" ry="2.97" fill="none" stroke="#ec1c6e" stroke-width="0.4" stroke-opacity="0.85"/>
<ellipse cx="292.20" cy="797.20" rx="2.95" ry="2.18" fill="none" stroke="#ec1c6e" stroke-width="0.4" stroke-opacity="0.85"/>
<ellipse cx="292.38" cy="797.20" rx="2.09" ry="1.54" fill="none" stroke="#ec1c6e" stroke-width="0.4" stroke-opacity="0.85"/>
<circle cx="292.5" cy="797.2" r="0.7" fill="#fff" opacity="0.8"/>
<rect x="295.5" y="773.1" width="38.1" height="42.9" fill="none" stroke="#222" stroke-width="0.9"/>
<text x="314.8" y="770.4" font-size="9" text-anchor="middle">13.2</text>
<text x="238.5" y="859.2" font-size="9.4">IFN-γ (APC)</text>
<line x1="298.6" x2="332.0" y1="856.0" y2="856.0" stroke="#222" stroke-width="0.8"/><path d="M336.0 856.0l-4.8 -2v4z" fill="#222"/>
<rect x="377.4" y="722.4" width="113.9" height="113.0" fill="none" stroke="#b0b0b0" stroke-width="0.7"/>
<path d="M377.4 722.4V835.4H491.3" stroke="#222" stroke-width="0.8" fill="none"/>
<line x1="374.6" x2="377.4" y1="725.5" y2="725.5" stroke="#222" stroke-width="0.7"/>
<text x="374.2" y="727.9" font-size="6.7" text-anchor="end">1.0M</text>
<line x1="376.0" x2="377.4" y1="729.68" y2="729.68" stroke="#444" stroke-width="0.4"/>
<line x1="376.0" x2="377.4" y1="733.86" y2="733.86" stroke="#444" stroke-width="0.4"/>
<line x1="376.0" x2="377.4" y1="738.04" y2="738.04" stroke="#444" stroke-width="0.4"/>
<line x1="376.0" x2="377.4" y1="742.22" y2="742.22" stroke="#444" stroke-width="0.4"/>
<line x1="374.6" x2="377.4" y1="746.4" y2="746.4" stroke="#222" stroke-width="0.7"/>
<text x="374.2" y="748.8" font-size="6.7" text-anchor="end">800K</text>
<line x1="376.0" x2="377.4" y1="750.70" y2="750.70" stroke="#444" stroke-width="0.4"/>
<line x1="376.0" x2="377.4" y1="755.00" y2="755.00" stroke="#444" stroke-width="0.4"/>
<line x1="376.0" x2="377.4" y1="759.30" y2="759.30" stroke="#444" stroke-width="0.4"/>
<line x1="376.0" x2="377.4" y1="763.60" y2="763.60" stroke="#444" stroke-width="0.4"/>
<line x1="374.6" x2="377.4" y1="767.9" y2="767.9" stroke="#222" stroke-width="0.7"/>
<text x="374.2" y="770.3" font-size="6.7" text-anchor="end">600K</text>
<line x1="376.0" x2="377.4" y1="772.28" y2="772.28" stroke="#444" stroke-width="0.4"/>
<line x1="376.0" x2="377.4" y1="776.66" y2="776.66" stroke="#444" stroke-width="0.4"/>
<line x1="376.0" x2="377.4" y1="781.04" y2="781.04" stroke="#444" stroke-width="0.4"/>
<line x1="376.0" x2="377.4" y1="785.42" y2="785.42" stroke="#444" stroke-width="0.4"/>
<line x1="374.6" x2="377.4" y1="789.8" y2="789.8" stroke="#222" stroke-width="0.7"/>
<text x="374.2" y="792.2" font-size="6.7" text-anchor="end">400K</text>
<line x1="376.0" x2="377.4" y1="794.18" y2="794.18" stroke="#444" stroke-width="0.4"/>
<line x1="376.0" x2="377.4" y1="798.56" y2="798.56" stroke="#444" stroke-width="0.4"/>
<line x1="376.0" x2="377.4" y1="802.94" y2="802.94" stroke="#444" stroke-width="0.4"/>
<line x1="376.0" x2="377.4" y1="807.32" y2="807.32" stroke="#444" stroke-width="0.4"/>
<line x1="374.6" x2="377.4" y1="811.7" y2="811.7" stroke="#222" stroke-width="0.7"/>
<text x="374.2" y="814.1" font-size="6.7" text-anchor="end">200K</text>
<line x1="376.0" x2="377.4" y1="816.08" y2="816.08" stroke="#444" stroke-width="0.4"/>
<line x1="376.0" x2="377.4" y1="820.46" y2="820.46" stroke="#444" stroke-width="0.4"/>
<line x1="376.0" x2="377.4" y1="824.84" y2="824.84" stroke="#444" stroke-width="0.4"/>
<line x1="376.0" x2="377.4" y1="829.22" y2="829.22" stroke="#444" stroke-width="0.4"/>
<line x1="374.6" x2="377.4" y1="833.6" y2="833.6" stroke="#222" stroke-width="0.7"/>
<text x="374.2" y="836.0" font-size="6.7" text-anchor="end">0</text>
<line x1="405.5" x2="405.5" y1="835.4" y2="838.0" stroke="#222" stroke-width="0.7"/>
<text x="405.5" y="847.2" font-size="6.8" text-anchor="middle">0</text>
<line x1="442.0" x2="442.0" y1="835.4" y2="838.0" stroke="#222" stroke-width="0.7"/>
<text x="442.0" y="847.2" font-size="6.8" text-anchor="middle">10<tspan font-size="4.6" dy="-2.8">3</tspan></text>
<line x1="481.5" x2="481.5" y1="835.4" y2="838.0" stroke="#222" stroke-width="0.7"/>
<text x="481.5" y="847.2" font-size="6.8" text-anchor="middle">10<tspan font-size="4.6" dy="-2.8">4</tspan></text>
<line x1="453.89" x2="453.89" y1="835.4" y2="836.9" stroke="#444" stroke-width="0.4"/>
<line x1="433.21" x2="433.21" y1="835.4" y2="836.9" stroke="#444" stroke-width="0.4"/>
<line x1="460.85" x2="460.85" y1="835.4" y2="836.9" stroke="#444" stroke-width="0.4"/>
<line x1="428.07" x2="428.07" y1="835.4" y2="836.9" stroke="#444" stroke-width="0.4"/>
<line x1="465.78" x2="465.78" y1="835.4" y2="836.9" stroke="#444" stroke-width="0.4"/>
<line x1="424.42" x2="424.42" y1="835.4" y2="836.9" stroke="#444" stroke-width="0.4"/>
<line x1="469.61" x2="469.61" y1="835.4" y2="836.9" stroke="#444" stroke-width="0.4"/>
<line x1="421.59" x2="421.59" y1="835.4" y2="836.9" stroke="#444" stroke-width="0.4"/>
<line x1="472.74" x2="472.74" y1="835.4" y2="836.9" stroke="#444" stroke-width="0.4"/>
<line x1="419.28" x2="419.28" y1="835.4" y2="836.9" stroke="#444" stroke-width="0.4"/>
<line x1="475.38" x2="475.38" y1="835.4" y2="836.9" stroke="#444" stroke-width="0.4"/>
<line x1="417.32" x2="417.32" y1="835.4" y2="836.9" stroke="#444" stroke-width="0.4"/>
<line x1="477.67" x2="477.67" y1="835.4" y2="836.9" stroke="#444" stroke-width="0.4"/>
<line x1="415.63" x2="415.63" y1="835.4" y2="836.9" stroke="#444" stroke-width="0.4"/>
<line x1="479.69" x2="479.69" y1="835.4" y2="836.9" stroke="#444" stroke-width="0.4"/>
<line x1="414.14" x2="414.14" y1="835.4" y2="836.9" stroke="#444" stroke-width="0.4"/>
<line x1="402.70" x2="402.70" y1="835.4" y2="836.9" stroke="#444" stroke-width="0.4"/>
<line x1="399.90" x2="399.90" y1="835.4" y2="836.9" stroke="#444" stroke-width="0.4"/>
<line x1="397.10" x2="397.10" y1="835.4" y2="836.9" stroke="#444" stroke-width="0.4"/>
<line x1="394.30" x2="394.30" y1="835.4" y2="836.9" stroke="#444" stroke-width="0.4"/>
<line x1="391.50" x2="391.50" y1="835.4" y2="836.9" stroke="#444" stroke-width="0.4"/>
<line x1="388.70" x2="388.70" y1="835.4" y2="836.9" stroke="#444" stroke-width="0.4"/>
<line x1="385.90" x2="385.90" y1="835.4" y2="836.9" stroke="#444" stroke-width="0.4"/>
<line x1="383.10" x2="383.10" y1="835.4" y2="836.9" stroke="#444" stroke-width="0.4"/>
<rect x="402.5" y="835.7" width="6" height="2.2" fill="#111"/>
<defs><radialGradient id="g448_797"><stop offset="0" stop-color="#ec1c6e" stop-opacity="1.00"/><stop offset="0.5" stop-color="#ec1c6e" stop-opacity="0.60"/><stop offset="1" stop-color="#ec1c6e" stop-opacity="0"/></radialGradient></defs>
<ellipse cx="449.5" cy="797.0" rx="7.8" ry="7.2" fill="url(#g448_797)"/>
<ellipse cx="448.80" cy="797.00" rx="9.80" ry="9.00" fill="none" stroke="#ec1c6e" stroke-width="0.4" stroke-opacity="0.85"/>
<ellipse cx="449.01" cy="797.00" rx="8.49" ry="7.80" fill="none" stroke="#ec1c6e" stroke-width="0.4" stroke-opacity="0.85"/>
<ellipse cx="449.22" cy="797.00" rx="7.24" ry="6.65" fill="none" stroke="#ec1c6e" stroke-width="0.4" stroke-opacity="0.85"/>
<ellipse cx="449.41" cy="797.00" rx="6.06" ry="5.57" fill="none" stroke="#ec1c6e" stroke-width="0.4" stroke-opacity="0.85"/>
<ellipse cx="449.59" cy="797.00" rx="4.96" ry="4.56" fill="none" stroke="#ec1c6e" stroke-width="0.4" stroke-opacity="0.85"/>
<ellipse cx="449.75" cy="797.00" rx="3.95" ry="3.62" fill="none" stroke="#ec1c6e" stroke-width="0.4" stroke-opacity="0.85"/>
<ellipse cx="449.90" cy="797.00" rx="3.03" ry="2.78" fill="none" stroke="#ec1c6e" stroke-width="0.4" stroke-opacity="0.85"/>
<ellipse cx="450.03" cy="797.00" rx="2.23" ry="2.04" fill="none" stroke="#ec1c6e" stroke-width="0.4" stroke-opacity="0.85"/>
<ellipse cx="450.14" cy="797.00" rx="1.57" ry="1.45" fill="none" stroke="#ec1c6e" stroke-width="0.4" stroke-opacity="0.85"/>
<circle cx="450.2" cy="797.0" r="0.7" fill="#fff" opacity="0.8"/>
<rect x="452.7" y="770.0" width="31.1" height="46.0" fill="none" stroke="#222" stroke-width="0.9"/>
<text x="469.4" y="765.2" font-size="9" text-anchor="middle">14.4</text>
<text x="376.0" y="859.2" font-size="9.4">TNF (PE/CY7)</text>
<line x1="451.9" x2="485.1" y1="856.0" y2="856.0" stroke="#222" stroke-width="0.8"/><path d="M489.1 856.0l-4.8 -2v4z" fill="#222"/>
<line x1="35.5" x2="35.5" y1="572.0" y2="590.4" stroke="#222" stroke-width="0.8"/>
<line x1="35.5" x2="35.5" y1="675.2" y2="694.4" stroke="#222" stroke-width="0.8"/>
<text transform="translate(32.6,632.8) rotate(-90)" font-size="9.8" text-anchor="middle">Co-cultured with</text>
<text transform="translate(44.2,632.8) rotate(-90)" font-size="9.8" text-anchor="middle">CD4<tspan font-size="5.8" dy="-3.6">+</tspan><tspan dy="3.6"> T cells (Con)</tspan></text>
<line x1="35.5" x2="35.5" y1="722.6" y2="742.0" stroke="#222" stroke-width="0.8"/>
<line x1="35.5" x2="35.5" y1="844.2" y2="862.4" stroke="#222" stroke-width="0.8"/>
<text transform="translate(32.6,793.1) rotate(-90)" font-size="9.8" text-anchor="middle">Co-cultured with</text>
<text transform="translate(44.2,793.1) rotate(-90)" font-size="9.8" text-anchor="middle">CD4<tspan font-size="5.8" dy="-3.6">+</tspan><tspan dy="3.6"> T cells (apCAFs)</tspan></text>
<text transform="translate(63.8,660.1) rotate(-90)" font-size="9.6" text-anchor="middle">SSC-A</text>
<line x1="60.4" x2="60.4" y1="638.3" y2="608.0" stroke="#222" stroke-width="0.8"/><path d="M60.4 604.0l-2 5h4z" fill="#222"/>
<text transform="translate(61.7,813.9) rotate(-90)" font-size="9.6" text-anchor="middle">SSC-A</text>
<line x1="58.3" x2="58.3" y1="791.2" y2="760.6" stroke="#222" stroke-width="0.8"/><path d="M58.3 756.6l-2 5h4z" fill="#222"/>
<circle cx="566.2" cy="576.2" r="3" fill="#000"/>
<rect x="563.4" y="588.3" width="5.6" height="5.6" fill="#f0206e"/>
<text x="577.8" y="579.6" font-size="8.5">CD4<tspan font-size="5.6" dy="-3.6">+</tspan><tspan dy="3.6"> T cell (Con)</tspan></text>
<text x="577.8" y="594.5" font-size="8.5">CD4<tspan font-size="5.6" dy="-3.6">+</tspan><tspan dy="3.6"> T cell (apCAFs)</tspan></text>
<path d="M560 603.2V700.4M559.5 699.9H662" stroke="#000" stroke-width="1" fill="none"/>
<line x1="557" x2="560" y1="699.9" y2="699.9" stroke="#000" stroke-width="0.9"/>
<text x="555.8" y="702.7" font-size="7.8" text-anchor="end">0</text>
<line x1="557" x2="560" y1="675.7" y2="675.7" stroke="#000" stroke-width="0.9"/>
<text x="555.8" y="678.5" font-size="7.8" text-anchor="end">5</text>
<line x1="557" x2="560" y1="651.5" y2="651.5" stroke="#000" stroke-width="0.9"/>
<text x="555.8" y="654.3" font-size="7.8" text-anchor="end">10</text>
<line x1="557" x2="560" y1="627.4" y2="627.4" stroke="#000" stroke-width="0.9"/>
<text x="555.8" y="630.2" font-size="7.8" text-anchor="end">15</text>
<line x1="557" x2="560" y1="603.2" y2="603.2" stroke="#000" stroke-width="0.9"/>
<text x="555.8" y="606.0" font-size="7.8" text-anchor="end">20</text>
<text transform="translate(543.5,651.8) rotate(-90)" font-size="8.4" text-anchor="middle">% in CD8<tspan font-size="5.2" dy="-3.3">+</tspan><tspan dy="3.3"> cells</tspan></text>
<path d="M566.8 699.9V659.3H573.7V699.9" fill="#fff" stroke="#000" stroke-width="1.3"/>
<path d="M570.2 659.3V657.4M568.2 657.4H572.2" stroke="#000" stroke-width="0.8"/>
<circle cx="570.2" cy="661.2" r="2.4" fill="#000"/>
<circle cx="568.2" cy="658.3" r="2.4" fill="#000"/>
<circle cx="572.2" cy="657.4" r="2.4" fill="#000"/>
<path d="M579.7 699.9V636.1H586.6V699.9" fill="#fff" stroke="#f0206e" stroke-width="1.3"/>
<path d="M583.2 636.1V632.2M581.2 632.2H585.2" stroke="#f0206e" stroke-width="0.8"/>
<rect x="580.9" y="626.0" width="4.6" height="4.6" fill="#f0206e"/>
<rect x="579.5" y="634.7" width="4.6" height="4.6" fill="#f0206e"/>
<rect x="582.3" y="640.5" width="4.6" height="4.6" fill="#f0206e"/>
<line x1="577.0" x2="577.0" y1="699.9" y2="703" stroke="#000" stroke-width="0.9"/>
<text x="578.0" y="711.5" font-size="7.8" text-anchor="middle">GZMB<tspan font-size="4.6" dy="-3">+</tspan></text>
<path d="M601.1 699.9V655.9H608.8V699.9" fill="#fff" stroke="#000" stroke-width="1.3"/>
<path d="M605.0 655.9V653.0M603.0 653.0H607.0" stroke="#000" stroke-width="0.8"/>
<circle cx="605.0" cy="649.1" r="2.4" fill="#000"/>
<circle cx="603.0" cy="656.4" r="2.4" fill="#000"/>
<circle cx="607.0" cy="658.8" r="2.4" fill="#000"/>
<path d="M614.6 699.9V633.2H621.4V699.9" fill="#fff" stroke="#f0206e" stroke-width="1.3"/>
<path d="M618.0 633.2V628.8M616.0 628.8H620.0" stroke="#f0206e" stroke-width="0.8"/>
<rect x="615.7" y="623.1" width="4.6" height="4.6" fill="#f0206e"/>
<rect x="614.3" y="632.3" width="4.6" height="4.6" fill="#f0206e"/>
<rect x="617.1" y="634.7" width="4.6" height="4.6" fill="#f0206e"/>
<line x1="611.5" x2="611.5" y1="699.9" y2="703" stroke="#000" stroke-width="0.9"/>
<text x="612.5" y="711.5" font-size="7.8" text-anchor="middle">IFN-γ<tspan font-size="4.6" dy="-3">+</tspan></text>
<path d="M637.0 699.9V652.5H643.9V699.9" fill="#fff" stroke="#000" stroke-width="1.3"/>
<path d="M640.5 652.5V647.7M638.5 647.7H642.5" stroke="#000" stroke-width="0.8"/>
<circle cx="640.5" cy="642.8" r="2.4" fill="#000"/>
<circle cx="638.5" cy="654.0" r="2.4" fill="#000"/>
<circle cx="642.5" cy="659.8" r="2.4" fill="#000"/>
<path d="M649.9 699.9V621.1H656.8V699.9" fill="#fff" stroke="#f0206e" stroke-width="1.3"/>
<path d="M653.3 621.1V616.3M651.3 616.3H655.3" stroke="#f0206e" stroke-width="0.8"/>
<rect x="651.0" y="613.0" width="4.6" height="4.6" fill="#f0206e"/>
<rect x="649.6" y="614.4" width="4.6" height="4.6" fill="#f0206e"/>
<rect x="652.4" y="625.1" width="4.6" height="4.6" fill="#f0206e"/>
<line x1="647.2" x2="647.2" y1="699.9" y2="703" stroke="#000" stroke-width="0.9"/>
<text x="648.2" y="711.5" font-size="7.8" text-anchor="middle">TNF<tspan font-size="4.6" dy="-3">+</tspan></text>
<line x1="567.0" x2="585.0" y1="610" y2="610" stroke="#000" stroke-width="0.9"/>
<text x="576.0" y="608" font-size="7.6" text-anchor="middle">0.001</text>
<line x1="600.0" x2="618.3" y1="610" y2="610" stroke="#000" stroke-width="0.9"/>
<text x="609.1" y="608" font-size="7.6" text-anchor="middle">0.011</text>
<line x1="639.0" x2="658.0" y1="610" y2="610" stroke="#000" stroke-width="0.9"/>
<text x="648.5" y="608" font-size="7.6" text-anchor="middle">0.009</text>
<text x="544.8" y="754.4" font-size="14.2">I</text>
<path d="M586.6 765.1V871.9M586.1 871.4H638.6" stroke="#000" stroke-width="1" fill="none"/>
<line x1="583.2" x2="586.6" y1="871.4" y2="871.4" stroke="#000" stroke-width="0.9"/>
<text x="582.3" y="874.3" font-size="8.2" text-anchor="end">0</text>
<line x1="583.2" x2="586.6" y1="844.8" y2="844.8" stroke="#000" stroke-width="0.9"/>
<text x="582.3" y="847.7" font-size="8.2" text-anchor="end">5</text>
<line x1="583.2" x2="586.6" y1="818.2" y2="818.2" stroke="#000" stroke-width="0.9"/>
<text x="582.3" y="821.1" font-size="8.2" text-anchor="end">10</text>
<line x1="583.2" x2="586.6" y1="791.7" y2="791.7" stroke="#000" stroke-width="0.9"/>
<text x="582.3" y="794.6" font-size="8.2" text-anchor="end">15</text>
<line x1="583.2" x2="586.6" y1="765.1" y2="765.1" stroke="#000" stroke-width="0.9"/>
<text x="582.3" y="768.0" font-size="8.2" text-anchor="end">20</text>
<path d="M595.1 871.4V797.0H607.9V871.4" fill="#fff" stroke="#000" stroke-width="1.3"/>
<path d="M617 871.4V775.2H630.1V871.4" fill="#fff" stroke="#f0206e" stroke-width="1.3"/>
<circle cx="599.5" cy="799.1" r="2.1" fill="#000"/>
<circle cx="601.5" cy="793.3" r="2.1" fill="#000"/>
<circle cx="603.7" cy="797.0" r="2.1" fill="#000"/>
<path d="M601.5 797.0V793.8M599.5 793.8H603.5" stroke="#000" stroke-width="0.8"/>
<rect x="618.7" y="772.9" width="3.6" height="3.6" fill="#f0206e"/>
<rect x="621.7" y="771.3" width="3.6" height="3.6" fill="#f0206e"/>
<rect x="624.7" y="772.3" width="3.6" height="3.6" fill="#f0206e"/>
<path d="M601.5 785.4V761H623.5V767.3" stroke="#000" stroke-width="0.9" fill="none"/>
<text x="612.6" y="757.8" font-size="7.6" text-anchor="middle">&lt; 0.001</text>
<line x1="601.5" x2="601.5" y1="871.4" y2="876" stroke="#000" stroke-width="0.9"/><line x1="623.5" x2="623.5" y1="871.4" y2="876" stroke="#000" stroke-width="0.9"/>
<text transform="translate(566.6,817.7) rotate(-90)" font-size="8.4" text-anchor="middle">% of dead tumor cells</text>
<circle cx="650.6" cy="848.8" r="2.6" fill="#000"/>
<rect x="663.3" y="846.3" width="5" height="5" fill="#f0206e"/>
<text transform="translate(654,836.4) rotate(-90)" font-size="8.6">CD4<tspan font-size="5.4" dy="-3.4">+</tspan><tspan dy="3.4"> T cells (Con)</tspan></text>
<text transform="translate(669,836.4) rotate(-90)" font-size="8.6">CD4<tspan font-size="5.4" dy="-3.4">+</tspan><tspan dy="3.4"> T cells (apCAFs)</tspan></text>
</svg></body></html>
